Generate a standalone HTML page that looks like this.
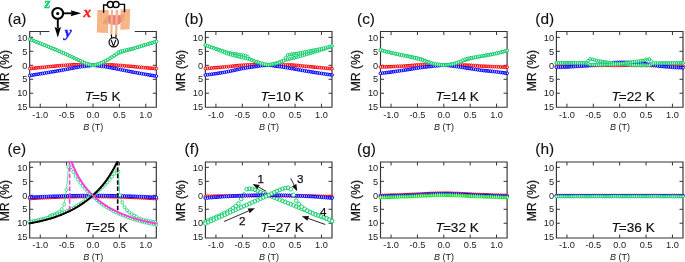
<!DOCTYPE html><html><head><meta charset="utf-8"><style>html,body{margin:0;padding:0;background:#fff;overflow:hidden}svg{display:block;filter:blur(0.3px)}</style></head><body>
<svg width="685" height="262" viewBox="0 0 685 262">
<rect width="685" height="262" fill="#fff"/>
<defs><clipPath id="ca"><rect x="27.2" y="31.5" width="131.6" height="75.7"/></clipPath><clipPath id="cb"><rect x="202.9" y="31.5" width="131.6" height="75.7"/></clipPath><clipPath id="cc"><rect x="378" y="31.5" width="131.6" height="75.7"/></clipPath><clipPath id="cd"><rect x="553.9" y="31.5" width="131.6" height="75.7"/></clipPath><clipPath id="ce"><rect x="27.2" y="161.5" width="131.6" height="75.7"/></clipPath><clipPath id="cf"><rect x="202.9" y="161.5" width="131.6" height="75.7"/></clipPath><clipPath id="cg"><rect x="378" y="161.5" width="131.6" height="75.7"/></clipPath><clipPath id="ch"><rect x="553.9" y="161.5" width="131.6" height="75.7"/></clipPath></defs>
<g font-family="Liberation Sans, sans-serif" font-size="9.2" fill="#1a1a1a"><text x="27.4" y="40.57" text-anchor="end">10</text><text x="27.4" y="54.53" text-anchor="end">5</text><text x="27.4" y="68.5" text-anchor="end">0</text><text x="27.4" y="82.47" text-anchor="end">5</text><text x="27.4" y="96.43" text-anchor="end">10</text><text x="27.4" y="110.4" text-anchor="end">15</text><text x="40.25" y="117.5" text-anchor="middle">-1.0</text><text x="66.62" y="117.5" text-anchor="middle">-0.5</text><text x="93" y="117.5" text-anchor="middle">0.0</text><text x="119.38" y="117.5" text-anchor="middle">0.5</text><text x="145.75" y="117.5" text-anchor="middle">1.0</text></g>
<text font-family="Liberation Sans, sans-serif" font-size="9" fill="#1a1a1a" x="93.2" y="130" text-anchor="middle"><tspan font-style="italic">B</tspan> (T)</text>
<text font-family="Liberation Sans, sans-serif" font-size="12.2" fill="#111" stroke="#111" stroke-width="0.25" x="0" y="0" text-anchor="middle" transform="translate(8.8 70.7) rotate(-90)">MR (%)</text>
<text font-family="Liberation Sans, sans-serif" font-size="15.4" fill="#111" stroke="#111" stroke-width="0.12" x="7.65" y="24.4">(a)</text>
<text font-family="Liberation Sans, sans-serif" font-size="13.6" fill="#111" stroke="#111" stroke-width="0.15" x="84.7" y="100.9"><tspan font-style="italic">T</tspan><tspan dx="-0.9">=5 K</tspan></text>
<g font-family="Liberation Sans, sans-serif" font-size="9.2" fill="#1a1a1a"><text x="203.1" y="40.57" text-anchor="end">10</text><text x="203.1" y="54.53" text-anchor="end">5</text><text x="203.1" y="68.5" text-anchor="end">0</text><text x="203.1" y="82.47" text-anchor="end">5</text><text x="203.1" y="96.43" text-anchor="end">10</text><text x="203.1" y="110.4" text-anchor="end">15</text><text x="215.95" y="117.5" text-anchor="middle">-1.0</text><text x="242.32" y="117.5" text-anchor="middle">-0.5</text><text x="268.7" y="117.5" text-anchor="middle">0.0</text><text x="295.07" y="117.5" text-anchor="middle">0.5</text><text x="321.45" y="117.5" text-anchor="middle">1.0</text></g>
<text font-family="Liberation Sans, sans-serif" font-size="9" fill="#1a1a1a" x="268.9" y="130" text-anchor="middle"><tspan font-style="italic">B</tspan> (T)</text>
<text font-family="Liberation Sans, sans-serif" font-size="12.2" fill="#111" stroke="#111" stroke-width="0.25" x="0" y="0" text-anchor="middle" transform="translate(184.5 70.7) rotate(-90)">MR (%)</text>
<text font-family="Liberation Sans, sans-serif" font-size="15.4" fill="#111" stroke="#111" stroke-width="0.12" x="184.55" y="24.4">(b)</text>
<text font-family="Liberation Sans, sans-serif" font-size="13.6" fill="#111" stroke="#111" stroke-width="0.15" x="260.4" y="100.9"><tspan font-style="italic">T</tspan><tspan dx="-0.9">=10 K</tspan></text>
<g font-family="Liberation Sans, sans-serif" font-size="9.2" fill="#1a1a1a"><text x="378.2" y="40.57" text-anchor="end">10</text><text x="378.2" y="54.53" text-anchor="end">5</text><text x="378.2" y="68.5" text-anchor="end">0</text><text x="378.2" y="82.47" text-anchor="end">5</text><text x="378.2" y="96.43" text-anchor="end">10</text><text x="378.2" y="110.4" text-anchor="end">15</text><text x="391.05" y="117.5" text-anchor="middle">-1.0</text><text x="417.43" y="117.5" text-anchor="middle">-0.5</text><text x="443.8" y="117.5" text-anchor="middle">0.0</text><text x="470.18" y="117.5" text-anchor="middle">0.5</text><text x="496.55" y="117.5" text-anchor="middle">1.0</text></g>
<text font-family="Liberation Sans, sans-serif" font-size="9" fill="#1a1a1a" x="444" y="130" text-anchor="middle"><tspan font-style="italic">B</tspan> (T)</text>
<text font-family="Liberation Sans, sans-serif" font-size="12.2" fill="#111" stroke="#111" stroke-width="0.25" x="0" y="0" text-anchor="middle" transform="translate(359.6 70.7) rotate(-90)">MR (%)</text>
<text font-family="Liberation Sans, sans-serif" font-size="15.4" fill="#111" stroke="#111" stroke-width="0.12" x="357.05" y="24.4">(c)</text>
<text font-family="Liberation Sans, sans-serif" font-size="13.6" fill="#111" stroke="#111" stroke-width="0.15" x="435.5" y="100.9"><tspan font-style="italic">T</tspan><tspan dx="-0.9">=14 K</tspan></text>
<g font-family="Liberation Sans, sans-serif" font-size="9.2" fill="#1a1a1a"><text x="554.1" y="40.57" text-anchor="end">10</text><text x="554.1" y="54.53" text-anchor="end">5</text><text x="554.1" y="68.5" text-anchor="end">0</text><text x="554.1" y="82.47" text-anchor="end">5</text><text x="554.1" y="96.43" text-anchor="end">10</text><text x="554.1" y="110.4" text-anchor="end">15</text><text x="566.95" y="117.5" text-anchor="middle">-1.0</text><text x="593.32" y="117.5" text-anchor="middle">-0.5</text><text x="619.7" y="117.5" text-anchor="middle">0.0</text><text x="646.07" y="117.5" text-anchor="middle">0.5</text><text x="672.45" y="117.5" text-anchor="middle">1.0</text></g>
<text font-family="Liberation Sans, sans-serif" font-size="9" fill="#1a1a1a" x="619.9" y="130" text-anchor="middle"><tspan font-style="italic">B</tspan> (T)</text>
<text font-family="Liberation Sans, sans-serif" font-size="12.2" fill="#111" stroke="#111" stroke-width="0.25" x="0" y="0" text-anchor="middle" transform="translate(535.5 70.7) rotate(-90)">MR (%)</text>
<text font-family="Liberation Sans, sans-serif" font-size="15.4" fill="#111" stroke="#111" stroke-width="0.12" x="535.35" y="24.4">(d)</text>
<text font-family="Liberation Sans, sans-serif" font-size="13.6" fill="#111" stroke="#111" stroke-width="0.15" x="611.4" y="100.9"><tspan font-style="italic">T</tspan><tspan dx="-0.9">=22 K</tspan></text>
<g font-family="Liberation Sans, sans-serif" font-size="9.2" fill="#1a1a1a"><text x="27.4" y="170.57" text-anchor="end">10</text><text x="27.4" y="184.53" text-anchor="end">5</text><text x="27.4" y="198.5" text-anchor="end">0</text><text x="27.4" y="212.47" text-anchor="end">5</text><text x="27.4" y="226.43" text-anchor="end">10</text><text x="27.4" y="240.4" text-anchor="end">15</text><text x="40.25" y="248" text-anchor="middle">-1.0</text><text x="66.62" y="248" text-anchor="middle">-0.5</text><text x="93" y="248" text-anchor="middle">0.0</text><text x="119.38" y="248" text-anchor="middle">0.5</text><text x="145.75" y="248" text-anchor="middle">1.0</text></g>
<text font-family="Liberation Sans, sans-serif" font-size="9" fill="#1a1a1a" x="93.2" y="260" text-anchor="middle"><tspan font-style="italic">B</tspan> (T)</text>
<text font-family="Liberation Sans, sans-serif" font-size="12.2" fill="#111" stroke="#111" stroke-width="0.25" x="0" y="0" text-anchor="middle" transform="translate(8.8 200.7) rotate(-90)">MR (%)</text>
<text font-family="Liberation Sans, sans-serif" font-size="15.4" fill="#111" stroke="#111" stroke-width="0.12" x="7.45" y="154.4">(e)</text>
<text font-family="Liberation Sans, sans-serif" font-size="13.6" fill="#111" stroke="#111" stroke-width="0.15" x="84.7" y="231.8"><tspan font-style="italic">T</tspan><tspan dx="-0.9">=25 K</tspan></text>
<g font-family="Liberation Sans, sans-serif" font-size="9.2" fill="#1a1a1a"><text x="203.1" y="170.57" text-anchor="end">10</text><text x="203.1" y="184.53" text-anchor="end">5</text><text x="203.1" y="198.5" text-anchor="end">0</text><text x="203.1" y="212.47" text-anchor="end">5</text><text x="203.1" y="226.43" text-anchor="end">10</text><text x="203.1" y="240.4" text-anchor="end">15</text><text x="215.95" y="248" text-anchor="middle">-1.0</text><text x="242.32" y="248" text-anchor="middle">-0.5</text><text x="268.7" y="248" text-anchor="middle">0.0</text><text x="295.07" y="248" text-anchor="middle">0.5</text><text x="321.45" y="248" text-anchor="middle">1.0</text></g>
<text font-family="Liberation Sans, sans-serif" font-size="9" fill="#1a1a1a" x="268.9" y="260" text-anchor="middle"><tspan font-style="italic">B</tspan> (T)</text>
<text font-family="Liberation Sans, sans-serif" font-size="12.2" fill="#111" stroke="#111" stroke-width="0.25" x="0" y="0" text-anchor="middle" transform="translate(184.5 200.7) rotate(-90)">MR (%)</text>
<text font-family="Liberation Sans, sans-serif" font-size="15.4" fill="#111" stroke="#111" stroke-width="0.12" x="184.55" y="154.4">(f)</text>
<text font-family="Liberation Sans, sans-serif" font-size="13.6" fill="#111" stroke="#111" stroke-width="0.15" x="260.4" y="231.8"><tspan font-style="italic">T</tspan><tspan dx="-0.9">=27 K</tspan></text>
<g font-family="Liberation Sans, sans-serif" font-size="9.2" fill="#1a1a1a"><text x="378.2" y="170.57" text-anchor="end">10</text><text x="378.2" y="184.53" text-anchor="end">5</text><text x="378.2" y="198.5" text-anchor="end">0</text><text x="378.2" y="212.47" text-anchor="end">5</text><text x="378.2" y="226.43" text-anchor="end">10</text><text x="378.2" y="240.4" text-anchor="end">15</text><text x="391.05" y="248" text-anchor="middle">-1.0</text><text x="417.43" y="248" text-anchor="middle">-0.5</text><text x="443.8" y="248" text-anchor="middle">0.0</text><text x="470.18" y="248" text-anchor="middle">0.5</text><text x="496.55" y="248" text-anchor="middle">1.0</text></g>
<text font-family="Liberation Sans, sans-serif" font-size="9" fill="#1a1a1a" x="444" y="260" text-anchor="middle"><tspan font-style="italic">B</tspan> (T)</text>
<text font-family="Liberation Sans, sans-serif" font-size="12.2" fill="#111" stroke="#111" stroke-width="0.25" x="0" y="0" text-anchor="middle" transform="translate(359.6 200.7) rotate(-90)">MR (%)</text>
<text font-family="Liberation Sans, sans-serif" font-size="15.4" fill="#111" stroke="#111" stroke-width="0.12" x="357.05" y="154.4">(g)</text>
<text font-family="Liberation Sans, sans-serif" font-size="13.6" fill="#111" stroke="#111" stroke-width="0.15" x="435.5" y="231.8"><tspan font-style="italic">T</tspan><tspan dx="-0.9">=32 K</tspan></text>
<g font-family="Liberation Sans, sans-serif" font-size="9.2" fill="#1a1a1a"><text x="554.1" y="170.57" text-anchor="end">10</text><text x="554.1" y="184.53" text-anchor="end">5</text><text x="554.1" y="198.5" text-anchor="end">0</text><text x="554.1" y="212.47" text-anchor="end">5</text><text x="554.1" y="226.43" text-anchor="end">10</text><text x="554.1" y="240.4" text-anchor="end">15</text><text x="566.95" y="248" text-anchor="middle">-1.0</text><text x="593.32" y="248" text-anchor="middle">-0.5</text><text x="619.7" y="248" text-anchor="middle">0.0</text><text x="646.07" y="248" text-anchor="middle">0.5</text><text x="672.45" y="248" text-anchor="middle">1.0</text></g>
<text font-family="Liberation Sans, sans-serif" font-size="9" fill="#1a1a1a" x="619.9" y="260" text-anchor="middle"><tspan font-style="italic">B</tspan> (T)</text>
<text font-family="Liberation Sans, sans-serif" font-size="12.2" fill="#111" stroke="#111" stroke-width="0.25" x="0" y="0" text-anchor="middle" transform="translate(535.5 200.7) rotate(-90)">MR (%)</text>
<text font-family="Liberation Sans, sans-serif" font-size="15.4" fill="#111" stroke="#111" stroke-width="0.12" x="535.35" y="154.4">(h)</text>
<text font-family="Liberation Sans, sans-serif" font-size="13.6" fill="#111" stroke="#111" stroke-width="0.15" x="611.4" y="231.8"><tspan font-style="italic">T</tspan><tspan dx="-0.9">=36 K</tspan></text>
<path d="M40.25 107.2v-3.5M40.25 31.5v3.5M66.62 107.2v-3.5M66.62 31.5v3.5M93 107.2v-3.5M93 31.5v3.5M119.38 107.2v-3.5M119.38 31.5v3.5M145.75 107.2v-3.5M145.75 31.5v3.5M29.7 37.37h3.5M156.3 37.37h-3.5M29.7 51.33h3.5M156.3 51.33h-3.5M29.7 65.3h3.5M156.3 65.3h-3.5M29.7 79.27h3.5M156.3 79.27h-3.5M29.7 93.23h3.5M156.3 93.23h-3.5" stroke="#333" stroke-width="1" fill="none"/>
<path d="M29.7 31.5 H49.3 M135 31.5 H156.3 V107.2 H29.7 V31.5" stroke="#333" stroke-width="1.15" fill="none" stroke-linecap="square"/>
<path d="M215.95 107.2v-3.5M215.95 31.5v3.5M242.32 107.2v-3.5M242.32 31.5v3.5M268.7 107.2v-3.5M268.7 31.5v3.5M295.07 107.2v-3.5M295.07 31.5v3.5M321.45 107.2v-3.5M321.45 31.5v3.5M205.4 37.37h3.5M332 37.37h-3.5M205.4 51.33h3.5M332 51.33h-3.5M205.4 65.3h3.5M332 65.3h-3.5M205.4 79.27h3.5M332 79.27h-3.5M205.4 93.23h3.5M332 93.23h-3.5" stroke="#333" stroke-width="1" fill="none"/>
<path d="M205.4 31.5H332V107.2H205.4Z" stroke="#333" stroke-width="1.15" fill="none" stroke-linecap="square"/>
<path d="M391.05 107.2v-3.5M391.05 31.5v3.5M417.43 107.2v-3.5M417.43 31.5v3.5M443.8 107.2v-3.5M443.8 31.5v3.5M470.18 107.2v-3.5M470.18 31.5v3.5M496.55 107.2v-3.5M496.55 31.5v3.5M380.5 37.37h3.5M507.1 37.37h-3.5M380.5 51.33h3.5M507.1 51.33h-3.5M380.5 65.3h3.5M507.1 65.3h-3.5M380.5 79.27h3.5M507.1 79.27h-3.5M380.5 93.23h3.5M507.1 93.23h-3.5" stroke="#333" stroke-width="1" fill="none"/>
<path d="M380.5 31.5H507.1V107.2H380.5Z" stroke="#333" stroke-width="1.15" fill="none" stroke-linecap="square"/>
<path d="M566.95 107.2v-3.5M566.95 31.5v3.5M593.32 107.2v-3.5M593.32 31.5v3.5M619.7 107.2v-3.5M619.7 31.5v3.5M646.07 107.2v-3.5M646.07 31.5v3.5M672.45 107.2v-3.5M672.45 31.5v3.5M556.4 37.37h3.5M683 37.37h-3.5M556.4 51.33h3.5M683 51.33h-3.5M556.4 65.3h3.5M683 65.3h-3.5M556.4 79.27h3.5M683 79.27h-3.5M556.4 93.23h3.5M683 93.23h-3.5" stroke="#333" stroke-width="1" fill="none"/>
<path d="M556.4 31.5H683V107.2H556.4Z" stroke="#333" stroke-width="1.15" fill="none" stroke-linecap="square"/>
<path d="M40.25 238v-3.5M40.25 162v3.5M66.62 238v-3.5M66.62 162v3.5M93 238v-3.5M93 162v3.5M119.38 238v-3.5M119.38 162v3.5M145.75 238v-3.5M145.75 162v3.5M29.7 167.37h3.5M156.3 167.37h-3.5M29.7 181.33h3.5M156.3 181.33h-3.5M29.7 195.3h3.5M156.3 195.3h-3.5M29.7 209.27h3.5M156.3 209.27h-3.5M29.7 223.23h3.5M156.3 223.23h-3.5" stroke="#333" stroke-width="1" fill="none"/>
<path d="M29.7 162H156.3V238H29.7Z" stroke="#333" stroke-width="1.15" fill="none" stroke-linecap="square"/>
<path d="M215.95 238v-3.5M215.95 162v3.5M242.32 238v-3.5M242.32 162v3.5M268.7 238v-3.5M268.7 162v3.5M295.07 238v-3.5M295.07 162v3.5M321.45 238v-3.5M321.45 162v3.5M205.4 167.37h3.5M332 167.37h-3.5M205.4 181.33h3.5M332 181.33h-3.5M205.4 195.3h3.5M332 195.3h-3.5M205.4 209.27h3.5M332 209.27h-3.5M205.4 223.23h3.5M332 223.23h-3.5" stroke="#333" stroke-width="1" fill="none"/>
<path d="M205.4 162H332V238H205.4Z" stroke="#333" stroke-width="1.15" fill="none" stroke-linecap="square"/>
<path d="M391.05 238v-3.5M391.05 162v3.5M417.43 238v-3.5M417.43 162v3.5M443.8 238v-3.5M443.8 162v3.5M470.18 238v-3.5M470.18 162v3.5M496.55 238v-3.5M496.55 162v3.5M380.5 167.37h3.5M507.1 167.37h-3.5M380.5 181.33h3.5M507.1 181.33h-3.5M380.5 195.3h3.5M507.1 195.3h-3.5M380.5 209.27h3.5M507.1 209.27h-3.5M380.5 223.23h3.5M507.1 223.23h-3.5" stroke="#333" stroke-width="1" fill="none"/>
<path d="M380.5 162H507.1V238H380.5Z" stroke="#333" stroke-width="1.15" fill="none" stroke-linecap="square"/>
<path d="M566.95 238v-3.5M566.95 162v3.5M593.32 238v-3.5M593.32 162v3.5M619.7 238v-3.5M619.7 162v3.5M646.07 238v-3.5M646.07 162v3.5M672.45 238v-3.5M672.45 162v3.5M556.4 167.37h3.5M683 167.37h-3.5M556.4 181.33h3.5M683 181.33h-3.5M556.4 195.3h3.5M683 195.3h-3.5M556.4 209.27h3.5M683 209.27h-3.5M556.4 223.23h3.5M683 223.23h-3.5" stroke="#333" stroke-width="1" fill="none"/>
<path d="M556.4 162H683V238H556.4Z" stroke="#333" stroke-width="1.15" fill="none" stroke-linecap="square"/>
<g><g clip-path="url(#ca)"><path d="M28.3 68.6a1.4 1.4 0 1 0 2.8 0a1.4 1.4 0 1 0 -2.8 0M30.41 68.38a1.4 1.4 0 1 0 2.8 0a1.4 1.4 0 1 0 -2.8 0M32.52 68.16a1.4 1.4 0 1 0 2.8 0a1.4 1.4 0 1 0 -2.8 0M34.63 67.95a1.4 1.4 0 1 0 2.8 0a1.4 1.4 0 1 0 -2.8 0M36.74 67.74a1.4 1.4 0 1 0 2.8 0a1.4 1.4 0 1 0 -2.8 0M38.85 67.53a1.4 1.4 0 1 0 2.8 0a1.4 1.4 0 1 0 -2.8 0M40.96 67.33a1.4 1.4 0 1 0 2.8 0a1.4 1.4 0 1 0 -2.8 0M43.07 67.12a1.4 1.4 0 1 0 2.8 0a1.4 1.4 0 1 0 -2.8 0M45.18 66.93a1.4 1.4 0 1 0 2.8 0a1.4 1.4 0 1 0 -2.8 0M47.29 66.73a1.4 1.4 0 1 0 2.8 0a1.4 1.4 0 1 0 -2.8 0M49.4 66.53a1.4 1.4 0 1 0 2.8 0a1.4 1.4 0 1 0 -2.8 0M51.51 66.33a1.4 1.4 0 1 0 2.8 0a1.4 1.4 0 1 0 -2.8 0M53.62 66.13a1.4 1.4 0 1 0 2.8 0a1.4 1.4 0 1 0 -2.8 0M55.73 65.94a1.4 1.4 0 1 0 2.8 0a1.4 1.4 0 1 0 -2.8 0M57.84 65.76a1.4 1.4 0 1 0 2.8 0a1.4 1.4 0 1 0 -2.8 0M59.95 65.59a1.4 1.4 0 1 0 2.8 0a1.4 1.4 0 1 0 -2.8 0M62.06 65.44a1.4 1.4 0 1 0 2.8 0a1.4 1.4 0 1 0 -2.8 0M64.17 65.28a1.4 1.4 0 1 0 2.8 0a1.4 1.4 0 1 0 -2.8 0M66.28 65.12a1.4 1.4 0 1 0 2.8 0a1.4 1.4 0 1 0 -2.8 0M68.39 64.97a1.4 1.4 0 1 0 2.8 0a1.4 1.4 0 1 0 -2.8 0M70.5 64.84a1.4 1.4 0 1 0 2.8 0a1.4 1.4 0 1 0 -2.8 0M72.61 64.76a1.4 1.4 0 1 0 2.8 0a1.4 1.4 0 1 0 -2.8 0M74.72 64.74a1.4 1.4 0 1 0 2.8 0a1.4 1.4 0 1 0 -2.8 0M76.83 64.77a1.4 1.4 0 1 0 2.8 0a1.4 1.4 0 1 0 -2.8 0M78.94 64.82a1.4 1.4 0 1 0 2.8 0a1.4 1.4 0 1 0 -2.8 0M81.05 64.88a1.4 1.4 0 1 0 2.8 0a1.4 1.4 0 1 0 -2.8 0M83.16 64.95a1.4 1.4 0 1 0 2.8 0a1.4 1.4 0 1 0 -2.8 0M85.27 65.03a1.4 1.4 0 1 0 2.8 0a1.4 1.4 0 1 0 -2.8 0M87.38 65.15a1.4 1.4 0 1 0 2.8 0a1.4 1.4 0 1 0 -2.8 0M89.49 65.25a1.4 1.4 0 1 0 2.8 0a1.4 1.4 0 1 0 -2.8 0M91.6 65.3a1.4 1.4 0 1 0 2.8 0a1.4 1.4 0 1 0 -2.8 0M93.71 65.26a1.4 1.4 0 1 0 2.8 0a1.4 1.4 0 1 0 -2.8 0M95.82 65.17a1.4 1.4 0 1 0 2.8 0a1.4 1.4 0 1 0 -2.8 0M97.93 65.07a1.4 1.4 0 1 0 2.8 0a1.4 1.4 0 1 0 -2.8 0M100.04 65.01a1.4 1.4 0 1 0 2.8 0a1.4 1.4 0 1 0 -2.8 0M102.15 64.96a1.4 1.4 0 1 0 2.8 0a1.4 1.4 0 1 0 -2.8 0M104.26 64.92a1.4 1.4 0 1 0 2.8 0a1.4 1.4 0 1 0 -2.8 0M106.37 64.89a1.4 1.4 0 1 0 2.8 0a1.4 1.4 0 1 0 -2.8 0M108.48 64.88a1.4 1.4 0 1 0 2.8 0a1.4 1.4 0 1 0 -2.8 0M110.59 64.93a1.4 1.4 0 1 0 2.8 0a1.4 1.4 0 1 0 -2.8 0M112.7 65.02a1.4 1.4 0 1 0 2.8 0a1.4 1.4 0 1 0 -2.8 0M114.81 65.16a1.4 1.4 0 1 0 2.8 0a1.4 1.4 0 1 0 -2.8 0M116.92 65.32a1.4 1.4 0 1 0 2.8 0a1.4 1.4 0 1 0 -2.8 0M119.03 65.5a1.4 1.4 0 1 0 2.8 0a1.4 1.4 0 1 0 -2.8 0M121.14 65.69a1.4 1.4 0 1 0 2.8 0a1.4 1.4 0 1 0 -2.8 0M123.25 65.87a1.4 1.4 0 1 0 2.8 0a1.4 1.4 0 1 0 -2.8 0M125.36 66.04a1.4 1.4 0 1 0 2.8 0a1.4 1.4 0 1 0 -2.8 0M127.47 66.21a1.4 1.4 0 1 0 2.8 0a1.4 1.4 0 1 0 -2.8 0M129.58 66.4a1.4 1.4 0 1 0 2.8 0a1.4 1.4 0 1 0 -2.8 0M131.69 66.6a1.4 1.4 0 1 0 2.8 0a1.4 1.4 0 1 0 -2.8 0M133.8 66.8a1.4 1.4 0 1 0 2.8 0a1.4 1.4 0 1 0 -2.8 0M135.91 67.01a1.4 1.4 0 1 0 2.8 0a1.4 1.4 0 1 0 -2.8 0M138.02 67.21a1.4 1.4 0 1 0 2.8 0a1.4 1.4 0 1 0 -2.8 0M140.13 67.4a1.4 1.4 0 1 0 2.8 0a1.4 1.4 0 1 0 -2.8 0M142.24 67.59a1.4 1.4 0 1 0 2.8 0a1.4 1.4 0 1 0 -2.8 0M144.35 67.77a1.4 1.4 0 1 0 2.8 0a1.4 1.4 0 1 0 -2.8 0M146.46 67.94a1.4 1.4 0 1 0 2.8 0a1.4 1.4 0 1 0 -2.8 0M148.57 68.12a1.4 1.4 0 1 0 2.8 0a1.4 1.4 0 1 0 -2.8 0M150.68 68.28a1.4 1.4 0 1 0 2.8 0a1.4 1.4 0 1 0 -2.8 0M152.79 68.45a1.4 1.4 0 1 0 2.8 0a1.4 1.4 0 1 0 -2.8 0M154.9 68.61a1.4 1.4 0 1 0 2.8 0a1.4 1.4 0 1 0 -2.8 0" fill="#fff" stroke="#ff0000" stroke-width="1.0"/><path d="M28.3 75.55a1.4 1.4 0 1 0 2.8 0a1.4 1.4 0 1 0 -2.8 0M30.41 75.2a1.4 1.4 0 1 0 2.8 0a1.4 1.4 0 1 0 -2.8 0M32.52 74.85a1.4 1.4 0 1 0 2.8 0a1.4 1.4 0 1 0 -2.8 0M34.63 74.51a1.4 1.4 0 1 0 2.8 0a1.4 1.4 0 1 0 -2.8 0M36.74 74.16a1.4 1.4 0 1 0 2.8 0a1.4 1.4 0 1 0 -2.8 0M38.85 73.81a1.4 1.4 0 1 0 2.8 0a1.4 1.4 0 1 0 -2.8 0M40.96 73.46a1.4 1.4 0 1 0 2.8 0a1.4 1.4 0 1 0 -2.8 0M43.07 73.11a1.4 1.4 0 1 0 2.8 0a1.4 1.4 0 1 0 -2.8 0M45.18 72.75a1.4 1.4 0 1 0 2.8 0a1.4 1.4 0 1 0 -2.8 0M47.29 72.4a1.4 1.4 0 1 0 2.8 0a1.4 1.4 0 1 0 -2.8 0M49.4 72.05a1.4 1.4 0 1 0 2.8 0a1.4 1.4 0 1 0 -2.8 0M51.51 71.7a1.4 1.4 0 1 0 2.8 0a1.4 1.4 0 1 0 -2.8 0M53.62 71.35a1.4 1.4 0 1 0 2.8 0a1.4 1.4 0 1 0 -2.8 0M55.73 71a1.4 1.4 0 1 0 2.8 0a1.4 1.4 0 1 0 -2.8 0M57.84 70.64a1.4 1.4 0 1 0 2.8 0a1.4 1.4 0 1 0 -2.8 0M59.95 70.28a1.4 1.4 0 1 0 2.8 0a1.4 1.4 0 1 0 -2.8 0M62.06 69.91a1.4 1.4 0 1 0 2.8 0a1.4 1.4 0 1 0 -2.8 0M64.17 69.52a1.4 1.4 0 1 0 2.8 0a1.4 1.4 0 1 0 -2.8 0M66.28 69.12a1.4 1.4 0 1 0 2.8 0a1.4 1.4 0 1 0 -2.8 0M68.39 68.71a1.4 1.4 0 1 0 2.8 0a1.4 1.4 0 1 0 -2.8 0M70.5 68.29a1.4 1.4 0 1 0 2.8 0a1.4 1.4 0 1 0 -2.8 0M72.61 67.88a1.4 1.4 0 1 0 2.8 0a1.4 1.4 0 1 0 -2.8 0M74.72 67.49a1.4 1.4 0 1 0 2.8 0a1.4 1.4 0 1 0 -2.8 0M76.83 67.13a1.4 1.4 0 1 0 2.8 0a1.4 1.4 0 1 0 -2.8 0M78.94 66.81a1.4 1.4 0 1 0 2.8 0a1.4 1.4 0 1 0 -2.8 0M81.05 66.52a1.4 1.4 0 1 0 2.8 0a1.4 1.4 0 1 0 -2.8 0M83.16 66.26a1.4 1.4 0 1 0 2.8 0a1.4 1.4 0 1 0 -2.8 0M85.27 66.02a1.4 1.4 0 1 0 2.8 0a1.4 1.4 0 1 0 -2.8 0M87.38 65.78a1.4 1.4 0 1 0 2.8 0a1.4 1.4 0 1 0 -2.8 0M89.49 65.49a1.4 1.4 0 1 0 2.8 0a1.4 1.4 0 1 0 -2.8 0M91.6 65.3a1.4 1.4 0 1 0 2.8 0a1.4 1.4 0 1 0 -2.8 0M93.71 65.44a1.4 1.4 0 1 0 2.8 0a1.4 1.4 0 1 0 -2.8 0M95.82 65.72a1.4 1.4 0 1 0 2.8 0a1.4 1.4 0 1 0 -2.8 0M97.93 65.98a1.4 1.4 0 1 0 2.8 0a1.4 1.4 0 1 0 -2.8 0M100.04 66.23a1.4 1.4 0 1 0 2.8 0a1.4 1.4 0 1 0 -2.8 0M102.15 66.51a1.4 1.4 0 1 0 2.8 0a1.4 1.4 0 1 0 -2.8 0M104.26 66.81a1.4 1.4 0 1 0 2.8 0a1.4 1.4 0 1 0 -2.8 0M106.37 67.15a1.4 1.4 0 1 0 2.8 0a1.4 1.4 0 1 0 -2.8 0M108.48 67.53a1.4 1.4 0 1 0 2.8 0a1.4 1.4 0 1 0 -2.8 0M110.59 67.93a1.4 1.4 0 1 0 2.8 0a1.4 1.4 0 1 0 -2.8 0M112.7 68.35a1.4 1.4 0 1 0 2.8 0a1.4 1.4 0 1 0 -2.8 0M114.81 68.78a1.4 1.4 0 1 0 2.8 0a1.4 1.4 0 1 0 -2.8 0M116.92 69.2a1.4 1.4 0 1 0 2.8 0a1.4 1.4 0 1 0 -2.8 0M119.03 69.61a1.4 1.4 0 1 0 2.8 0a1.4 1.4 0 1 0 -2.8 0M121.14 70.03a1.4 1.4 0 1 0 2.8 0a1.4 1.4 0 1 0 -2.8 0M123.25 70.45a1.4 1.4 0 1 0 2.8 0a1.4 1.4 0 1 0 -2.8 0M125.36 70.87a1.4 1.4 0 1 0 2.8 0a1.4 1.4 0 1 0 -2.8 0M127.47 71.29a1.4 1.4 0 1 0 2.8 0a1.4 1.4 0 1 0 -2.8 0M129.58 71.71a1.4 1.4 0 1 0 2.8 0a1.4 1.4 0 1 0 -2.8 0M131.69 72.11a1.4 1.4 0 1 0 2.8 0a1.4 1.4 0 1 0 -2.8 0M133.8 72.51a1.4 1.4 0 1 0 2.8 0a1.4 1.4 0 1 0 -2.8 0M135.91 72.89a1.4 1.4 0 1 0 2.8 0a1.4 1.4 0 1 0 -2.8 0M138.02 73.27a1.4 1.4 0 1 0 2.8 0a1.4 1.4 0 1 0 -2.8 0M140.13 73.64a1.4 1.4 0 1 0 2.8 0a1.4 1.4 0 1 0 -2.8 0M142.24 74.01a1.4 1.4 0 1 0 2.8 0a1.4 1.4 0 1 0 -2.8 0M144.35 74.38a1.4 1.4 0 1 0 2.8 0a1.4 1.4 0 1 0 -2.8 0M146.46 74.74a1.4 1.4 0 1 0 2.8 0a1.4 1.4 0 1 0 -2.8 0M148.57 75.09a1.4 1.4 0 1 0 2.8 0a1.4 1.4 0 1 0 -2.8 0M150.68 75.44a1.4 1.4 0 1 0 2.8 0a1.4 1.4 0 1 0 -2.8 0M152.79 75.78a1.4 1.4 0 1 0 2.8 0a1.4 1.4 0 1 0 -2.8 0M154.9 76.11a1.4 1.4 0 1 0 2.8 0a1.4 1.4 0 1 0 -2.8 0" fill="#fff" stroke="#0000ff" stroke-width="1.0"/><path d="M28.3 39.25a1.4 1.4 0 1 0 2.8 0a1.4 1.4 0 1 0 -2.8 0M30.41 40.07a1.4 1.4 0 1 0 2.8 0a1.4 1.4 0 1 0 -2.8 0M32.52 40.89a1.4 1.4 0 1 0 2.8 0a1.4 1.4 0 1 0 -2.8 0M34.63 41.73a1.4 1.4 0 1 0 2.8 0a1.4 1.4 0 1 0 -2.8 0M36.74 42.56a1.4 1.4 0 1 0 2.8 0a1.4 1.4 0 1 0 -2.8 0M38.85 43.4a1.4 1.4 0 1 0 2.8 0a1.4 1.4 0 1 0 -2.8 0M40.96 44.25a1.4 1.4 0 1 0 2.8 0a1.4 1.4 0 1 0 -2.8 0M43.07 45.1a1.4 1.4 0 1 0 2.8 0a1.4 1.4 0 1 0 -2.8 0M45.18 45.96a1.4 1.4 0 1 0 2.8 0a1.4 1.4 0 1 0 -2.8 0M47.29 46.82a1.4 1.4 0 1 0 2.8 0a1.4 1.4 0 1 0 -2.8 0M49.4 47.68a1.4 1.4 0 1 0 2.8 0a1.4 1.4 0 1 0 -2.8 0M51.51 48.55a1.4 1.4 0 1 0 2.8 0a1.4 1.4 0 1 0 -2.8 0M53.62 49.42a1.4 1.4 0 1 0 2.8 0a1.4 1.4 0 1 0 -2.8 0M55.73 50.3a1.4 1.4 0 1 0 2.8 0a1.4 1.4 0 1 0 -2.8 0M57.84 51.19a1.4 1.4 0 1 0 2.8 0a1.4 1.4 0 1 0 -2.8 0M59.95 52.09a1.4 1.4 0 1 0 2.8 0a1.4 1.4 0 1 0 -2.8 0M62.06 53.01a1.4 1.4 0 1 0 2.8 0a1.4 1.4 0 1 0 -2.8 0M64.17 53.95a1.4 1.4 0 1 0 2.8 0a1.4 1.4 0 1 0 -2.8 0M66.28 54.92a1.4 1.4 0 1 0 2.8 0a1.4 1.4 0 1 0 -2.8 0M68.39 55.91a1.4 1.4 0 1 0 2.8 0a1.4 1.4 0 1 0 -2.8 0M70.5 56.9a1.4 1.4 0 1 0 2.8 0a1.4 1.4 0 1 0 -2.8 0M72.61 57.9a1.4 1.4 0 1 0 2.8 0a1.4 1.4 0 1 0 -2.8 0M74.72 58.89a1.4 1.4 0 1 0 2.8 0a1.4 1.4 0 1 0 -2.8 0M76.83 59.87a1.4 1.4 0 1 0 2.8 0a1.4 1.4 0 1 0 -2.8 0M78.94 60.83a1.4 1.4 0 1 0 2.8 0a1.4 1.4 0 1 0 -2.8 0M81.05 61.83a1.4 1.4 0 1 0 2.8 0a1.4 1.4 0 1 0 -2.8 0M83.16 62.84a1.4 1.4 0 1 0 2.8 0a1.4 1.4 0 1 0 -2.8 0M85.27 63.71a1.4 1.4 0 1 0 2.8 0a1.4 1.4 0 1 0 -2.8 0M87.38 64.35a1.4 1.4 0 1 0 2.8 0a1.4 1.4 0 1 0 -2.8 0M89.49 64.91a1.4 1.4 0 1 0 2.8 0a1.4 1.4 0 1 0 -2.8 0M91.6 65.16a1.4 1.4 0 1 0 2.8 0a1.4 1.4 0 1 0 -2.8 0M93.71 64.91a1.4 1.4 0 1 0 2.8 0a1.4 1.4 0 1 0 -2.8 0M95.82 64.35a1.4 1.4 0 1 0 2.8 0a1.4 1.4 0 1 0 -2.8 0M97.93 63.71a1.4 1.4 0 1 0 2.8 0a1.4 1.4 0 1 0 -2.8 0M100.04 62.87a1.4 1.4 0 1 0 2.8 0a1.4 1.4 0 1 0 -2.8 0M102.15 61.87a1.4 1.4 0 1 0 2.8 0a1.4 1.4 0 1 0 -2.8 0M104.26 60.83a1.4 1.4 0 1 0 2.8 0a1.4 1.4 0 1 0 -2.8 0M106.37 59.71a1.4 1.4 0 1 0 2.8 0a1.4 1.4 0 1 0 -2.8 0M108.48 58.45a1.4 1.4 0 1 0 2.8 0a1.4 1.4 0 1 0 -2.8 0M110.59 57.12a1.4 1.4 0 1 0 2.8 0a1.4 1.4 0 1 0 -2.8 0M112.7 55.8a1.4 1.4 0 1 0 2.8 0a1.4 1.4 0 1 0 -2.8 0M114.81 54.56a1.4 1.4 0 1 0 2.8 0a1.4 1.4 0 1 0 -2.8 0M116.92 53.47a1.4 1.4 0 1 0 2.8 0a1.4 1.4 0 1 0 -2.8 0M119.03 52.59a1.4 1.4 0 1 0 2.8 0a1.4 1.4 0 1 0 -2.8 0M121.14 51.81a1.4 1.4 0 1 0 2.8 0a1.4 1.4 0 1 0 -2.8 0M123.25 51.11a1.4 1.4 0 1 0 2.8 0a1.4 1.4 0 1 0 -2.8 0M125.36 50.45a1.4 1.4 0 1 0 2.8 0a1.4 1.4 0 1 0 -2.8 0M127.47 49.83a1.4 1.4 0 1 0 2.8 0a1.4 1.4 0 1 0 -2.8 0M129.58 49.23a1.4 1.4 0 1 0 2.8 0a1.4 1.4 0 1 0 -2.8 0M131.69 48.62a1.4 1.4 0 1 0 2.8 0a1.4 1.4 0 1 0 -2.8 0M133.8 47.98a1.4 1.4 0 1 0 2.8 0a1.4 1.4 0 1 0 -2.8 0M135.91 47.33a1.4 1.4 0 1 0 2.8 0a1.4 1.4 0 1 0 -2.8 0M138.02 46.67a1.4 1.4 0 1 0 2.8 0a1.4 1.4 0 1 0 -2.8 0M140.13 46.03a1.4 1.4 0 1 0 2.8 0a1.4 1.4 0 1 0 -2.8 0M142.24 45.38a1.4 1.4 0 1 0 2.8 0a1.4 1.4 0 1 0 -2.8 0M144.35 44.74a1.4 1.4 0 1 0 2.8 0a1.4 1.4 0 1 0 -2.8 0M146.46 44.1a1.4 1.4 0 1 0 2.8 0a1.4 1.4 0 1 0 -2.8 0M148.57 43.46a1.4 1.4 0 1 0 2.8 0a1.4 1.4 0 1 0 -2.8 0M150.68 42.83a1.4 1.4 0 1 0 2.8 0a1.4 1.4 0 1 0 -2.8 0M152.79 42.2a1.4 1.4 0 1 0 2.8 0a1.4 1.4 0 1 0 -2.8 0M154.9 41.57a1.4 1.4 0 1 0 2.8 0a1.4 1.4 0 1 0 -2.8 0" fill="#fff" stroke="#15cd6d" stroke-width="1.0"/><path d="M28.3 39.25a1.4 1.4 0 1 0 2.8 0a1.4 1.4 0 1 0 -2.8 0M30.41 40.07a1.4 1.4 0 1 0 2.8 0a1.4 1.4 0 1 0 -2.8 0M32.52 40.89a1.4 1.4 0 1 0 2.8 0a1.4 1.4 0 1 0 -2.8 0M34.63 41.73a1.4 1.4 0 1 0 2.8 0a1.4 1.4 0 1 0 -2.8 0M36.74 42.56a1.4 1.4 0 1 0 2.8 0a1.4 1.4 0 1 0 -2.8 0M38.85 43.4a1.4 1.4 0 1 0 2.8 0a1.4 1.4 0 1 0 -2.8 0M40.96 44.25a1.4 1.4 0 1 0 2.8 0a1.4 1.4 0 1 0 -2.8 0M43.07 45.1a1.4 1.4 0 1 0 2.8 0a1.4 1.4 0 1 0 -2.8 0M45.18 45.96a1.4 1.4 0 1 0 2.8 0a1.4 1.4 0 1 0 -2.8 0M47.29 46.82a1.4 1.4 0 1 0 2.8 0a1.4 1.4 0 1 0 -2.8 0M49.4 47.68a1.4 1.4 0 1 0 2.8 0a1.4 1.4 0 1 0 -2.8 0M51.51 48.55a1.4 1.4 0 1 0 2.8 0a1.4 1.4 0 1 0 -2.8 0M53.62 49.42a1.4 1.4 0 1 0 2.8 0a1.4 1.4 0 1 0 -2.8 0M55.73 50.3a1.4 1.4 0 1 0 2.8 0a1.4 1.4 0 1 0 -2.8 0M57.84 51.19a1.4 1.4 0 1 0 2.8 0a1.4 1.4 0 1 0 -2.8 0M59.95 52.09a1.4 1.4 0 1 0 2.8 0a1.4 1.4 0 1 0 -2.8 0M62.06 53.01a1.4 1.4 0 1 0 2.8 0a1.4 1.4 0 1 0 -2.8 0M64.17 53.95a1.4 1.4 0 1 0 2.8 0a1.4 1.4 0 1 0 -2.8 0M66.28 54.92a1.4 1.4 0 1 0 2.8 0a1.4 1.4 0 1 0 -2.8 0M68.39 55.91a1.4 1.4 0 1 0 2.8 0a1.4 1.4 0 1 0 -2.8 0M70.5 56.9a1.4 1.4 0 1 0 2.8 0a1.4 1.4 0 1 0 -2.8 0M72.61 57.9a1.4 1.4 0 1 0 2.8 0a1.4 1.4 0 1 0 -2.8 0M74.72 58.89a1.4 1.4 0 1 0 2.8 0a1.4 1.4 0 1 0 -2.8 0M76.83 59.87a1.4 1.4 0 1 0 2.8 0a1.4 1.4 0 1 0 -2.8 0M78.94 60.83a1.4 1.4 0 1 0 2.8 0a1.4 1.4 0 1 0 -2.8 0M81.05 61.83a1.4 1.4 0 1 0 2.8 0a1.4 1.4 0 1 0 -2.8 0M83.16 62.84a1.4 1.4 0 1 0 2.8 0a1.4 1.4 0 1 0 -2.8 0M85.27 63.71a1.4 1.4 0 1 0 2.8 0a1.4 1.4 0 1 0 -2.8 0M87.38 64.35a1.4 1.4 0 1 0 2.8 0a1.4 1.4 0 1 0 -2.8 0M89.49 64.91a1.4 1.4 0 1 0 2.8 0a1.4 1.4 0 1 0 -2.8 0M91.6 65.16a1.4 1.4 0 1 0 2.8 0a1.4 1.4 0 1 0 -2.8 0M93.71 64.91a1.4 1.4 0 1 0 2.8 0a1.4 1.4 0 1 0 -2.8 0M95.82 64.35a1.4 1.4 0 1 0 2.8 0a1.4 1.4 0 1 0 -2.8 0M97.93 63.71a1.4 1.4 0 1 0 2.8 0a1.4 1.4 0 1 0 -2.8 0M100.04 62.87a1.4 1.4 0 1 0 2.8 0a1.4 1.4 0 1 0 -2.8 0M102.15 61.87a1.4 1.4 0 1 0 2.8 0a1.4 1.4 0 1 0 -2.8 0M104.26 60.83a1.4 1.4 0 1 0 2.8 0a1.4 1.4 0 1 0 -2.8 0M106.37 59.71a1.4 1.4 0 1 0 2.8 0a1.4 1.4 0 1 0 -2.8 0M108.48 58.45a1.4 1.4 0 1 0 2.8 0a1.4 1.4 0 1 0 -2.8 0M110.59 57.12a1.4 1.4 0 1 0 2.8 0a1.4 1.4 0 1 0 -2.8 0M112.7 55.8a1.4 1.4 0 1 0 2.8 0a1.4 1.4 0 1 0 -2.8 0M114.81 54.07a1.4 1.4 0 1 0 2.8 0a1.4 1.4 0 1 0 -2.8 0M116.92 52.22a1.4 1.4 0 1 0 2.8 0a1.4 1.4 0 1 0 -2.8 0M119.03 51.3a1.4 1.4 0 1 0 2.8 0a1.4 1.4 0 1 0 -2.8 0M121.14 50.75a1.4 1.4 0 1 0 2.8 0a1.4 1.4 0 1 0 -2.8 0M123.25 50.27a1.4 1.4 0 1 0 2.8 0a1.4 1.4 0 1 0 -2.8 0M125.36 49.84a1.4 1.4 0 1 0 2.8 0a1.4 1.4 0 1 0 -2.8 0M127.47 49.44a1.4 1.4 0 1 0 2.8 0a1.4 1.4 0 1 0 -2.8 0M129.58 49.06a1.4 1.4 0 1 0 2.8 0a1.4 1.4 0 1 0 -2.8 0M131.69 48.62a1.4 1.4 0 1 0 2.8 0a1.4 1.4 0 1 0 -2.8 0M133.8 47.98a1.4 1.4 0 1 0 2.8 0a1.4 1.4 0 1 0 -2.8 0M135.91 47.33a1.4 1.4 0 1 0 2.8 0a1.4 1.4 0 1 0 -2.8 0M138.02 46.67a1.4 1.4 0 1 0 2.8 0a1.4 1.4 0 1 0 -2.8 0M140.13 46.03a1.4 1.4 0 1 0 2.8 0a1.4 1.4 0 1 0 -2.8 0M142.24 45.38a1.4 1.4 0 1 0 2.8 0a1.4 1.4 0 1 0 -2.8 0M144.35 44.74a1.4 1.4 0 1 0 2.8 0a1.4 1.4 0 1 0 -2.8 0M146.46 44.1a1.4 1.4 0 1 0 2.8 0a1.4 1.4 0 1 0 -2.8 0M148.57 43.46a1.4 1.4 0 1 0 2.8 0a1.4 1.4 0 1 0 -2.8 0M150.68 42.83a1.4 1.4 0 1 0 2.8 0a1.4 1.4 0 1 0 -2.8 0M152.79 42.2a1.4 1.4 0 1 0 2.8 0a1.4 1.4 0 1 0 -2.8 0M154.9 41.57a1.4 1.4 0 1 0 2.8 0a1.4 1.4 0 1 0 -2.8 0" fill="#fff" stroke="#15cd6d" stroke-width="1.0"/></g><g clip-path="url(#cb)"><path d="M204 68.47a1.4 1.4 0 1 0 2.8 0a1.4 1.4 0 1 0 -2.8 0M206.11 68.32a1.4 1.4 0 1 0 2.8 0a1.4 1.4 0 1 0 -2.8 0M208.22 68.17a1.4 1.4 0 1 0 2.8 0a1.4 1.4 0 1 0 -2.8 0M210.33 68.01a1.4 1.4 0 1 0 2.8 0a1.4 1.4 0 1 0 -2.8 0M212.44 67.85a1.4 1.4 0 1 0 2.8 0a1.4 1.4 0 1 0 -2.8 0M214.55 67.68a1.4 1.4 0 1 0 2.8 0a1.4 1.4 0 1 0 -2.8 0M216.66 67.51a1.4 1.4 0 1 0 2.8 0a1.4 1.4 0 1 0 -2.8 0M218.77 67.33a1.4 1.4 0 1 0 2.8 0a1.4 1.4 0 1 0 -2.8 0M220.88 67.16a1.4 1.4 0 1 0 2.8 0a1.4 1.4 0 1 0 -2.8 0M222.99 66.98a1.4 1.4 0 1 0 2.8 0a1.4 1.4 0 1 0 -2.8 0M225.1 66.78a1.4 1.4 0 1 0 2.8 0a1.4 1.4 0 1 0 -2.8 0M227.21 66.57a1.4 1.4 0 1 0 2.8 0a1.4 1.4 0 1 0 -2.8 0M229.32 66.34a1.4 1.4 0 1 0 2.8 0a1.4 1.4 0 1 0 -2.8 0M231.43 66.11a1.4 1.4 0 1 0 2.8 0a1.4 1.4 0 1 0 -2.8 0M233.54 65.89a1.4 1.4 0 1 0 2.8 0a1.4 1.4 0 1 0 -2.8 0M235.65 65.67a1.4 1.4 0 1 0 2.8 0a1.4 1.4 0 1 0 -2.8 0M237.76 65.47a1.4 1.4 0 1 0 2.8 0a1.4 1.4 0 1 0 -2.8 0M239.87 65.3a1.4 1.4 0 1 0 2.8 0a1.4 1.4 0 1 0 -2.8 0M241.98 65.16a1.4 1.4 0 1 0 2.8 0a1.4 1.4 0 1 0 -2.8 0M244.09 65.03a1.4 1.4 0 1 0 2.8 0a1.4 1.4 0 1 0 -2.8 0M246.2 64.91a1.4 1.4 0 1 0 2.8 0a1.4 1.4 0 1 0 -2.8 0M248.31 64.81a1.4 1.4 0 1 0 2.8 0a1.4 1.4 0 1 0 -2.8 0M250.42 64.75a1.4 1.4 0 1 0 2.8 0a1.4 1.4 0 1 0 -2.8 0M252.53 64.75a1.4 1.4 0 1 0 2.8 0a1.4 1.4 0 1 0 -2.8 0M254.64 64.79a1.4 1.4 0 1 0 2.8 0a1.4 1.4 0 1 0 -2.8 0M256.75 64.87a1.4 1.4 0 1 0 2.8 0a1.4 1.4 0 1 0 -2.8 0M258.86 64.95a1.4 1.4 0 1 0 2.8 0a1.4 1.4 0 1 0 -2.8 0M260.97 65.03a1.4 1.4 0 1 0 2.8 0a1.4 1.4 0 1 0 -2.8 0M263.08 65.15a1.4 1.4 0 1 0 2.8 0a1.4 1.4 0 1 0 -2.8 0M265.19 65.25a1.4 1.4 0 1 0 2.8 0a1.4 1.4 0 1 0 -2.8 0M267.3 65.3a1.4 1.4 0 1 0 2.8 0a1.4 1.4 0 1 0 -2.8 0M269.41 65.26a1.4 1.4 0 1 0 2.8 0a1.4 1.4 0 1 0 -2.8 0M271.52 65.17a1.4 1.4 0 1 0 2.8 0a1.4 1.4 0 1 0 -2.8 0M273.63 65.07a1.4 1.4 0 1 0 2.8 0a1.4 1.4 0 1 0 -2.8 0M275.74 65.01a1.4 1.4 0 1 0 2.8 0a1.4 1.4 0 1 0 -2.8 0M277.85 64.97a1.4 1.4 0 1 0 2.8 0a1.4 1.4 0 1 0 -2.8 0M279.96 64.94a1.4 1.4 0 1 0 2.8 0a1.4 1.4 0 1 0 -2.8 0M282.07 64.91a1.4 1.4 0 1 0 2.8 0a1.4 1.4 0 1 0 -2.8 0M284.18 64.89a1.4 1.4 0 1 0 2.8 0a1.4 1.4 0 1 0 -2.8 0M286.29 64.88a1.4 1.4 0 1 0 2.8 0a1.4 1.4 0 1 0 -2.8 0M288.4 64.92a1.4 1.4 0 1 0 2.8 0a1.4 1.4 0 1 0 -2.8 0M290.51 65.01a1.4 1.4 0 1 0 2.8 0a1.4 1.4 0 1 0 -2.8 0M292.62 65.16a1.4 1.4 0 1 0 2.8 0a1.4 1.4 0 1 0 -2.8 0M294.73 65.34a1.4 1.4 0 1 0 2.8 0a1.4 1.4 0 1 0 -2.8 0M296.84 65.55a1.4 1.4 0 1 0 2.8 0a1.4 1.4 0 1 0 -2.8 0M298.95 65.77a1.4 1.4 0 1 0 2.8 0a1.4 1.4 0 1 0 -2.8 0M301.06 66a1.4 1.4 0 1 0 2.8 0a1.4 1.4 0 1 0 -2.8 0M303.17 66.22a1.4 1.4 0 1 0 2.8 0a1.4 1.4 0 1 0 -2.8 0M305.28 66.42a1.4 1.4 0 1 0 2.8 0a1.4 1.4 0 1 0 -2.8 0M307.39 66.6a1.4 1.4 0 1 0 2.8 0a1.4 1.4 0 1 0 -2.8 0M309.5 66.8a1.4 1.4 0 1 0 2.8 0a1.4 1.4 0 1 0 -2.8 0M311.61 67a1.4 1.4 0 1 0 2.8 0a1.4 1.4 0 1 0 -2.8 0M313.72 67.2a1.4 1.4 0 1 0 2.8 0a1.4 1.4 0 1 0 -2.8 0M315.83 67.41a1.4 1.4 0 1 0 2.8 0a1.4 1.4 0 1 0 -2.8 0M317.94 67.61a1.4 1.4 0 1 0 2.8 0a1.4 1.4 0 1 0 -2.8 0M320.05 67.82a1.4 1.4 0 1 0 2.8 0a1.4 1.4 0 1 0 -2.8 0M322.16 68.01a1.4 1.4 0 1 0 2.8 0a1.4 1.4 0 1 0 -2.8 0M324.27 68.2a1.4 1.4 0 1 0 2.8 0a1.4 1.4 0 1 0 -2.8 0M326.38 68.39a1.4 1.4 0 1 0 2.8 0a1.4 1.4 0 1 0 -2.8 0M328.49 68.57a1.4 1.4 0 1 0 2.8 0a1.4 1.4 0 1 0 -2.8 0M330.6 68.75a1.4 1.4 0 1 0 2.8 0a1.4 1.4 0 1 0 -2.8 0" fill="#fff" stroke="#ff0000" stroke-width="1.0"/><path d="M204 75.02a1.4 1.4 0 1 0 2.8 0a1.4 1.4 0 1 0 -2.8 0M206.11 74.77a1.4 1.4 0 1 0 2.8 0a1.4 1.4 0 1 0 -2.8 0M208.22 74.51a1.4 1.4 0 1 0 2.8 0a1.4 1.4 0 1 0 -2.8 0M210.33 74.23a1.4 1.4 0 1 0 2.8 0a1.4 1.4 0 1 0 -2.8 0M212.44 73.93a1.4 1.4 0 1 0 2.8 0a1.4 1.4 0 1 0 -2.8 0M214.55 73.63a1.4 1.4 0 1 0 2.8 0a1.4 1.4 0 1 0 -2.8 0M216.66 73.31a1.4 1.4 0 1 0 2.8 0a1.4 1.4 0 1 0 -2.8 0M218.77 72.98a1.4 1.4 0 1 0 2.8 0a1.4 1.4 0 1 0 -2.8 0M220.88 72.63a1.4 1.4 0 1 0 2.8 0a1.4 1.4 0 1 0 -2.8 0M222.99 72.28a1.4 1.4 0 1 0 2.8 0a1.4 1.4 0 1 0 -2.8 0M225.1 71.9a1.4 1.4 0 1 0 2.8 0a1.4 1.4 0 1 0 -2.8 0M227.21 71.49a1.4 1.4 0 1 0 2.8 0a1.4 1.4 0 1 0 -2.8 0M229.32 71.04a1.4 1.4 0 1 0 2.8 0a1.4 1.4 0 1 0 -2.8 0M231.43 70.58a1.4 1.4 0 1 0 2.8 0a1.4 1.4 0 1 0 -2.8 0M233.54 70.11a1.4 1.4 0 1 0 2.8 0a1.4 1.4 0 1 0 -2.8 0M235.65 69.64a1.4 1.4 0 1 0 2.8 0a1.4 1.4 0 1 0 -2.8 0M237.76 69.19a1.4 1.4 0 1 0 2.8 0a1.4 1.4 0 1 0 -2.8 0M239.87 68.76a1.4 1.4 0 1 0 2.8 0a1.4 1.4 0 1 0 -2.8 0M241.98 68.37a1.4 1.4 0 1 0 2.8 0a1.4 1.4 0 1 0 -2.8 0M244.09 68.02a1.4 1.4 0 1 0 2.8 0a1.4 1.4 0 1 0 -2.8 0M246.2 67.68a1.4 1.4 0 1 0 2.8 0a1.4 1.4 0 1 0 -2.8 0M248.31 67.36a1.4 1.4 0 1 0 2.8 0a1.4 1.4 0 1 0 -2.8 0M250.42 67.05a1.4 1.4 0 1 0 2.8 0a1.4 1.4 0 1 0 -2.8 0M252.53 66.74a1.4 1.4 0 1 0 2.8 0a1.4 1.4 0 1 0 -2.8 0M254.64 66.42a1.4 1.4 0 1 0 2.8 0a1.4 1.4 0 1 0 -2.8 0M256.75 66.11a1.4 1.4 0 1 0 2.8 0a1.4 1.4 0 1 0 -2.8 0M258.86 65.83a1.4 1.4 0 1 0 2.8 0a1.4 1.4 0 1 0 -2.8 0M260.97 65.58a1.4 1.4 0 1 0 2.8 0a1.4 1.4 0 1 0 -2.8 0M263.08 65.33a1.4 1.4 0 1 0 2.8 0a1.4 1.4 0 1 0 -2.8 0M265.19 65.12a1.4 1.4 0 1 0 2.8 0a1.4 1.4 0 1 0 -2.8 0M267.3 65.02a1.4 1.4 0 1 0 2.8 0a1.4 1.4 0 1 0 -2.8 0M269.41 65.24a1.4 1.4 0 1 0 2.8 0a1.4 1.4 0 1 0 -2.8 0M271.52 65.67a1.4 1.4 0 1 0 2.8 0a1.4 1.4 0 1 0 -2.8 0M273.63 66a1.4 1.4 0 1 0 2.8 0a1.4 1.4 0 1 0 -2.8 0M275.74 66.28a1.4 1.4 0 1 0 2.8 0a1.4 1.4 0 1 0 -2.8 0M277.85 66.56a1.4 1.4 0 1 0 2.8 0a1.4 1.4 0 1 0 -2.8 0M279.96 66.87a1.4 1.4 0 1 0 2.8 0a1.4 1.4 0 1 0 -2.8 0M282.07 67.19a1.4 1.4 0 1 0 2.8 0a1.4 1.4 0 1 0 -2.8 0M284.18 67.52a1.4 1.4 0 1 0 2.8 0a1.4 1.4 0 1 0 -2.8 0M286.29 67.86a1.4 1.4 0 1 0 2.8 0a1.4 1.4 0 1 0 -2.8 0M288.4 68.21a1.4 1.4 0 1 0 2.8 0a1.4 1.4 0 1 0 -2.8 0M290.51 68.56a1.4 1.4 0 1 0 2.8 0a1.4 1.4 0 1 0 -2.8 0M292.62 68.92a1.4 1.4 0 1 0 2.8 0a1.4 1.4 0 1 0 -2.8 0M294.73 69.29a1.4 1.4 0 1 0 2.8 0a1.4 1.4 0 1 0 -2.8 0M296.84 69.67a1.4 1.4 0 1 0 2.8 0a1.4 1.4 0 1 0 -2.8 0M298.95 70.06a1.4 1.4 0 1 0 2.8 0a1.4 1.4 0 1 0 -2.8 0M301.06 70.44a1.4 1.4 0 1 0 2.8 0a1.4 1.4 0 1 0 -2.8 0M303.17 70.81a1.4 1.4 0 1 0 2.8 0a1.4 1.4 0 1 0 -2.8 0M305.28 71.17a1.4 1.4 0 1 0 2.8 0a1.4 1.4 0 1 0 -2.8 0M307.39 71.51a1.4 1.4 0 1 0 2.8 0a1.4 1.4 0 1 0 -2.8 0M309.5 71.85a1.4 1.4 0 1 0 2.8 0a1.4 1.4 0 1 0 -2.8 0M311.61 72.18a1.4 1.4 0 1 0 2.8 0a1.4 1.4 0 1 0 -2.8 0M313.72 72.51a1.4 1.4 0 1 0 2.8 0a1.4 1.4 0 1 0 -2.8 0M315.83 72.84a1.4 1.4 0 1 0 2.8 0a1.4 1.4 0 1 0 -2.8 0M317.94 73.16a1.4 1.4 0 1 0 2.8 0a1.4 1.4 0 1 0 -2.8 0M320.05 73.47a1.4 1.4 0 1 0 2.8 0a1.4 1.4 0 1 0 -2.8 0M322.16 73.79a1.4 1.4 0 1 0 2.8 0a1.4 1.4 0 1 0 -2.8 0M324.27 74.1a1.4 1.4 0 1 0 2.8 0a1.4 1.4 0 1 0 -2.8 0M326.38 74.41a1.4 1.4 0 1 0 2.8 0a1.4 1.4 0 1 0 -2.8 0M328.49 74.71a1.4 1.4 0 1 0 2.8 0a1.4 1.4 0 1 0 -2.8 0M330.6 75a1.4 1.4 0 1 0 2.8 0a1.4 1.4 0 1 0 -2.8 0" fill="#fff" stroke="#0000ff" stroke-width="1.0"/><path d="M204 45.11a1.4 1.4 0 1 0 2.8 0a1.4 1.4 0 1 0 -2.8 0M206.11 45.9a1.4 1.4 0 1 0 2.8 0a1.4 1.4 0 1 0 -2.8 0M208.22 46.69a1.4 1.4 0 1 0 2.8 0a1.4 1.4 0 1 0 -2.8 0M210.33 47.41a1.4 1.4 0 1 0 2.8 0a1.4 1.4 0 1 0 -2.8 0M212.44 48.04a1.4 1.4 0 1 0 2.8 0a1.4 1.4 0 1 0 -2.8 0M214.55 48.68a1.4 1.4 0 1 0 2.8 0a1.4 1.4 0 1 0 -2.8 0M216.66 49.35a1.4 1.4 0 1 0 2.8 0a1.4 1.4 0 1 0 -2.8 0M218.77 50.05a1.4 1.4 0 1 0 2.8 0a1.4 1.4 0 1 0 -2.8 0M220.88 50.76a1.4 1.4 0 1 0 2.8 0a1.4 1.4 0 1 0 -2.8 0M222.99 51.45a1.4 1.4 0 1 0 2.8 0a1.4 1.4 0 1 0 -2.8 0M225.1 52.09a1.4 1.4 0 1 0 2.8 0a1.4 1.4 0 1 0 -2.8 0M227.21 52.66a1.4 1.4 0 1 0 2.8 0a1.4 1.4 0 1 0 -2.8 0M229.32 53.13a1.4 1.4 0 1 0 2.8 0a1.4 1.4 0 1 0 -2.8 0M231.43 53.52a1.4 1.4 0 1 0 2.8 0a1.4 1.4 0 1 0 -2.8 0M233.54 53.87a1.4 1.4 0 1 0 2.8 0a1.4 1.4 0 1 0 -2.8 0M235.65 54.2a1.4 1.4 0 1 0 2.8 0a1.4 1.4 0 1 0 -2.8 0M237.76 54.54a1.4 1.4 0 1 0 2.8 0a1.4 1.4 0 1 0 -2.8 0M239.87 54.89a1.4 1.4 0 1 0 2.8 0a1.4 1.4 0 1 0 -2.8 0M241.98 55.22a1.4 1.4 0 1 0 2.8 0a1.4 1.4 0 1 0 -2.8 0M244.09 55.55a1.4 1.4 0 1 0 2.8 0a1.4 1.4 0 1 0 -2.8 0M246.2 56.77a1.4 1.4 0 1 0 2.8 0a1.4 1.4 0 1 0 -2.8 0M248.31 59.08a1.4 1.4 0 1 0 2.8 0a1.4 1.4 0 1 0 -2.8 0M250.42 60.15a1.4 1.4 0 1 0 2.8 0a1.4 1.4 0 1 0 -2.8 0M252.53 60.92a1.4 1.4 0 1 0 2.8 0a1.4 1.4 0 1 0 -2.8 0M254.64 61.66a1.4 1.4 0 1 0 2.8 0a1.4 1.4 0 1 0 -2.8 0M256.75 62.37a1.4 1.4 0 1 0 2.8 0a1.4 1.4 0 1 0 -2.8 0M258.86 63.03a1.4 1.4 0 1 0 2.8 0a1.4 1.4 0 1 0 -2.8 0M260.97 63.68a1.4 1.4 0 1 0 2.8 0a1.4 1.4 0 1 0 -2.8 0M263.08 64.18a1.4 1.4 0 1 0 2.8 0a1.4 1.4 0 1 0 -2.8 0M265.19 64.56a1.4 1.4 0 1 0 2.8 0a1.4 1.4 0 1 0 -2.8 0M267.3 64.74a1.4 1.4 0 1 0 2.8 0a1.4 1.4 0 1 0 -2.8 0M269.41 64.5a1.4 1.4 0 1 0 2.8 0a1.4 1.4 0 1 0 -2.8 0M271.52 64.04a1.4 1.4 0 1 0 2.8 0a1.4 1.4 0 1 0 -2.8 0M273.63 63.57a1.4 1.4 0 1 0 2.8 0a1.4 1.4 0 1 0 -2.8 0M275.74 63.02a1.4 1.4 0 1 0 2.8 0a1.4 1.4 0 1 0 -2.8 0M277.85 62.35a1.4 1.4 0 1 0 2.8 0a1.4 1.4 0 1 0 -2.8 0M279.96 61.55a1.4 1.4 0 1 0 2.8 0a1.4 1.4 0 1 0 -2.8 0M282.07 60.79a1.4 1.4 0 1 0 2.8 0a1.4 1.4 0 1 0 -2.8 0M284.18 60.08a1.4 1.4 0 1 0 2.8 0a1.4 1.4 0 1 0 -2.8 0M286.29 59.43a1.4 1.4 0 1 0 2.8 0a1.4 1.4 0 1 0 -2.8 0M288.4 58.86a1.4 1.4 0 1 0 2.8 0a1.4 1.4 0 1 0 -2.8 0M290.51 58.34a1.4 1.4 0 1 0 2.8 0a1.4 1.4 0 1 0 -2.8 0M292.62 57.84a1.4 1.4 0 1 0 2.8 0a1.4 1.4 0 1 0 -2.8 0M294.73 57.33a1.4 1.4 0 1 0 2.8 0a1.4 1.4 0 1 0 -2.8 0M296.84 56.78a1.4 1.4 0 1 0 2.8 0a1.4 1.4 0 1 0 -2.8 0M298.95 56.18a1.4 1.4 0 1 0 2.8 0a1.4 1.4 0 1 0 -2.8 0M301.06 55.56a1.4 1.4 0 1 0 2.8 0a1.4 1.4 0 1 0 -2.8 0M303.17 54.93a1.4 1.4 0 1 0 2.8 0a1.4 1.4 0 1 0 -2.8 0M305.28 54.3a1.4 1.4 0 1 0 2.8 0a1.4 1.4 0 1 0 -2.8 0M307.39 53.68a1.4 1.4 0 1 0 2.8 0a1.4 1.4 0 1 0 -2.8 0M309.5 53.07a1.4 1.4 0 1 0 2.8 0a1.4 1.4 0 1 0 -2.8 0M311.61 52.47a1.4 1.4 0 1 0 2.8 0a1.4 1.4 0 1 0 -2.8 0M313.72 51.86a1.4 1.4 0 1 0 2.8 0a1.4 1.4 0 1 0 -2.8 0M315.83 51.24a1.4 1.4 0 1 0 2.8 0a1.4 1.4 0 1 0 -2.8 0M317.94 50.6a1.4 1.4 0 1 0 2.8 0a1.4 1.4 0 1 0 -2.8 0M320.05 49.94a1.4 1.4 0 1 0 2.8 0a1.4 1.4 0 1 0 -2.8 0M322.16 49.24a1.4 1.4 0 1 0 2.8 0a1.4 1.4 0 1 0 -2.8 0M324.27 48.52a1.4 1.4 0 1 0 2.8 0a1.4 1.4 0 1 0 -2.8 0M326.38 47.78a1.4 1.4 0 1 0 2.8 0a1.4 1.4 0 1 0 -2.8 0M328.49 47.01a1.4 1.4 0 1 0 2.8 0a1.4 1.4 0 1 0 -2.8 0M330.6 46.22a1.4 1.4 0 1 0 2.8 0a1.4 1.4 0 1 0 -2.8 0" fill="#fff" stroke="#15cd6d" stroke-width="1.0"/><path d="M204 45.11a1.4 1.4 0 1 0 2.8 0a1.4 1.4 0 1 0 -2.8 0M206.11 45.9a1.4 1.4 0 1 0 2.8 0a1.4 1.4 0 1 0 -2.8 0M208.22 46.69a1.4 1.4 0 1 0 2.8 0a1.4 1.4 0 1 0 -2.8 0M210.33 47.49a1.4 1.4 0 1 0 2.8 0a1.4 1.4 0 1 0 -2.8 0M212.44 48.29a1.4 1.4 0 1 0 2.8 0a1.4 1.4 0 1 0 -2.8 0M214.55 49.1a1.4 1.4 0 1 0 2.8 0a1.4 1.4 0 1 0 -2.8 0M216.66 49.93a1.4 1.4 0 1 0 2.8 0a1.4 1.4 0 1 0 -2.8 0M218.77 50.8a1.4 1.4 0 1 0 2.8 0a1.4 1.4 0 1 0 -2.8 0M220.88 51.67a1.4 1.4 0 1 0 2.8 0a1.4 1.4 0 1 0 -2.8 0M222.99 52.53a1.4 1.4 0 1 0 2.8 0a1.4 1.4 0 1 0 -2.8 0M225.1 53.34a1.4 1.4 0 1 0 2.8 0a1.4 1.4 0 1 0 -2.8 0M227.21 54.07a1.4 1.4 0 1 0 2.8 0a1.4 1.4 0 1 0 -2.8 0M229.32 54.71a1.4 1.4 0 1 0 2.8 0a1.4 1.4 0 1 0 -2.8 0M231.43 55.27a1.4 1.4 0 1 0 2.8 0a1.4 1.4 0 1 0 -2.8 0M233.54 55.79a1.4 1.4 0 1 0 2.8 0a1.4 1.4 0 1 0 -2.8 0M235.65 56.28a1.4 1.4 0 1 0 2.8 0a1.4 1.4 0 1 0 -2.8 0M237.76 56.79a1.4 1.4 0 1 0 2.8 0a1.4 1.4 0 1 0 -2.8 0M239.87 57.31a1.4 1.4 0 1 0 2.8 0a1.4 1.4 0 1 0 -2.8 0M241.98 57.8a1.4 1.4 0 1 0 2.8 0a1.4 1.4 0 1 0 -2.8 0M244.09 58.31a1.4 1.4 0 1 0 2.8 0a1.4 1.4 0 1 0 -2.8 0M246.2 58.84a1.4 1.4 0 1 0 2.8 0a1.4 1.4 0 1 0 -2.8 0M248.31 59.43a1.4 1.4 0 1 0 2.8 0a1.4 1.4 0 1 0 -2.8 0M250.42 60.15a1.4 1.4 0 1 0 2.8 0a1.4 1.4 0 1 0 -2.8 0M252.53 60.92a1.4 1.4 0 1 0 2.8 0a1.4 1.4 0 1 0 -2.8 0M254.64 61.66a1.4 1.4 0 1 0 2.8 0a1.4 1.4 0 1 0 -2.8 0M256.75 62.37a1.4 1.4 0 1 0 2.8 0a1.4 1.4 0 1 0 -2.8 0M258.86 63.03a1.4 1.4 0 1 0 2.8 0a1.4 1.4 0 1 0 -2.8 0M260.97 63.68a1.4 1.4 0 1 0 2.8 0a1.4 1.4 0 1 0 -2.8 0M263.08 64.18a1.4 1.4 0 1 0 2.8 0a1.4 1.4 0 1 0 -2.8 0M265.19 64.56a1.4 1.4 0 1 0 2.8 0a1.4 1.4 0 1 0 -2.8 0M267.3 64.74a1.4 1.4 0 1 0 2.8 0a1.4 1.4 0 1 0 -2.8 0M269.41 64.5a1.4 1.4 0 1 0 2.8 0a1.4 1.4 0 1 0 -2.8 0M271.52 64.04a1.4 1.4 0 1 0 2.8 0a1.4 1.4 0 1 0 -2.8 0M273.63 63.57a1.4 1.4 0 1 0 2.8 0a1.4 1.4 0 1 0 -2.8 0M275.74 63.02a1.4 1.4 0 1 0 2.8 0a1.4 1.4 0 1 0 -2.8 0M277.85 62.35a1.4 1.4 0 1 0 2.8 0a1.4 1.4 0 1 0 -2.8 0M279.96 61.55a1.4 1.4 0 1 0 2.8 0a1.4 1.4 0 1 0 -2.8 0M282.07 60.66a1.4 1.4 0 1 0 2.8 0a1.4 1.4 0 1 0 -2.8 0M284.18 57.85a1.4 1.4 0 1 0 2.8 0a1.4 1.4 0 1 0 -2.8 0M286.29 55.09a1.4 1.4 0 1 0 2.8 0a1.4 1.4 0 1 0 -2.8 0M288.4 54.55a1.4 1.4 0 1 0 2.8 0a1.4 1.4 0 1 0 -2.8 0M290.51 54.23a1.4 1.4 0 1 0 2.8 0a1.4 1.4 0 1 0 -2.8 0M292.62 53.93a1.4 1.4 0 1 0 2.8 0a1.4 1.4 0 1 0 -2.8 0M294.73 53.62a1.4 1.4 0 1 0 2.8 0a1.4 1.4 0 1 0 -2.8 0M296.84 53.27a1.4 1.4 0 1 0 2.8 0a1.4 1.4 0 1 0 -2.8 0M298.95 52.88a1.4 1.4 0 1 0 2.8 0a1.4 1.4 0 1 0 -2.8 0M301.06 52.46a1.4 1.4 0 1 0 2.8 0a1.4 1.4 0 1 0 -2.8 0M303.17 52.04a1.4 1.4 0 1 0 2.8 0a1.4 1.4 0 1 0 -2.8 0M305.28 51.61a1.4 1.4 0 1 0 2.8 0a1.4 1.4 0 1 0 -2.8 0M307.39 51.19a1.4 1.4 0 1 0 2.8 0a1.4 1.4 0 1 0 -2.8 0M309.5 50.78a1.4 1.4 0 1 0 2.8 0a1.4 1.4 0 1 0 -2.8 0M311.61 50.38a1.4 1.4 0 1 0 2.8 0a1.4 1.4 0 1 0 -2.8 0M313.72 49.98a1.4 1.4 0 1 0 2.8 0a1.4 1.4 0 1 0 -2.8 0M315.83 49.56a1.4 1.4 0 1 0 2.8 0a1.4 1.4 0 1 0 -2.8 0M317.94 49.13a1.4 1.4 0 1 0 2.8 0a1.4 1.4 0 1 0 -2.8 0M320.05 48.67a1.4 1.4 0 1 0 2.8 0a1.4 1.4 0 1 0 -2.8 0M322.16 48.18a1.4 1.4 0 1 0 2.8 0a1.4 1.4 0 1 0 -2.8 0M324.27 47.66a1.4 1.4 0 1 0 2.8 0a1.4 1.4 0 1 0 -2.8 0M326.38 47.12a1.4 1.4 0 1 0 2.8 0a1.4 1.4 0 1 0 -2.8 0M328.49 46.55a1.4 1.4 0 1 0 2.8 0a1.4 1.4 0 1 0 -2.8 0M330.6 45.97a1.4 1.4 0 1 0 2.8 0a1.4 1.4 0 1 0 -2.8 0" fill="#fff" stroke="#15cd6d" stroke-width="1.0"/></g><g clip-path="url(#cc)"><path d="M379.1 66.97a1.4 1.4 0 1 0 2.8 0a1.4 1.4 0 1 0 -2.8 0M381.21 66.93a1.4 1.4 0 1 0 2.8 0a1.4 1.4 0 1 0 -2.8 0M383.32 66.88a1.4 1.4 0 1 0 2.8 0a1.4 1.4 0 1 0 -2.8 0M385.43 66.82a1.4 1.4 0 1 0 2.8 0a1.4 1.4 0 1 0 -2.8 0M387.54 66.75a1.4 1.4 0 1 0 2.8 0a1.4 1.4 0 1 0 -2.8 0M389.65 66.67a1.4 1.4 0 1 0 2.8 0a1.4 1.4 0 1 0 -2.8 0M391.76 66.58a1.4 1.4 0 1 0 2.8 0a1.4 1.4 0 1 0 -2.8 0M393.87 66.48a1.4 1.4 0 1 0 2.8 0a1.4 1.4 0 1 0 -2.8 0M395.98 66.38a1.4 1.4 0 1 0 2.8 0a1.4 1.4 0 1 0 -2.8 0M398.09 66.27a1.4 1.4 0 1 0 2.8 0a1.4 1.4 0 1 0 -2.8 0M400.2 66.16a1.4 1.4 0 1 0 2.8 0a1.4 1.4 0 1 0 -2.8 0M402.31 66.04a1.4 1.4 0 1 0 2.8 0a1.4 1.4 0 1 0 -2.8 0M404.42 65.92a1.4 1.4 0 1 0 2.8 0a1.4 1.4 0 1 0 -2.8 0M406.53 65.79a1.4 1.4 0 1 0 2.8 0a1.4 1.4 0 1 0 -2.8 0M408.64 65.62a1.4 1.4 0 1 0 2.8 0a1.4 1.4 0 1 0 -2.8 0M410.75 65.42a1.4 1.4 0 1 0 2.8 0a1.4 1.4 0 1 0 -2.8 0M412.86 65.21a1.4 1.4 0 1 0 2.8 0a1.4 1.4 0 1 0 -2.8 0M414.97 65.01a1.4 1.4 0 1 0 2.8 0a1.4 1.4 0 1 0 -2.8 0M417.08 64.84a1.4 1.4 0 1 0 2.8 0a1.4 1.4 0 1 0 -2.8 0M419.19 64.71a1.4 1.4 0 1 0 2.8 0a1.4 1.4 0 1 0 -2.8 0M421.3 64.6a1.4 1.4 0 1 0 2.8 0a1.4 1.4 0 1 0 -2.8 0M423.41 64.5a1.4 1.4 0 1 0 2.8 0a1.4 1.4 0 1 0 -2.8 0M425.52 64.46a1.4 1.4 0 1 0 2.8 0a1.4 1.4 0 1 0 -2.8 0M427.63 64.49a1.4 1.4 0 1 0 2.8 0a1.4 1.4 0 1 0 -2.8 0M429.74 64.55a1.4 1.4 0 1 0 2.8 0a1.4 1.4 0 1 0 -2.8 0M431.85 64.64a1.4 1.4 0 1 0 2.8 0a1.4 1.4 0 1 0 -2.8 0M433.96 64.74a1.4 1.4 0 1 0 2.8 0a1.4 1.4 0 1 0 -2.8 0M436.07 64.84a1.4 1.4 0 1 0 2.8 0a1.4 1.4 0 1 0 -2.8 0M438.18 64.93a1.4 1.4 0 1 0 2.8 0a1.4 1.4 0 1 0 -2.8 0M440.29 65a1.4 1.4 0 1 0 2.8 0a1.4 1.4 0 1 0 -2.8 0M442.4 65.02a1.4 1.4 0 1 0 2.8 0a1.4 1.4 0 1 0 -2.8 0M444.51 65.02a1.4 1.4 0 1 0 2.8 0a1.4 1.4 0 1 0 -2.8 0M446.62 65.02a1.4 1.4 0 1 0 2.8 0a1.4 1.4 0 1 0 -2.8 0M448.73 65.02a1.4 1.4 0 1 0 2.8 0a1.4 1.4 0 1 0 -2.8 0M450.84 65.02a1.4 1.4 0 1 0 2.8 0a1.4 1.4 0 1 0 -2.8 0M452.95 65.02a1.4 1.4 0 1 0 2.8 0a1.4 1.4 0 1 0 -2.8 0M455.06 65.02a1.4 1.4 0 1 0 2.8 0a1.4 1.4 0 1 0 -2.8 0M457.17 65.02a1.4 1.4 0 1 0 2.8 0a1.4 1.4 0 1 0 -2.8 0M459.28 65.02a1.4 1.4 0 1 0 2.8 0a1.4 1.4 0 1 0 -2.8 0M461.39 65.02a1.4 1.4 0 1 0 2.8 0a1.4 1.4 0 1 0 -2.8 0M463.5 65.06a1.4 1.4 0 1 0 2.8 0a1.4 1.4 0 1 0 -2.8 0M465.61 65.14a1.4 1.4 0 1 0 2.8 0a1.4 1.4 0 1 0 -2.8 0M467.72 65.25a1.4 1.4 0 1 0 2.8 0a1.4 1.4 0 1 0 -2.8 0M469.83 65.39a1.4 1.4 0 1 0 2.8 0a1.4 1.4 0 1 0 -2.8 0M471.94 65.54a1.4 1.4 0 1 0 2.8 0a1.4 1.4 0 1 0 -2.8 0M474.05 65.7a1.4 1.4 0 1 0 2.8 0a1.4 1.4 0 1 0 -2.8 0M476.16 65.85a1.4 1.4 0 1 0 2.8 0a1.4 1.4 0 1 0 -2.8 0M478.27 65.99a1.4 1.4 0 1 0 2.8 0a1.4 1.4 0 1 0 -2.8 0M480.38 66.11a1.4 1.4 0 1 0 2.8 0a1.4 1.4 0 1 0 -2.8 0M482.49 66.21a1.4 1.4 0 1 0 2.8 0a1.4 1.4 0 1 0 -2.8 0M484.6 66.32a1.4 1.4 0 1 0 2.8 0a1.4 1.4 0 1 0 -2.8 0M486.71 66.42a1.4 1.4 0 1 0 2.8 0a1.4 1.4 0 1 0 -2.8 0M488.82 66.52a1.4 1.4 0 1 0 2.8 0a1.4 1.4 0 1 0 -2.8 0M490.93 66.61a1.4 1.4 0 1 0 2.8 0a1.4 1.4 0 1 0 -2.8 0M493.04 66.71a1.4 1.4 0 1 0 2.8 0a1.4 1.4 0 1 0 -2.8 0M495.15 66.8a1.4 1.4 0 1 0 2.8 0a1.4 1.4 0 1 0 -2.8 0M497.26 66.89a1.4 1.4 0 1 0 2.8 0a1.4 1.4 0 1 0 -2.8 0M499.37 66.98a1.4 1.4 0 1 0 2.8 0a1.4 1.4 0 1 0 -2.8 0M501.48 67.07a1.4 1.4 0 1 0 2.8 0a1.4 1.4 0 1 0 -2.8 0M503.59 67.15a1.4 1.4 0 1 0 2.8 0a1.4 1.4 0 1 0 -2.8 0M505.7 67.23a1.4 1.4 0 1 0 2.8 0a1.4 1.4 0 1 0 -2.8 0" fill="#fff" stroke="#ff0000" stroke-width="1.0"/><path d="M379.1 73.34a1.4 1.4 0 1 0 2.8 0a1.4 1.4 0 1 0 -2.8 0M381.21 73.09a1.4 1.4 0 1 0 2.8 0a1.4 1.4 0 1 0 -2.8 0M383.32 72.84a1.4 1.4 0 1 0 2.8 0a1.4 1.4 0 1 0 -2.8 0M385.43 72.58a1.4 1.4 0 1 0 2.8 0a1.4 1.4 0 1 0 -2.8 0M387.54 72.31a1.4 1.4 0 1 0 2.8 0a1.4 1.4 0 1 0 -2.8 0M389.65 72.04a1.4 1.4 0 1 0 2.8 0a1.4 1.4 0 1 0 -2.8 0M391.76 71.76a1.4 1.4 0 1 0 2.8 0a1.4 1.4 0 1 0 -2.8 0M393.87 71.47a1.4 1.4 0 1 0 2.8 0a1.4 1.4 0 1 0 -2.8 0M395.98 71.18a1.4 1.4 0 1 0 2.8 0a1.4 1.4 0 1 0 -2.8 0M398.09 70.87a1.4 1.4 0 1 0 2.8 0a1.4 1.4 0 1 0 -2.8 0M400.2 70.56a1.4 1.4 0 1 0 2.8 0a1.4 1.4 0 1 0 -2.8 0M402.31 70.25a1.4 1.4 0 1 0 2.8 0a1.4 1.4 0 1 0 -2.8 0M404.42 69.93a1.4 1.4 0 1 0 2.8 0a1.4 1.4 0 1 0 -2.8 0M406.53 69.61a1.4 1.4 0 1 0 2.8 0a1.4 1.4 0 1 0 -2.8 0M408.64 69.27a1.4 1.4 0 1 0 2.8 0a1.4 1.4 0 1 0 -2.8 0M410.75 68.92a1.4 1.4 0 1 0 2.8 0a1.4 1.4 0 1 0 -2.8 0M412.86 68.58a1.4 1.4 0 1 0 2.8 0a1.4 1.4 0 1 0 -2.8 0M414.97 68.24a1.4 1.4 0 1 0 2.8 0a1.4 1.4 0 1 0 -2.8 0M417.08 67.92a1.4 1.4 0 1 0 2.8 0a1.4 1.4 0 1 0 -2.8 0M419.19 67.63a1.4 1.4 0 1 0 2.8 0a1.4 1.4 0 1 0 -2.8 0M421.3 67.36a1.4 1.4 0 1 0 2.8 0a1.4 1.4 0 1 0 -2.8 0M423.41 67.09a1.4 1.4 0 1 0 2.8 0a1.4 1.4 0 1 0 -2.8 0M425.52 66.84a1.4 1.4 0 1 0 2.8 0a1.4 1.4 0 1 0 -2.8 0M427.63 66.6a1.4 1.4 0 1 0 2.8 0a1.4 1.4 0 1 0 -2.8 0M429.74 66.37a1.4 1.4 0 1 0 2.8 0a1.4 1.4 0 1 0 -2.8 0M431.85 66.16a1.4 1.4 0 1 0 2.8 0a1.4 1.4 0 1 0 -2.8 0M433.96 65.95a1.4 1.4 0 1 0 2.8 0a1.4 1.4 0 1 0 -2.8 0M436.07 65.72a1.4 1.4 0 1 0 2.8 0a1.4 1.4 0 1 0 -2.8 0M438.18 65.51a1.4 1.4 0 1 0 2.8 0a1.4 1.4 0 1 0 -2.8 0M440.29 65.36a1.4 1.4 0 1 0 2.8 0a1.4 1.4 0 1 0 -2.8 0M442.4 65.3a1.4 1.4 0 1 0 2.8 0a1.4 1.4 0 1 0 -2.8 0M444.51 65.36a1.4 1.4 0 1 0 2.8 0a1.4 1.4 0 1 0 -2.8 0M446.62 65.51a1.4 1.4 0 1 0 2.8 0a1.4 1.4 0 1 0 -2.8 0M448.73 65.74a1.4 1.4 0 1 0 2.8 0a1.4 1.4 0 1 0 -2.8 0M450.84 66a1.4 1.4 0 1 0 2.8 0a1.4 1.4 0 1 0 -2.8 0M452.95 66.26a1.4 1.4 0 1 0 2.8 0a1.4 1.4 0 1 0 -2.8 0M455.06 66.52a1.4 1.4 0 1 0 2.8 0a1.4 1.4 0 1 0 -2.8 0M457.17 66.8a1.4 1.4 0 1 0 2.8 0a1.4 1.4 0 1 0 -2.8 0M459.28 67.12a1.4 1.4 0 1 0 2.8 0a1.4 1.4 0 1 0 -2.8 0M461.39 67.45a1.4 1.4 0 1 0 2.8 0a1.4 1.4 0 1 0 -2.8 0M463.5 67.79a1.4 1.4 0 1 0 2.8 0a1.4 1.4 0 1 0 -2.8 0M465.61 68.13a1.4 1.4 0 1 0 2.8 0a1.4 1.4 0 1 0 -2.8 0M467.72 68.45a1.4 1.4 0 1 0 2.8 0a1.4 1.4 0 1 0 -2.8 0M469.83 68.78a1.4 1.4 0 1 0 2.8 0a1.4 1.4 0 1 0 -2.8 0M471.94 69.11a1.4 1.4 0 1 0 2.8 0a1.4 1.4 0 1 0 -2.8 0M474.05 69.44a1.4 1.4 0 1 0 2.8 0a1.4 1.4 0 1 0 -2.8 0M476.16 69.76a1.4 1.4 0 1 0 2.8 0a1.4 1.4 0 1 0 -2.8 0M478.27 70.06a1.4 1.4 0 1 0 2.8 0a1.4 1.4 0 1 0 -2.8 0M480.38 70.33a1.4 1.4 0 1 0 2.8 0a1.4 1.4 0 1 0 -2.8 0M482.49 70.57a1.4 1.4 0 1 0 2.8 0a1.4 1.4 0 1 0 -2.8 0M484.6 70.78a1.4 1.4 0 1 0 2.8 0a1.4 1.4 0 1 0 -2.8 0M486.71 70.98a1.4 1.4 0 1 0 2.8 0a1.4 1.4 0 1 0 -2.8 0M488.82 71.18a1.4 1.4 0 1 0 2.8 0a1.4 1.4 0 1 0 -2.8 0M490.93 71.38a1.4 1.4 0 1 0 2.8 0a1.4 1.4 0 1 0 -2.8 0M493.04 71.6a1.4 1.4 0 1 0 2.8 0a1.4 1.4 0 1 0 -2.8 0M495.15 71.85a1.4 1.4 0 1 0 2.8 0a1.4 1.4 0 1 0 -2.8 0M497.26 72.12a1.4 1.4 0 1 0 2.8 0a1.4 1.4 0 1 0 -2.8 0M499.37 72.4a1.4 1.4 0 1 0 2.8 0a1.4 1.4 0 1 0 -2.8 0M501.48 72.69a1.4 1.4 0 1 0 2.8 0a1.4 1.4 0 1 0 -2.8 0M503.59 73a1.4 1.4 0 1 0 2.8 0a1.4 1.4 0 1 0 -2.8 0M505.7 73.32a1.4 1.4 0 1 0 2.8 0a1.4 1.4 0 1 0 -2.8 0" fill="#fff" stroke="#0000ff" stroke-width="1.0"/><path d="M379.1 50.08a1.4 1.4 0 1 0 2.8 0a1.4 1.4 0 1 0 -2.8 0M381.21 50.63a1.4 1.4 0 1 0 2.8 0a1.4 1.4 0 1 0 -2.8 0M383.32 51.17a1.4 1.4 0 1 0 2.8 0a1.4 1.4 0 1 0 -2.8 0M385.43 51.7a1.4 1.4 0 1 0 2.8 0a1.4 1.4 0 1 0 -2.8 0M387.54 52.22a1.4 1.4 0 1 0 2.8 0a1.4 1.4 0 1 0 -2.8 0M389.65 52.73a1.4 1.4 0 1 0 2.8 0a1.4 1.4 0 1 0 -2.8 0M391.76 53.23a1.4 1.4 0 1 0 2.8 0a1.4 1.4 0 1 0 -2.8 0M393.87 53.71a1.4 1.4 0 1 0 2.8 0a1.4 1.4 0 1 0 -2.8 0M395.98 54.17a1.4 1.4 0 1 0 2.8 0a1.4 1.4 0 1 0 -2.8 0M398.09 54.61a1.4 1.4 0 1 0 2.8 0a1.4 1.4 0 1 0 -2.8 0M400.2 55.06a1.4 1.4 0 1 0 2.8 0a1.4 1.4 0 1 0 -2.8 0M402.31 55.41a1.4 1.4 0 1 0 2.8 0a1.4 1.4 0 1 0 -2.8 0M404.42 55.77a1.4 1.4 0 1 0 2.8 0a1.4 1.4 0 1 0 -2.8 0M406.53 56.16a1.4 1.4 0 1 0 2.8 0a1.4 1.4 0 1 0 -2.8 0M408.64 56.57a1.4 1.4 0 1 0 2.8 0a1.4 1.4 0 1 0 -2.8 0M410.75 56.98a1.4 1.4 0 1 0 2.8 0a1.4 1.4 0 1 0 -2.8 0M412.86 57.42a1.4 1.4 0 1 0 2.8 0a1.4 1.4 0 1 0 -2.8 0M414.97 57.87a1.4 1.4 0 1 0 2.8 0a1.4 1.4 0 1 0 -2.8 0M417.08 58.34a1.4 1.4 0 1 0 2.8 0a1.4 1.4 0 1 0 -2.8 0M419.19 58.85a1.4 1.4 0 1 0 2.8 0a1.4 1.4 0 1 0 -2.8 0M421.3 59.51a1.4 1.4 0 1 0 2.8 0a1.4 1.4 0 1 0 -2.8 0M423.41 60.56a1.4 1.4 0 1 0 2.8 0a1.4 1.4 0 1 0 -2.8 0M425.52 61.6a1.4 1.4 0 1 0 2.8 0a1.4 1.4 0 1 0 -2.8 0M427.63 62.32a1.4 1.4 0 1 0 2.8 0a1.4 1.4 0 1 0 -2.8 0M429.74 62.99a1.4 1.4 0 1 0 2.8 0a1.4 1.4 0 1 0 -2.8 0M431.85 63.61a1.4 1.4 0 1 0 2.8 0a1.4 1.4 0 1 0 -2.8 0M433.96 64.09a1.4 1.4 0 1 0 2.8 0a1.4 1.4 0 1 0 -2.8 0M436.07 64.42a1.4 1.4 0 1 0 2.8 0a1.4 1.4 0 1 0 -2.8 0M438.18 64.72a1.4 1.4 0 1 0 2.8 0a1.4 1.4 0 1 0 -2.8 0M440.29 64.94a1.4 1.4 0 1 0 2.8 0a1.4 1.4 0 1 0 -2.8 0M442.4 65.02a1.4 1.4 0 1 0 2.8 0a1.4 1.4 0 1 0 -2.8 0M444.51 64.94a1.4 1.4 0 1 0 2.8 0a1.4 1.4 0 1 0 -2.8 0M446.62 64.72a1.4 1.4 0 1 0 2.8 0a1.4 1.4 0 1 0 -2.8 0M448.73 64.43a1.4 1.4 0 1 0 2.8 0a1.4 1.4 0 1 0 -2.8 0M450.84 64.09a1.4 1.4 0 1 0 2.8 0a1.4 1.4 0 1 0 -2.8 0M452.95 63.6a1.4 1.4 0 1 0 2.8 0a1.4 1.4 0 1 0 -2.8 0M455.06 62.95a1.4 1.4 0 1 0 2.8 0a1.4 1.4 0 1 0 -2.8 0M457.17 62.27a1.4 1.4 0 1 0 2.8 0a1.4 1.4 0 1 0 -2.8 0M459.28 61.63a1.4 1.4 0 1 0 2.8 0a1.4 1.4 0 1 0 -2.8 0M461.39 60.95a1.4 1.4 0 1 0 2.8 0a1.4 1.4 0 1 0 -2.8 0M463.5 60.26a1.4 1.4 0 1 0 2.8 0a1.4 1.4 0 1 0 -2.8 0M465.61 59.6a1.4 1.4 0 1 0 2.8 0a1.4 1.4 0 1 0 -2.8 0M467.72 59.02a1.4 1.4 0 1 0 2.8 0a1.4 1.4 0 1 0 -2.8 0M469.83 58.49a1.4 1.4 0 1 0 2.8 0a1.4 1.4 0 1 0 -2.8 0M471.94 58a1.4 1.4 0 1 0 2.8 0a1.4 1.4 0 1 0 -2.8 0M474.05 57.54a1.4 1.4 0 1 0 2.8 0a1.4 1.4 0 1 0 -2.8 0M476.16 57.09a1.4 1.4 0 1 0 2.8 0a1.4 1.4 0 1 0 -2.8 0M478.27 56.66a1.4 1.4 0 1 0 2.8 0a1.4 1.4 0 1 0 -2.8 0M480.38 56.22a1.4 1.4 0 1 0 2.8 0a1.4 1.4 0 1 0 -2.8 0M482.49 55.8a1.4 1.4 0 1 0 2.8 0a1.4 1.4 0 1 0 -2.8 0M484.6 55.4a1.4 1.4 0 1 0 2.8 0a1.4 1.4 0 1 0 -2.8 0M486.71 55.01a1.4 1.4 0 1 0 2.8 0a1.4 1.4 0 1 0 -2.8 0M488.82 54.62a1.4 1.4 0 1 0 2.8 0a1.4 1.4 0 1 0 -2.8 0M490.93 54.22a1.4 1.4 0 1 0 2.8 0a1.4 1.4 0 1 0 -2.8 0M493.04 53.79a1.4 1.4 0 1 0 2.8 0a1.4 1.4 0 1 0 -2.8 0M495.15 53.33a1.4 1.4 0 1 0 2.8 0a1.4 1.4 0 1 0 -2.8 0M497.26 52.84a1.4 1.4 0 1 0 2.8 0a1.4 1.4 0 1 0 -2.8 0M499.37 52.32a1.4 1.4 0 1 0 2.8 0a1.4 1.4 0 1 0 -2.8 0M501.48 51.78a1.4 1.4 0 1 0 2.8 0a1.4 1.4 0 1 0 -2.8 0M503.59 51.22a1.4 1.4 0 1 0 2.8 0a1.4 1.4 0 1 0 -2.8 0M505.7 50.64a1.4 1.4 0 1 0 2.8 0a1.4 1.4 0 1 0 -2.8 0" fill="#fff" stroke="#15cd6d" stroke-width="1.0"/><path d="M379.1 50.08a1.4 1.4 0 1 0 2.8 0a1.4 1.4 0 1 0 -2.8 0M381.21 50.63a1.4 1.4 0 1 0 2.8 0a1.4 1.4 0 1 0 -2.8 0M383.32 51.17a1.4 1.4 0 1 0 2.8 0a1.4 1.4 0 1 0 -2.8 0M385.43 51.7a1.4 1.4 0 1 0 2.8 0a1.4 1.4 0 1 0 -2.8 0M387.54 52.22a1.4 1.4 0 1 0 2.8 0a1.4 1.4 0 1 0 -2.8 0M389.65 52.73a1.4 1.4 0 1 0 2.8 0a1.4 1.4 0 1 0 -2.8 0M391.76 53.23a1.4 1.4 0 1 0 2.8 0a1.4 1.4 0 1 0 -2.8 0M393.87 53.71a1.4 1.4 0 1 0 2.8 0a1.4 1.4 0 1 0 -2.8 0M395.98 54.17a1.4 1.4 0 1 0 2.8 0a1.4 1.4 0 1 0 -2.8 0M398.09 54.61a1.4 1.4 0 1 0 2.8 0a1.4 1.4 0 1 0 -2.8 0M400.2 55.06a1.4 1.4 0 1 0 2.8 0a1.4 1.4 0 1 0 -2.8 0M402.31 55.51a1.4 1.4 0 1 0 2.8 0a1.4 1.4 0 1 0 -2.8 0M404.42 55.98a1.4 1.4 0 1 0 2.8 0a1.4 1.4 0 1 0 -2.8 0M406.53 56.47a1.4 1.4 0 1 0 2.8 0a1.4 1.4 0 1 0 -2.8 0M408.64 56.98a1.4 1.4 0 1 0 2.8 0a1.4 1.4 0 1 0 -2.8 0M410.75 57.5a1.4 1.4 0 1 0 2.8 0a1.4 1.4 0 1 0 -2.8 0M412.86 58.04a1.4 1.4 0 1 0 2.8 0a1.4 1.4 0 1 0 -2.8 0M414.97 58.59a1.4 1.4 0 1 0 2.8 0a1.4 1.4 0 1 0 -2.8 0M417.08 59.17a1.4 1.4 0 1 0 2.8 0a1.4 1.4 0 1 0 -2.8 0M419.19 59.78a1.4 1.4 0 1 0 2.8 0a1.4 1.4 0 1 0 -2.8 0M421.3 60.41a1.4 1.4 0 1 0 2.8 0a1.4 1.4 0 1 0 -2.8 0M423.41 61.05a1.4 1.4 0 1 0 2.8 0a1.4 1.4 0 1 0 -2.8 0M425.52 61.67a1.4 1.4 0 1 0 2.8 0a1.4 1.4 0 1 0 -2.8 0M427.63 62.32a1.4 1.4 0 1 0 2.8 0a1.4 1.4 0 1 0 -2.8 0M429.74 62.99a1.4 1.4 0 1 0 2.8 0a1.4 1.4 0 1 0 -2.8 0M431.85 63.61a1.4 1.4 0 1 0 2.8 0a1.4 1.4 0 1 0 -2.8 0M433.96 64.09a1.4 1.4 0 1 0 2.8 0a1.4 1.4 0 1 0 -2.8 0M436.07 64.42a1.4 1.4 0 1 0 2.8 0a1.4 1.4 0 1 0 -2.8 0M438.18 64.72a1.4 1.4 0 1 0 2.8 0a1.4 1.4 0 1 0 -2.8 0M440.29 64.94a1.4 1.4 0 1 0 2.8 0a1.4 1.4 0 1 0 -2.8 0M442.4 65.02a1.4 1.4 0 1 0 2.8 0a1.4 1.4 0 1 0 -2.8 0M444.51 64.94a1.4 1.4 0 1 0 2.8 0a1.4 1.4 0 1 0 -2.8 0M446.62 64.72a1.4 1.4 0 1 0 2.8 0a1.4 1.4 0 1 0 -2.8 0M448.73 64.43a1.4 1.4 0 1 0 2.8 0a1.4 1.4 0 1 0 -2.8 0M450.84 64.09a1.4 1.4 0 1 0 2.8 0a1.4 1.4 0 1 0 -2.8 0M452.95 63.6a1.4 1.4 0 1 0 2.8 0a1.4 1.4 0 1 0 -2.8 0M455.06 62.95a1.4 1.4 0 1 0 2.8 0a1.4 1.4 0 1 0 -2.8 0M457.17 62.27a1.4 1.4 0 1 0 2.8 0a1.4 1.4 0 1 0 -2.8 0M459.28 61.55a1.4 1.4 0 1 0 2.8 0a1.4 1.4 0 1 0 -2.8 0M461.39 60.46a1.4 1.4 0 1 0 2.8 0a1.4 1.4 0 1 0 -2.8 0M463.5 59.35a1.4 1.4 0 1 0 2.8 0a1.4 1.4 0 1 0 -2.8 0M465.61 58.67a1.4 1.4 0 1 0 2.8 0a1.4 1.4 0 1 0 -2.8 0M467.72 58.19a1.4 1.4 0 1 0 2.8 0a1.4 1.4 0 1 0 -2.8 0M469.83 57.77a1.4 1.4 0 1 0 2.8 0a1.4 1.4 0 1 0 -2.8 0M471.94 57.39a1.4 1.4 0 1 0 2.8 0a1.4 1.4 0 1 0 -2.8 0M474.05 57.03a1.4 1.4 0 1 0 2.8 0a1.4 1.4 0 1 0 -2.8 0M476.16 56.68a1.4 1.4 0 1 0 2.8 0a1.4 1.4 0 1 0 -2.8 0M478.27 56.35a1.4 1.4 0 1 0 2.8 0a1.4 1.4 0 1 0 -2.8 0M480.38 56.02a1.4 1.4 0 1 0 2.8 0a1.4 1.4 0 1 0 -2.8 0M482.49 55.7a1.4 1.4 0 1 0 2.8 0a1.4 1.4 0 1 0 -2.8 0M484.6 55.4a1.4 1.4 0 1 0 2.8 0a1.4 1.4 0 1 0 -2.8 0M486.71 55.01a1.4 1.4 0 1 0 2.8 0a1.4 1.4 0 1 0 -2.8 0M488.82 54.62a1.4 1.4 0 1 0 2.8 0a1.4 1.4 0 1 0 -2.8 0M490.93 54.22a1.4 1.4 0 1 0 2.8 0a1.4 1.4 0 1 0 -2.8 0M493.04 53.79a1.4 1.4 0 1 0 2.8 0a1.4 1.4 0 1 0 -2.8 0M495.15 53.33a1.4 1.4 0 1 0 2.8 0a1.4 1.4 0 1 0 -2.8 0M497.26 52.84a1.4 1.4 0 1 0 2.8 0a1.4 1.4 0 1 0 -2.8 0M499.37 52.32a1.4 1.4 0 1 0 2.8 0a1.4 1.4 0 1 0 -2.8 0M501.48 51.78a1.4 1.4 0 1 0 2.8 0a1.4 1.4 0 1 0 -2.8 0M503.59 51.22a1.4 1.4 0 1 0 2.8 0a1.4 1.4 0 1 0 -2.8 0M505.7 50.64a1.4 1.4 0 1 0 2.8 0a1.4 1.4 0 1 0 -2.8 0" fill="#fff" stroke="#15cd6d" stroke-width="1.0"/></g><g clip-path="url(#cd)"><path d="M555 66.14a1.4 1.4 0 1 0 2.8 0a1.4 1.4 0 1 0 -2.8 0M557.11 66.08a1.4 1.4 0 1 0 2.8 0a1.4 1.4 0 1 0 -2.8 0M559.22 66.03a1.4 1.4 0 1 0 2.8 0a1.4 1.4 0 1 0 -2.8 0M561.33 65.98a1.4 1.4 0 1 0 2.8 0a1.4 1.4 0 1 0 -2.8 0M563.44 65.93a1.4 1.4 0 1 0 2.8 0a1.4 1.4 0 1 0 -2.8 0M565.55 65.88a1.4 1.4 0 1 0 2.8 0a1.4 1.4 0 1 0 -2.8 0M567.66 65.84a1.4 1.4 0 1 0 2.8 0a1.4 1.4 0 1 0 -2.8 0M569.77 65.79a1.4 1.4 0 1 0 2.8 0a1.4 1.4 0 1 0 -2.8 0M571.88 65.75a1.4 1.4 0 1 0 2.8 0a1.4 1.4 0 1 0 -2.8 0M573.99 65.71a1.4 1.4 0 1 0 2.8 0a1.4 1.4 0 1 0 -2.8 0M576.1 65.67a1.4 1.4 0 1 0 2.8 0a1.4 1.4 0 1 0 -2.8 0M578.21 65.64a1.4 1.4 0 1 0 2.8 0a1.4 1.4 0 1 0 -2.8 0M580.32 65.6a1.4 1.4 0 1 0 2.8 0a1.4 1.4 0 1 0 -2.8 0M582.43 65.57a1.4 1.4 0 1 0 2.8 0a1.4 1.4 0 1 0 -2.8 0M584.54 65.54a1.4 1.4 0 1 0 2.8 0a1.4 1.4 0 1 0 -2.8 0M586.65 65.51a1.4 1.4 0 1 0 2.8 0a1.4 1.4 0 1 0 -2.8 0M588.76 65.48a1.4 1.4 0 1 0 2.8 0a1.4 1.4 0 1 0 -2.8 0M590.87 65.46a1.4 1.4 0 1 0 2.8 0a1.4 1.4 0 1 0 -2.8 0M592.98 65.43a1.4 1.4 0 1 0 2.8 0a1.4 1.4 0 1 0 -2.8 0M595.09 65.41a1.4 1.4 0 1 0 2.8 0a1.4 1.4 0 1 0 -2.8 0M597.2 65.39a1.4 1.4 0 1 0 2.8 0a1.4 1.4 0 1 0 -2.8 0M599.31 65.38a1.4 1.4 0 1 0 2.8 0a1.4 1.4 0 1 0 -2.8 0M601.42 65.36a1.4 1.4 0 1 0 2.8 0a1.4 1.4 0 1 0 -2.8 0M603.53 65.35a1.4 1.4 0 1 0 2.8 0a1.4 1.4 0 1 0 -2.8 0M605.64 65.33a1.4 1.4 0 1 0 2.8 0a1.4 1.4 0 1 0 -2.8 0M607.75 65.32a1.4 1.4 0 1 0 2.8 0a1.4 1.4 0 1 0 -2.8 0M609.86 65.31a1.4 1.4 0 1 0 2.8 0a1.4 1.4 0 1 0 -2.8 0M611.97 65.31a1.4 1.4 0 1 0 2.8 0a1.4 1.4 0 1 0 -2.8 0M614.08 65.3a1.4 1.4 0 1 0 2.8 0a1.4 1.4 0 1 0 -2.8 0M616.19 65.3a1.4 1.4 0 1 0 2.8 0a1.4 1.4 0 1 0 -2.8 0M618.3 65.3a1.4 1.4 0 1 0 2.8 0a1.4 1.4 0 1 0 -2.8 0M620.41 65.3a1.4 1.4 0 1 0 2.8 0a1.4 1.4 0 1 0 -2.8 0M622.52 65.3a1.4 1.4 0 1 0 2.8 0a1.4 1.4 0 1 0 -2.8 0M624.63 65.31a1.4 1.4 0 1 0 2.8 0a1.4 1.4 0 1 0 -2.8 0M626.74 65.31a1.4 1.4 0 1 0 2.8 0a1.4 1.4 0 1 0 -2.8 0M628.85 65.32a1.4 1.4 0 1 0 2.8 0a1.4 1.4 0 1 0 -2.8 0M630.96 65.33a1.4 1.4 0 1 0 2.8 0a1.4 1.4 0 1 0 -2.8 0M633.07 65.35a1.4 1.4 0 1 0 2.8 0a1.4 1.4 0 1 0 -2.8 0M635.18 65.36a1.4 1.4 0 1 0 2.8 0a1.4 1.4 0 1 0 -2.8 0M637.29 65.38a1.4 1.4 0 1 0 2.8 0a1.4 1.4 0 1 0 -2.8 0M639.4 65.39a1.4 1.4 0 1 0 2.8 0a1.4 1.4 0 1 0 -2.8 0M641.51 65.41a1.4 1.4 0 1 0 2.8 0a1.4 1.4 0 1 0 -2.8 0M643.62 65.43a1.4 1.4 0 1 0 2.8 0a1.4 1.4 0 1 0 -2.8 0M645.73 65.46a1.4 1.4 0 1 0 2.8 0a1.4 1.4 0 1 0 -2.8 0M647.84 65.48a1.4 1.4 0 1 0 2.8 0a1.4 1.4 0 1 0 -2.8 0M649.95 65.51a1.4 1.4 0 1 0 2.8 0a1.4 1.4 0 1 0 -2.8 0M652.06 65.54a1.4 1.4 0 1 0 2.8 0a1.4 1.4 0 1 0 -2.8 0M654.17 65.57a1.4 1.4 0 1 0 2.8 0a1.4 1.4 0 1 0 -2.8 0M656.28 65.6a1.4 1.4 0 1 0 2.8 0a1.4 1.4 0 1 0 -2.8 0M658.39 65.64a1.4 1.4 0 1 0 2.8 0a1.4 1.4 0 1 0 -2.8 0M660.5 65.67a1.4 1.4 0 1 0 2.8 0a1.4 1.4 0 1 0 -2.8 0M662.61 65.71a1.4 1.4 0 1 0 2.8 0a1.4 1.4 0 1 0 -2.8 0M664.72 65.75a1.4 1.4 0 1 0 2.8 0a1.4 1.4 0 1 0 -2.8 0M666.83 65.79a1.4 1.4 0 1 0 2.8 0a1.4 1.4 0 1 0 -2.8 0M668.94 65.84a1.4 1.4 0 1 0 2.8 0a1.4 1.4 0 1 0 -2.8 0M671.05 65.88a1.4 1.4 0 1 0 2.8 0a1.4 1.4 0 1 0 -2.8 0M673.16 65.93a1.4 1.4 0 1 0 2.8 0a1.4 1.4 0 1 0 -2.8 0M675.27 65.98a1.4 1.4 0 1 0 2.8 0a1.4 1.4 0 1 0 -2.8 0M677.38 66.03a1.4 1.4 0 1 0 2.8 0a1.4 1.4 0 1 0 -2.8 0M679.49 66.08a1.4 1.4 0 1 0 2.8 0a1.4 1.4 0 1 0 -2.8 0M681.6 66.14a1.4 1.4 0 1 0 2.8 0a1.4 1.4 0 1 0 -2.8 0" fill="#fff" stroke="#ff0000" stroke-width="1.0"/><path d="M555 67.25a1.4 1.4 0 1 0 2.8 0a1.4 1.4 0 1 0 -2.8 0M557.11 67.23a1.4 1.4 0 1 0 2.8 0a1.4 1.4 0 1 0 -2.8 0M559.22 67.19a1.4 1.4 0 1 0 2.8 0a1.4 1.4 0 1 0 -2.8 0M561.33 67.13a1.4 1.4 0 1 0 2.8 0a1.4 1.4 0 1 0 -2.8 0M563.44 67.06a1.4 1.4 0 1 0 2.8 0a1.4 1.4 0 1 0 -2.8 0M565.55 66.97a1.4 1.4 0 1 0 2.8 0a1.4 1.4 0 1 0 -2.8 0M567.66 66.87a1.4 1.4 0 1 0 2.8 0a1.4 1.4 0 1 0 -2.8 0M569.77 66.75a1.4 1.4 0 1 0 2.8 0a1.4 1.4 0 1 0 -2.8 0M571.88 66.63a1.4 1.4 0 1 0 2.8 0a1.4 1.4 0 1 0 -2.8 0M573.99 66.5a1.4 1.4 0 1 0 2.8 0a1.4 1.4 0 1 0 -2.8 0M576.1 66.36a1.4 1.4 0 1 0 2.8 0a1.4 1.4 0 1 0 -2.8 0M578.21 66.21a1.4 1.4 0 1 0 2.8 0a1.4 1.4 0 1 0 -2.8 0M580.32 66.06a1.4 1.4 0 1 0 2.8 0a1.4 1.4 0 1 0 -2.8 0M582.43 65.9a1.4 1.4 0 1 0 2.8 0a1.4 1.4 0 1 0 -2.8 0M584.54 65.74a1.4 1.4 0 1 0 2.8 0a1.4 1.4 0 1 0 -2.8 0M586.65 65.58a1.4 1.4 0 1 0 2.8 0a1.4 1.4 0 1 0 -2.8 0M588.76 65.39a1.4 1.4 0 1 0 2.8 0a1.4 1.4 0 1 0 -2.8 0M590.87 65.14a1.4 1.4 0 1 0 2.8 0a1.4 1.4 0 1 0 -2.8 0M592.98 64.86a1.4 1.4 0 1 0 2.8 0a1.4 1.4 0 1 0 -2.8 0M595.09 64.57a1.4 1.4 0 1 0 2.8 0a1.4 1.4 0 1 0 -2.8 0M597.2 64.27a1.4 1.4 0 1 0 2.8 0a1.4 1.4 0 1 0 -2.8 0M599.31 63.98a1.4 1.4 0 1 0 2.8 0a1.4 1.4 0 1 0 -2.8 0M601.42 63.73a1.4 1.4 0 1 0 2.8 0a1.4 1.4 0 1 0 -2.8 0M603.53 63.52a1.4 1.4 0 1 0 2.8 0a1.4 1.4 0 1 0 -2.8 0M605.64 63.3a1.4 1.4 0 1 0 2.8 0a1.4 1.4 0 1 0 -2.8 0M607.75 63.07a1.4 1.4 0 1 0 2.8 0a1.4 1.4 0 1 0 -2.8 0M609.86 62.85a1.4 1.4 0 1 0 2.8 0a1.4 1.4 0 1 0 -2.8 0M611.97 62.66a1.4 1.4 0 1 0 2.8 0a1.4 1.4 0 1 0 -2.8 0M614.08 62.51a1.4 1.4 0 1 0 2.8 0a1.4 1.4 0 1 0 -2.8 0M616.19 62.4a1.4 1.4 0 1 0 2.8 0a1.4 1.4 0 1 0 -2.8 0M618.3 62.37a1.4 1.4 0 1 0 2.8 0a1.4 1.4 0 1 0 -2.8 0M620.41 62.37a1.4 1.4 0 1 0 2.8 0a1.4 1.4 0 1 0 -2.8 0M622.52 62.39a1.4 1.4 0 1 0 2.8 0a1.4 1.4 0 1 0 -2.8 0M624.63 62.42a1.4 1.4 0 1 0 2.8 0a1.4 1.4 0 1 0 -2.8 0M626.74 62.45a1.4 1.4 0 1 0 2.8 0a1.4 1.4 0 1 0 -2.8 0M628.85 62.5a1.4 1.4 0 1 0 2.8 0a1.4 1.4 0 1 0 -2.8 0M630.96 62.55a1.4 1.4 0 1 0 2.8 0a1.4 1.4 0 1 0 -2.8 0M633.07 62.61a1.4 1.4 0 1 0 2.8 0a1.4 1.4 0 1 0 -2.8 0M635.18 62.69a1.4 1.4 0 1 0 2.8 0a1.4 1.4 0 1 0 -2.8 0M637.29 62.85a1.4 1.4 0 1 0 2.8 0a1.4 1.4 0 1 0 -2.8 0M639.4 63.09a1.4 1.4 0 1 0 2.8 0a1.4 1.4 0 1 0 -2.8 0M641.51 63.38a1.4 1.4 0 1 0 2.8 0a1.4 1.4 0 1 0 -2.8 0M643.62 63.72a1.4 1.4 0 1 0 2.8 0a1.4 1.4 0 1 0 -2.8 0M645.73 64.07a1.4 1.4 0 1 0 2.8 0a1.4 1.4 0 1 0 -2.8 0M647.84 64.41a1.4 1.4 0 1 0 2.8 0a1.4 1.4 0 1 0 -2.8 0M649.95 64.74a1.4 1.4 0 1 0 2.8 0a1.4 1.4 0 1 0 -2.8 0M652.06 65.09a1.4 1.4 0 1 0 2.8 0a1.4 1.4 0 1 0 -2.8 0M654.17 65.47a1.4 1.4 0 1 0 2.8 0a1.4 1.4 0 1 0 -2.8 0M656.28 65.85a1.4 1.4 0 1 0 2.8 0a1.4 1.4 0 1 0 -2.8 0M658.39 66.16a1.4 1.4 0 1 0 2.8 0a1.4 1.4 0 1 0 -2.8 0M660.5 66.38a1.4 1.4 0 1 0 2.8 0a1.4 1.4 0 1 0 -2.8 0M662.61 66.57a1.4 1.4 0 1 0 2.8 0a1.4 1.4 0 1 0 -2.8 0M664.72 66.76a1.4 1.4 0 1 0 2.8 0a1.4 1.4 0 1 0 -2.8 0M666.83 66.94a1.4 1.4 0 1 0 2.8 0a1.4 1.4 0 1 0 -2.8 0M668.94 67.11a1.4 1.4 0 1 0 2.8 0a1.4 1.4 0 1 0 -2.8 0M671.05 67.26a1.4 1.4 0 1 0 2.8 0a1.4 1.4 0 1 0 -2.8 0M673.16 67.4a1.4 1.4 0 1 0 2.8 0a1.4 1.4 0 1 0 -2.8 0M675.27 67.51a1.4 1.4 0 1 0 2.8 0a1.4 1.4 0 1 0 -2.8 0M677.38 67.59a1.4 1.4 0 1 0 2.8 0a1.4 1.4 0 1 0 -2.8 0M679.49 67.65a1.4 1.4 0 1 0 2.8 0a1.4 1.4 0 1 0 -2.8 0M681.6 67.67a1.4 1.4 0 1 0 2.8 0a1.4 1.4 0 1 0 -2.8 0" fill="#fff" stroke="#0000ff" stroke-width="1.0"/><path d="M555 62.9a1.4 1.4 0 1 0 2.8 0a1.4 1.4 0 1 0 -2.8 0M557.11 62.9a1.4 1.4 0 1 0 2.8 0a1.4 1.4 0 1 0 -2.8 0M559.22 62.9a1.4 1.4 0 1 0 2.8 0a1.4 1.4 0 1 0 -2.8 0M561.33 62.9a1.4 1.4 0 1 0 2.8 0a1.4 1.4 0 1 0 -2.8 0M563.44 62.9a1.4 1.4 0 1 0 2.8 0a1.4 1.4 0 1 0 -2.8 0M565.55 62.9a1.4 1.4 0 1 0 2.8 0a1.4 1.4 0 1 0 -2.8 0M567.66 62.9a1.4 1.4 0 1 0 2.8 0a1.4 1.4 0 1 0 -2.8 0M569.77 62.9a1.4 1.4 0 1 0 2.8 0a1.4 1.4 0 1 0 -2.8 0M571.88 62.9a1.4 1.4 0 1 0 2.8 0a1.4 1.4 0 1 0 -2.8 0M573.99 62.9a1.4 1.4 0 1 0 2.8 0a1.4 1.4 0 1 0 -2.8 0M576.1 62.9a1.4 1.4 0 1 0 2.8 0a1.4 1.4 0 1 0 -2.8 0M578.21 62.9a1.4 1.4 0 1 0 2.8 0a1.4 1.4 0 1 0 -2.8 0M580.32 62.9a1.4 1.4 0 1 0 2.8 0a1.4 1.4 0 1 0 -2.8 0M582.43 62.9a1.4 1.4 0 1 0 2.8 0a1.4 1.4 0 1 0 -2.8 0M584.54 62.9a1.4 1.4 0 1 0 2.8 0a1.4 1.4 0 1 0 -2.8 0M586.65 60.83a1.4 1.4 0 1 0 2.8 0a1.4 1.4 0 1 0 -2.8 0M588.76 58.87a1.4 1.4 0 1 0 2.8 0a1.4 1.4 0 1 0 -2.8 0M590.87 59.38a1.4 1.4 0 1 0 2.8 0a1.4 1.4 0 1 0 -2.8 0M592.98 59.97a1.4 1.4 0 1 0 2.8 0a1.4 1.4 0 1 0 -2.8 0M595.09 60.45a1.4 1.4 0 1 0 2.8 0a1.4 1.4 0 1 0 -2.8 0M597.2 60.9a1.4 1.4 0 1 0 2.8 0a1.4 1.4 0 1 0 -2.8 0M599.31 61.28a1.4 1.4 0 1 0 2.8 0a1.4 1.4 0 1 0 -2.8 0M601.42 61.64a1.4 1.4 0 1 0 2.8 0a1.4 1.4 0 1 0 -2.8 0M603.53 61.97a1.4 1.4 0 1 0 2.8 0a1.4 1.4 0 1 0 -2.8 0M605.64 62.28a1.4 1.4 0 1 0 2.8 0a1.4 1.4 0 1 0 -2.8 0M607.75 62.58a1.4 1.4 0 1 0 2.8 0a1.4 1.4 0 1 0 -2.8 0M609.86 62.87a1.4 1.4 0 1 0 2.8 0a1.4 1.4 0 1 0 -2.8 0M611.97 63.16a1.4 1.4 0 1 0 2.8 0a1.4 1.4 0 1 0 -2.8 0M614.08 63.43a1.4 1.4 0 1 0 2.8 0a1.4 1.4 0 1 0 -2.8 0M616.19 63.68a1.4 1.4 0 1 0 2.8 0a1.4 1.4 0 1 0 -2.8 0M618.3 63.9a1.4 1.4 0 1 0 2.8 0a1.4 1.4 0 1 0 -2.8 0M620.41 64.12a1.4 1.4 0 1 0 2.8 0a1.4 1.4 0 1 0 -2.8 0M622.52 64.33a1.4 1.4 0 1 0 2.8 0a1.4 1.4 0 1 0 -2.8 0M624.63 64.54a1.4 1.4 0 1 0 2.8 0a1.4 1.4 0 1 0 -2.8 0M626.74 64.74a1.4 1.4 0 1 0 2.8 0a1.4 1.4 0 1 0 -2.8 0M628.85 64.91a1.4 1.4 0 1 0 2.8 0a1.4 1.4 0 1 0 -2.8 0M630.96 65.04a1.4 1.4 0 1 0 2.8 0a1.4 1.4 0 1 0 -2.8 0M633.07 65.13a1.4 1.4 0 1 0 2.8 0a1.4 1.4 0 1 0 -2.8 0M635.18 65.18a1.4 1.4 0 1 0 2.8 0a1.4 1.4 0 1 0 -2.8 0M637.29 65.21a1.4 1.4 0 1 0 2.8 0a1.4 1.4 0 1 0 -2.8 0M639.4 65.24a1.4 1.4 0 1 0 2.8 0a1.4 1.4 0 1 0 -2.8 0M641.51 65.27a1.4 1.4 0 1 0 2.8 0a1.4 1.4 0 1 0 -2.8 0M643.62 65.29a1.4 1.4 0 1 0 2.8 0a1.4 1.4 0 1 0 -2.8 0M645.73 65.3a1.4 1.4 0 1 0 2.8 0a1.4 1.4 0 1 0 -2.8 0M647.84 65.17a1.4 1.4 0 1 0 2.8 0a1.4 1.4 0 1 0 -2.8 0M649.95 63.9a1.4 1.4 0 1 0 2.8 0a1.4 1.4 0 1 0 -2.8 0M652.06 63.57a1.4 1.4 0 1 0 2.8 0a1.4 1.4 0 1 0 -2.8 0M654.17 63.39a1.4 1.4 0 1 0 2.8 0a1.4 1.4 0 1 0 -2.8 0M656.28 63.32a1.4 1.4 0 1 0 2.8 0a1.4 1.4 0 1 0 -2.8 0M658.39 63.28a1.4 1.4 0 1 0 2.8 0a1.4 1.4 0 1 0 -2.8 0M660.5 63.24a1.4 1.4 0 1 0 2.8 0a1.4 1.4 0 1 0 -2.8 0M662.61 63.2a1.4 1.4 0 1 0 2.8 0a1.4 1.4 0 1 0 -2.8 0M664.72 63.17a1.4 1.4 0 1 0 2.8 0a1.4 1.4 0 1 0 -2.8 0M666.83 63.15a1.4 1.4 0 1 0 2.8 0a1.4 1.4 0 1 0 -2.8 0M668.94 63.12a1.4 1.4 0 1 0 2.8 0a1.4 1.4 0 1 0 -2.8 0M671.05 63.11a1.4 1.4 0 1 0 2.8 0a1.4 1.4 0 1 0 -2.8 0M673.16 63.09a1.4 1.4 0 1 0 2.8 0a1.4 1.4 0 1 0 -2.8 0M675.27 63.08a1.4 1.4 0 1 0 2.8 0a1.4 1.4 0 1 0 -2.8 0M677.38 63.07a1.4 1.4 0 1 0 2.8 0a1.4 1.4 0 1 0 -2.8 0M679.49 63.07a1.4 1.4 0 1 0 2.8 0a1.4 1.4 0 1 0 -2.8 0M681.6 63.07a1.4 1.4 0 1 0 2.8 0a1.4 1.4 0 1 0 -2.8 0" fill="#fff" stroke="#15cd6d" stroke-width="1.0"/><path d="M555 62.9a1.4 1.4 0 1 0 2.8 0a1.4 1.4 0 1 0 -2.8 0M557.11 62.9a1.4 1.4 0 1 0 2.8 0a1.4 1.4 0 1 0 -2.8 0M559.22 62.9a1.4 1.4 0 1 0 2.8 0a1.4 1.4 0 1 0 -2.8 0M561.33 62.9a1.4 1.4 0 1 0 2.8 0a1.4 1.4 0 1 0 -2.8 0M563.44 62.9a1.4 1.4 0 1 0 2.8 0a1.4 1.4 0 1 0 -2.8 0M565.55 62.9a1.4 1.4 0 1 0 2.8 0a1.4 1.4 0 1 0 -2.8 0M567.66 62.9a1.4 1.4 0 1 0 2.8 0a1.4 1.4 0 1 0 -2.8 0M569.77 62.9a1.4 1.4 0 1 0 2.8 0a1.4 1.4 0 1 0 -2.8 0M571.88 62.9a1.4 1.4 0 1 0 2.8 0a1.4 1.4 0 1 0 -2.8 0M573.99 62.9a1.4 1.4 0 1 0 2.8 0a1.4 1.4 0 1 0 -2.8 0M576.1 62.9a1.4 1.4 0 1 0 2.8 0a1.4 1.4 0 1 0 -2.8 0M578.21 62.9a1.4 1.4 0 1 0 2.8 0a1.4 1.4 0 1 0 -2.8 0M580.32 62.9a1.4 1.4 0 1 0 2.8 0a1.4 1.4 0 1 0 -2.8 0M582.43 62.9a1.4 1.4 0 1 0 2.8 0a1.4 1.4 0 1 0 -2.8 0M584.54 62.94a1.4 1.4 0 1 0 2.8 0a1.4 1.4 0 1 0 -2.8 0M586.65 63.62a1.4 1.4 0 1 0 2.8 0a1.4 1.4 0 1 0 -2.8 0M588.76 64.65a1.4 1.4 0 1 0 2.8 0a1.4 1.4 0 1 0 -2.8 0M590.87 64.74a1.4 1.4 0 1 0 2.8 0a1.4 1.4 0 1 0 -2.8 0M592.98 64.74a1.4 1.4 0 1 0 2.8 0a1.4 1.4 0 1 0 -2.8 0M595.09 64.74a1.4 1.4 0 1 0 2.8 0a1.4 1.4 0 1 0 -2.8 0M597.2 64.74a1.4 1.4 0 1 0 2.8 0a1.4 1.4 0 1 0 -2.8 0M599.31 64.74a1.4 1.4 0 1 0 2.8 0a1.4 1.4 0 1 0 -2.8 0M601.42 64.74a1.4 1.4 0 1 0 2.8 0a1.4 1.4 0 1 0 -2.8 0M603.53 64.74a1.4 1.4 0 1 0 2.8 0a1.4 1.4 0 1 0 -2.8 0M605.64 64.69a1.4 1.4 0 1 0 2.8 0a1.4 1.4 0 1 0 -2.8 0M607.75 64.62a1.4 1.4 0 1 0 2.8 0a1.4 1.4 0 1 0 -2.8 0M609.86 64.51a1.4 1.4 0 1 0 2.8 0a1.4 1.4 0 1 0 -2.8 0M611.97 64.38a1.4 1.4 0 1 0 2.8 0a1.4 1.4 0 1 0 -2.8 0M614.08 64.23a1.4 1.4 0 1 0 2.8 0a1.4 1.4 0 1 0 -2.8 0M616.19 64.07a1.4 1.4 0 1 0 2.8 0a1.4 1.4 0 1 0 -2.8 0M618.3 63.9a1.4 1.4 0 1 0 2.8 0a1.4 1.4 0 1 0 -2.8 0M620.41 63.68a1.4 1.4 0 1 0 2.8 0a1.4 1.4 0 1 0 -2.8 0M622.52 63.38a1.4 1.4 0 1 0 2.8 0a1.4 1.4 0 1 0 -2.8 0M624.63 63.03a1.4 1.4 0 1 0 2.8 0a1.4 1.4 0 1 0 -2.8 0M626.74 62.66a1.4 1.4 0 1 0 2.8 0a1.4 1.4 0 1 0 -2.8 0M628.85 62.29a1.4 1.4 0 1 0 2.8 0a1.4 1.4 0 1 0 -2.8 0M630.96 61.95a1.4 1.4 0 1 0 2.8 0a1.4 1.4 0 1 0 -2.8 0M633.07 61.66a1.4 1.4 0 1 0 2.8 0a1.4 1.4 0 1 0 -2.8 0M635.18 61.4a1.4 1.4 0 1 0 2.8 0a1.4 1.4 0 1 0 -2.8 0M637.29 61.14a1.4 1.4 0 1 0 2.8 0a1.4 1.4 0 1 0 -2.8 0M639.4 60.87a1.4 1.4 0 1 0 2.8 0a1.4 1.4 0 1 0 -2.8 0M641.51 60.57a1.4 1.4 0 1 0 2.8 0a1.4 1.4 0 1 0 -2.8 0M643.62 60.2a1.4 1.4 0 1 0 2.8 0a1.4 1.4 0 1 0 -2.8 0M645.73 59.64a1.4 1.4 0 1 0 2.8 0a1.4 1.4 0 1 0 -2.8 0M647.84 59.01a1.4 1.4 0 1 0 2.8 0a1.4 1.4 0 1 0 -2.8 0M649.95 61.39a1.4 1.4 0 1 0 2.8 0a1.4 1.4 0 1 0 -2.8 0M652.06 63.2a1.4 1.4 0 1 0 2.8 0a1.4 1.4 0 1 0 -2.8 0M654.17 63.2a1.4 1.4 0 1 0 2.8 0a1.4 1.4 0 1 0 -2.8 0M656.28 63.2a1.4 1.4 0 1 0 2.8 0a1.4 1.4 0 1 0 -2.8 0M658.39 63.2a1.4 1.4 0 1 0 2.8 0a1.4 1.4 0 1 0 -2.8 0M660.5 63.2a1.4 1.4 0 1 0 2.8 0a1.4 1.4 0 1 0 -2.8 0M662.61 63.19a1.4 1.4 0 1 0 2.8 0a1.4 1.4 0 1 0 -2.8 0M664.72 63.18a1.4 1.4 0 1 0 2.8 0a1.4 1.4 0 1 0 -2.8 0M666.83 63.16a1.4 1.4 0 1 0 2.8 0a1.4 1.4 0 1 0 -2.8 0M668.94 63.15a1.4 1.4 0 1 0 2.8 0a1.4 1.4 0 1 0 -2.8 0M671.05 63.12a1.4 1.4 0 1 0 2.8 0a1.4 1.4 0 1 0 -2.8 0M673.16 63.09a1.4 1.4 0 1 0 2.8 0a1.4 1.4 0 1 0 -2.8 0M675.27 63.06a1.4 1.4 0 1 0 2.8 0a1.4 1.4 0 1 0 -2.8 0M677.38 63.02a1.4 1.4 0 1 0 2.8 0a1.4 1.4 0 1 0 -2.8 0M679.49 62.97a1.4 1.4 0 1 0 2.8 0a1.4 1.4 0 1 0 -2.8 0M681.6 62.91a1.4 1.4 0 1 0 2.8 0a1.4 1.4 0 1 0 -2.8 0" fill="#fff" stroke="#15cd6d" stroke-width="1.0"/></g><g clip-path="url(#ce)"><path d="M28.3 198.51a1.4 1.4 0 1 0 2.8 0a1.4 1.4 0 1 0 -2.8 0M30.41 198.38a1.4 1.4 0 1 0 2.8 0a1.4 1.4 0 1 0 -2.8 0M32.52 198.26a1.4 1.4 0 1 0 2.8 0a1.4 1.4 0 1 0 -2.8 0M34.63 198.13a1.4 1.4 0 1 0 2.8 0a1.4 1.4 0 1 0 -2.8 0M36.74 198.02a1.4 1.4 0 1 0 2.8 0a1.4 1.4 0 1 0 -2.8 0M38.85 197.91a1.4 1.4 0 1 0 2.8 0a1.4 1.4 0 1 0 -2.8 0M40.96 197.8a1.4 1.4 0 1 0 2.8 0a1.4 1.4 0 1 0 -2.8 0M43.07 197.7a1.4 1.4 0 1 0 2.8 0a1.4 1.4 0 1 0 -2.8 0M45.18 197.6a1.4 1.4 0 1 0 2.8 0a1.4 1.4 0 1 0 -2.8 0M47.29 197.5a1.4 1.4 0 1 0 2.8 0a1.4 1.4 0 1 0 -2.8 0M49.4 197.42a1.4 1.4 0 1 0 2.8 0a1.4 1.4 0 1 0 -2.8 0M51.51 197.33a1.4 1.4 0 1 0 2.8 0a1.4 1.4 0 1 0 -2.8 0M53.62 197.25a1.4 1.4 0 1 0 2.8 0a1.4 1.4 0 1 0 -2.8 0M55.73 197.17a1.4 1.4 0 1 0 2.8 0a1.4 1.4 0 1 0 -2.8 0M57.84 197.1a1.4 1.4 0 1 0 2.8 0a1.4 1.4 0 1 0 -2.8 0M59.95 197.04a1.4 1.4 0 1 0 2.8 0a1.4 1.4 0 1 0 -2.8 0M62.06 196.97a1.4 1.4 0 1 0 2.8 0a1.4 1.4 0 1 0 -2.8 0M64.17 196.92a1.4 1.4 0 1 0 2.8 0a1.4 1.4 0 1 0 -2.8 0M66.28 196.86a1.4 1.4 0 1 0 2.8 0a1.4 1.4 0 1 0 -2.8 0M68.39 196.81a1.4 1.4 0 1 0 2.8 0a1.4 1.4 0 1 0 -2.8 0M70.5 196.77a1.4 1.4 0 1 0 2.8 0a1.4 1.4 0 1 0 -2.8 0M72.61 196.73a1.4 1.4 0 1 0 2.8 0a1.4 1.4 0 1 0 -2.8 0M74.72 196.69a1.4 1.4 0 1 0 2.8 0a1.4 1.4 0 1 0 -2.8 0M76.83 196.66a1.4 1.4 0 1 0 2.8 0a1.4 1.4 0 1 0 -2.8 0M78.94 196.63a1.4 1.4 0 1 0 2.8 0a1.4 1.4 0 1 0 -2.8 0M81.05 196.61a1.4 1.4 0 1 0 2.8 0a1.4 1.4 0 1 0 -2.8 0M83.16 196.59a1.4 1.4 0 1 0 2.8 0a1.4 1.4 0 1 0 -2.8 0M85.27 196.58a1.4 1.4 0 1 0 2.8 0a1.4 1.4 0 1 0 -2.8 0M87.38 196.57a1.4 1.4 0 1 0 2.8 0a1.4 1.4 0 1 0 -2.8 0M89.49 196.56a1.4 1.4 0 1 0 2.8 0a1.4 1.4 0 1 0 -2.8 0M91.6 196.56a1.4 1.4 0 1 0 2.8 0a1.4 1.4 0 1 0 -2.8 0M93.71 196.56a1.4 1.4 0 1 0 2.8 0a1.4 1.4 0 1 0 -2.8 0M95.82 196.57a1.4 1.4 0 1 0 2.8 0a1.4 1.4 0 1 0 -2.8 0M97.93 196.58a1.4 1.4 0 1 0 2.8 0a1.4 1.4 0 1 0 -2.8 0M100.04 196.59a1.4 1.4 0 1 0 2.8 0a1.4 1.4 0 1 0 -2.8 0M102.15 196.62a1.4 1.4 0 1 0 2.8 0a1.4 1.4 0 1 0 -2.8 0M104.26 196.64a1.4 1.4 0 1 0 2.8 0a1.4 1.4 0 1 0 -2.8 0M106.37 196.67a1.4 1.4 0 1 0 2.8 0a1.4 1.4 0 1 0 -2.8 0M108.48 196.71a1.4 1.4 0 1 0 2.8 0a1.4 1.4 0 1 0 -2.8 0M110.59 196.75a1.4 1.4 0 1 0 2.8 0a1.4 1.4 0 1 0 -2.8 0M112.7 196.79a1.4 1.4 0 1 0 2.8 0a1.4 1.4 0 1 0 -2.8 0M114.81 196.84a1.4 1.4 0 1 0 2.8 0a1.4 1.4 0 1 0 -2.8 0M116.92 196.9a1.4 1.4 0 1 0 2.8 0a1.4 1.4 0 1 0 -2.8 0M119.03 196.96a1.4 1.4 0 1 0 2.8 0a1.4 1.4 0 1 0 -2.8 0M121.14 197.02a1.4 1.4 0 1 0 2.8 0a1.4 1.4 0 1 0 -2.8 0M123.25 197.09a1.4 1.4 0 1 0 2.8 0a1.4 1.4 0 1 0 -2.8 0M125.36 197.16a1.4 1.4 0 1 0 2.8 0a1.4 1.4 0 1 0 -2.8 0M127.47 197.24a1.4 1.4 0 1 0 2.8 0a1.4 1.4 0 1 0 -2.8 0M129.58 197.32a1.4 1.4 0 1 0 2.8 0a1.4 1.4 0 1 0 -2.8 0M131.69 197.41a1.4 1.4 0 1 0 2.8 0a1.4 1.4 0 1 0 -2.8 0M133.8 197.5a1.4 1.4 0 1 0 2.8 0a1.4 1.4 0 1 0 -2.8 0M135.91 197.59a1.4 1.4 0 1 0 2.8 0a1.4 1.4 0 1 0 -2.8 0M138.02 197.69a1.4 1.4 0 1 0 2.8 0a1.4 1.4 0 1 0 -2.8 0M140.13 197.8a1.4 1.4 0 1 0 2.8 0a1.4 1.4 0 1 0 -2.8 0M142.24 197.91a1.4 1.4 0 1 0 2.8 0a1.4 1.4 0 1 0 -2.8 0M144.35 198.02a1.4 1.4 0 1 0 2.8 0a1.4 1.4 0 1 0 -2.8 0M146.46 198.14a1.4 1.4 0 1 0 2.8 0a1.4 1.4 0 1 0 -2.8 0M148.57 198.26a1.4 1.4 0 1 0 2.8 0a1.4 1.4 0 1 0 -2.8 0M150.68 198.39a1.4 1.4 0 1 0 2.8 0a1.4 1.4 0 1 0 -2.8 0M152.79 198.52a1.4 1.4 0 1 0 2.8 0a1.4 1.4 0 1 0 -2.8 0M154.9 198.65a1.4 1.4 0 1 0 2.8 0a1.4 1.4 0 1 0 -2.8 0" fill="#fff" stroke="#ff0000" stroke-width="1.0"/><path d="M28.3 197.39a1.4 1.4 0 1 0 2.8 0a1.4 1.4 0 1 0 -2.8 0M30.41 197.28a1.4 1.4 0 1 0 2.8 0a1.4 1.4 0 1 0 -2.8 0M32.52 197.16a1.4 1.4 0 1 0 2.8 0a1.4 1.4 0 1 0 -2.8 0M34.63 197.05a1.4 1.4 0 1 0 2.8 0a1.4 1.4 0 1 0 -2.8 0M36.74 196.94a1.4 1.4 0 1 0 2.8 0a1.4 1.4 0 1 0 -2.8 0M38.85 196.84a1.4 1.4 0 1 0 2.8 0a1.4 1.4 0 1 0 -2.8 0M40.96 196.74a1.4 1.4 0 1 0 2.8 0a1.4 1.4 0 1 0 -2.8 0M43.07 196.65a1.4 1.4 0 1 0 2.8 0a1.4 1.4 0 1 0 -2.8 0M45.18 196.56a1.4 1.4 0 1 0 2.8 0a1.4 1.4 0 1 0 -2.8 0M47.29 196.47a1.4 1.4 0 1 0 2.8 0a1.4 1.4 0 1 0 -2.8 0M49.4 196.39a1.4 1.4 0 1 0 2.8 0a1.4 1.4 0 1 0 -2.8 0M51.51 196.31a1.4 1.4 0 1 0 2.8 0a1.4 1.4 0 1 0 -2.8 0M53.62 196.23a1.4 1.4 0 1 0 2.8 0a1.4 1.4 0 1 0 -2.8 0M55.73 196.16a1.4 1.4 0 1 0 2.8 0a1.4 1.4 0 1 0 -2.8 0M57.84 196.1a1.4 1.4 0 1 0 2.8 0a1.4 1.4 0 1 0 -2.8 0M59.95 196.03a1.4 1.4 0 1 0 2.8 0a1.4 1.4 0 1 0 -2.8 0M62.06 195.97a1.4 1.4 0 1 0 2.8 0a1.4 1.4 0 1 0 -2.8 0M64.17 195.92a1.4 1.4 0 1 0 2.8 0a1.4 1.4 0 1 0 -2.8 0M66.28 195.87a1.4 1.4 0 1 0 2.8 0a1.4 1.4 0 1 0 -2.8 0M68.39 195.82a1.4 1.4 0 1 0 2.8 0a1.4 1.4 0 1 0 -2.8 0M70.5 195.78a1.4 1.4 0 1 0 2.8 0a1.4 1.4 0 1 0 -2.8 0M72.61 195.74a1.4 1.4 0 1 0 2.8 0a1.4 1.4 0 1 0 -2.8 0M74.72 195.71a1.4 1.4 0 1 0 2.8 0a1.4 1.4 0 1 0 -2.8 0M76.83 195.68a1.4 1.4 0 1 0 2.8 0a1.4 1.4 0 1 0 -2.8 0M78.94 195.65a1.4 1.4 0 1 0 2.8 0a1.4 1.4 0 1 0 -2.8 0M81.05 195.63a1.4 1.4 0 1 0 2.8 0a1.4 1.4 0 1 0 -2.8 0M83.16 195.61a1.4 1.4 0 1 0 2.8 0a1.4 1.4 0 1 0 -2.8 0M85.27 195.6a1.4 1.4 0 1 0 2.8 0a1.4 1.4 0 1 0 -2.8 0M87.38 195.59a1.4 1.4 0 1 0 2.8 0a1.4 1.4 0 1 0 -2.8 0M89.49 195.58a1.4 1.4 0 1 0 2.8 0a1.4 1.4 0 1 0 -2.8 0M91.6 195.58a1.4 1.4 0 1 0 2.8 0a1.4 1.4 0 1 0 -2.8 0M93.71 195.58a1.4 1.4 0 1 0 2.8 0a1.4 1.4 0 1 0 -2.8 0M95.82 195.59a1.4 1.4 0 1 0 2.8 0a1.4 1.4 0 1 0 -2.8 0M97.93 195.6a1.4 1.4 0 1 0 2.8 0a1.4 1.4 0 1 0 -2.8 0M100.04 195.61a1.4 1.4 0 1 0 2.8 0a1.4 1.4 0 1 0 -2.8 0M102.15 195.63a1.4 1.4 0 1 0 2.8 0a1.4 1.4 0 1 0 -2.8 0M104.26 195.65a1.4 1.4 0 1 0 2.8 0a1.4 1.4 0 1 0 -2.8 0M106.37 195.68a1.4 1.4 0 1 0 2.8 0a1.4 1.4 0 1 0 -2.8 0M108.48 195.71a1.4 1.4 0 1 0 2.8 0a1.4 1.4 0 1 0 -2.8 0M110.59 195.74a1.4 1.4 0 1 0 2.8 0a1.4 1.4 0 1 0 -2.8 0M112.7 195.78a1.4 1.4 0 1 0 2.8 0a1.4 1.4 0 1 0 -2.8 0M114.81 195.82a1.4 1.4 0 1 0 2.8 0a1.4 1.4 0 1 0 -2.8 0M116.92 195.87a1.4 1.4 0 1 0 2.8 0a1.4 1.4 0 1 0 -2.8 0M119.03 195.92a1.4 1.4 0 1 0 2.8 0a1.4 1.4 0 1 0 -2.8 0M121.14 195.97a1.4 1.4 0 1 0 2.8 0a1.4 1.4 0 1 0 -2.8 0M123.25 196.03a1.4 1.4 0 1 0 2.8 0a1.4 1.4 0 1 0 -2.8 0M125.36 196.1a1.4 1.4 0 1 0 2.8 0a1.4 1.4 0 1 0 -2.8 0M127.47 196.16a1.4 1.4 0 1 0 2.8 0a1.4 1.4 0 1 0 -2.8 0M129.58 196.23a1.4 1.4 0 1 0 2.8 0a1.4 1.4 0 1 0 -2.8 0M131.69 196.31a1.4 1.4 0 1 0 2.8 0a1.4 1.4 0 1 0 -2.8 0M133.8 196.39a1.4 1.4 0 1 0 2.8 0a1.4 1.4 0 1 0 -2.8 0M135.91 196.47a1.4 1.4 0 1 0 2.8 0a1.4 1.4 0 1 0 -2.8 0M138.02 196.56a1.4 1.4 0 1 0 2.8 0a1.4 1.4 0 1 0 -2.8 0M140.13 196.65a1.4 1.4 0 1 0 2.8 0a1.4 1.4 0 1 0 -2.8 0M142.24 196.74a1.4 1.4 0 1 0 2.8 0a1.4 1.4 0 1 0 -2.8 0M144.35 196.84a1.4 1.4 0 1 0 2.8 0a1.4 1.4 0 1 0 -2.8 0M146.46 196.94a1.4 1.4 0 1 0 2.8 0a1.4 1.4 0 1 0 -2.8 0M148.57 197.05a1.4 1.4 0 1 0 2.8 0a1.4 1.4 0 1 0 -2.8 0M150.68 197.16a1.4 1.4 0 1 0 2.8 0a1.4 1.4 0 1 0 -2.8 0M152.79 197.28a1.4 1.4 0 1 0 2.8 0a1.4 1.4 0 1 0 -2.8 0M154.9 197.39a1.4 1.4 0 1 0 2.8 0a1.4 1.4 0 1 0 -2.8 0" fill="#fff" stroke="#0000ff" stroke-width="1.0"/><path d="M30.91 221.7 L33.29 221.27 L35.66 220.81 L38.03 220.32 L40.41 219.79 L42.78 219.22 L45.16 218.62 L47.53 217.98 L49.9 215.91 L52.28 215.02 L54.65 214.11 L57.02 213.13 L59.4 211.82 L61.77 209.37 L64.15 204.27 L66.52 189.71 L68.52 167.09 L70.9 167.27 L73.27 171.91 L75.65 176.01 L78.02 179.68 L80.39 182.99 L82.77 185.99 L85.14 188.73 L87.51 191.25 L89.89 193.57 L92.26 195.94 L94.64 198.18 L97.01 200.25 L99.38 202.16 L101.76 203.94 L104.13 205.59 L106.5 207.13 L108.88 208.57 L111.25 209.92 L113.63 211.19 L116 212.37 L118.37 213.49 L120.75 214.54 L123.12 215.52 L125.49 216.45 L127.87 217.33 L130.24 218.16 L132.62 218.94 L134.99 219.67 L137.36 220.37 L139.74 221.02 L142.11 221.64 L144.48 222.23 L146.86 222.78 L149.23 223.3 L151.61 223.79 L153.98 224.25 L156.35 224.69" fill="none" stroke="#15cd6d" stroke-width="0.7"/><path d="M29.41 221.7a1.5 1.5 0 1 0 3 0a1.5 1.5 0 1 0 -3 0M31.79 221.27a1.5 1.5 0 1 0 3 0a1.5 1.5 0 1 0 -3 0M34.16 220.81a1.5 1.5 0 1 0 3 0a1.5 1.5 0 1 0 -3 0M36.53 220.32a1.5 1.5 0 1 0 3 0a1.5 1.5 0 1 0 -3 0M38.91 219.79a1.5 1.5 0 1 0 3 0a1.5 1.5 0 1 0 -3 0M41.28 219.22a1.5 1.5 0 1 0 3 0a1.5 1.5 0 1 0 -3 0M43.66 218.62a1.5 1.5 0 1 0 3 0a1.5 1.5 0 1 0 -3 0M46.03 217.98a1.5 1.5 0 1 0 3 0a1.5 1.5 0 1 0 -3 0M48.4 215.91a1.5 1.5 0 1 0 3 0a1.5 1.5 0 1 0 -3 0M50.78 215.02a1.5 1.5 0 1 0 3 0a1.5 1.5 0 1 0 -3 0M53.15 214.11a1.5 1.5 0 1 0 3 0a1.5 1.5 0 1 0 -3 0M55.52 213.13a1.5 1.5 0 1 0 3 0a1.5 1.5 0 1 0 -3 0M57.9 211.82a1.5 1.5 0 1 0 3 0a1.5 1.5 0 1 0 -3 0M60.27 209.37a1.5 1.5 0 1 0 3 0a1.5 1.5 0 1 0 -3 0M62.65 204.27a1.5 1.5 0 1 0 3 0a1.5 1.5 0 1 0 -3 0M65.02 189.71a1.5 1.5 0 1 0 3 0a1.5 1.5 0 1 0 -3 0M67.02 167.09a1.5 1.5 0 1 0 3 0a1.5 1.5 0 1 0 -3 0M69.4 167.27a1.5 1.5 0 1 0 3 0a1.5 1.5 0 1 0 -3 0M71.77 171.91a1.5 1.5 0 1 0 3 0a1.5 1.5 0 1 0 -3 0M74.15 176.01a1.5 1.5 0 1 0 3 0a1.5 1.5 0 1 0 -3 0M76.52 179.68a1.5 1.5 0 1 0 3 0a1.5 1.5 0 1 0 -3 0M78.89 182.99a1.5 1.5 0 1 0 3 0a1.5 1.5 0 1 0 -3 0M81.27 185.99a1.5 1.5 0 1 0 3 0a1.5 1.5 0 1 0 -3 0M83.64 188.73a1.5 1.5 0 1 0 3 0a1.5 1.5 0 1 0 -3 0M86.01 191.25a1.5 1.5 0 1 0 3 0a1.5 1.5 0 1 0 -3 0M88.39 193.57a1.5 1.5 0 1 0 3 0a1.5 1.5 0 1 0 -3 0M90.76 195.94a1.5 1.5 0 1 0 3 0a1.5 1.5 0 1 0 -3 0M93.14 198.18a1.5 1.5 0 1 0 3 0a1.5 1.5 0 1 0 -3 0M95.51 200.25a1.5 1.5 0 1 0 3 0a1.5 1.5 0 1 0 -3 0M97.88 202.16a1.5 1.5 0 1 0 3 0a1.5 1.5 0 1 0 -3 0M100.26 203.94a1.5 1.5 0 1 0 3 0a1.5 1.5 0 1 0 -3 0M102.63 205.59a1.5 1.5 0 1 0 3 0a1.5 1.5 0 1 0 -3 0M105 207.13a1.5 1.5 0 1 0 3 0a1.5 1.5 0 1 0 -3 0M107.38 208.57a1.5 1.5 0 1 0 3 0a1.5 1.5 0 1 0 -3 0M109.75 209.92a1.5 1.5 0 1 0 3 0a1.5 1.5 0 1 0 -3 0M112.13 211.19a1.5 1.5 0 1 0 3 0a1.5 1.5 0 1 0 -3 0M114.5 212.37a1.5 1.5 0 1 0 3 0a1.5 1.5 0 1 0 -3 0M116.87 213.49a1.5 1.5 0 1 0 3 0a1.5 1.5 0 1 0 -3 0M119.25 214.54a1.5 1.5 0 1 0 3 0a1.5 1.5 0 1 0 -3 0M121.62 215.52a1.5 1.5 0 1 0 3 0a1.5 1.5 0 1 0 -3 0M123.99 216.45a1.5 1.5 0 1 0 3 0a1.5 1.5 0 1 0 -3 0M126.37 217.33a1.5 1.5 0 1 0 3 0a1.5 1.5 0 1 0 -3 0M128.74 218.16a1.5 1.5 0 1 0 3 0a1.5 1.5 0 1 0 -3 0M131.12 218.94a1.5 1.5 0 1 0 3 0a1.5 1.5 0 1 0 -3 0M133.49 219.67a1.5 1.5 0 1 0 3 0a1.5 1.5 0 1 0 -3 0M135.86 220.37a1.5 1.5 0 1 0 3 0a1.5 1.5 0 1 0 -3 0M138.24 221.02a1.5 1.5 0 1 0 3 0a1.5 1.5 0 1 0 -3 0M140.61 221.64a1.5 1.5 0 1 0 3 0a1.5 1.5 0 1 0 -3 0M142.98 222.23a1.5 1.5 0 1 0 3 0a1.5 1.5 0 1 0 -3 0M145.36 222.78a1.5 1.5 0 1 0 3 0a1.5 1.5 0 1 0 -3 0M147.73 223.3a1.5 1.5 0 1 0 3 0a1.5 1.5 0 1 0 -3 0M150.11 223.79a1.5 1.5 0 1 0 3 0a1.5 1.5 0 1 0 -3 0M152.48 224.25a1.5 1.5 0 1 0 3 0a1.5 1.5 0 1 0 -3 0M154.85 224.69a1.5 1.5 0 1 0 3 0a1.5 1.5 0 1 0 -3 0" fill="#fff" stroke="#15cd6d" stroke-width="0.75"/><path d="M28.91 222.04 L31.28 221.64 L33.66 221.2 L36.03 220.74 L38.4 220.24 L40.78 219.7 L43.15 219.13 L45.52 218.53 L47.9 217.88 L50.27 217.19 L52.65 216.45 L55.02 215.67 L57.39 214.85 L59.77 213.96 L62.14 213.03 L64.51 212.04 L66.89 210.98 L69.26 209.87 L71.64 208.68 L74.01 207.42 L76.38 206.08 L78.76 204.65 L81.13 203.14 L83.5 201.53 L85.88 199.81 L88.25 197.98 L90.63 197.42 L93 195.34 L95.37 193.48 L97.75 191.52 L100.12 189.44 L102.49 187.22 L104.87 184.87 L107.24 182.35 L109.62 179.67 L111.99 176.79 L114.36 173.7 L116.74 170.37 L118.43 171.56 L119.8 195.3 L122.17 202.39 L124.54 207.12 L126.92 210.27 L129.29 212.42 L131.67 214.07 L134.04 215.45 L136.41 216.7 L138.79 218.53 L141.16 219.16 L143.53 219.76 L145.91 220.33 L148.28 220.86 L150.66 221.36 L153.03 221.84 L155.4 222.28" fill="none" stroke="#15cd6d" stroke-width="0.7"/><path d="M27.41 222.04a1.5 1.5 0 1 0 3 0a1.5 1.5 0 1 0 -3 0M29.78 221.64a1.5 1.5 0 1 0 3 0a1.5 1.5 0 1 0 -3 0M32.16 221.2a1.5 1.5 0 1 0 3 0a1.5 1.5 0 1 0 -3 0M34.53 220.74a1.5 1.5 0 1 0 3 0a1.5 1.5 0 1 0 -3 0M36.9 220.24a1.5 1.5 0 1 0 3 0a1.5 1.5 0 1 0 -3 0M39.28 219.7a1.5 1.5 0 1 0 3 0a1.5 1.5 0 1 0 -3 0M41.65 219.13a1.5 1.5 0 1 0 3 0a1.5 1.5 0 1 0 -3 0M44.02 218.53a1.5 1.5 0 1 0 3 0a1.5 1.5 0 1 0 -3 0M46.4 217.88a1.5 1.5 0 1 0 3 0a1.5 1.5 0 1 0 -3 0M48.77 217.19a1.5 1.5 0 1 0 3 0a1.5 1.5 0 1 0 -3 0M51.15 216.45a1.5 1.5 0 1 0 3 0a1.5 1.5 0 1 0 -3 0M53.52 215.67a1.5 1.5 0 1 0 3 0a1.5 1.5 0 1 0 -3 0M55.89 214.85a1.5 1.5 0 1 0 3 0a1.5 1.5 0 1 0 -3 0M58.27 213.96a1.5 1.5 0 1 0 3 0a1.5 1.5 0 1 0 -3 0M60.64 213.03a1.5 1.5 0 1 0 3 0a1.5 1.5 0 1 0 -3 0M63.01 212.04a1.5 1.5 0 1 0 3 0a1.5 1.5 0 1 0 -3 0M65.39 210.98a1.5 1.5 0 1 0 3 0a1.5 1.5 0 1 0 -3 0M67.76 209.87a1.5 1.5 0 1 0 3 0a1.5 1.5 0 1 0 -3 0M70.14 208.68a1.5 1.5 0 1 0 3 0a1.5 1.5 0 1 0 -3 0M72.51 207.42a1.5 1.5 0 1 0 3 0a1.5 1.5 0 1 0 -3 0M74.88 206.08a1.5 1.5 0 1 0 3 0a1.5 1.5 0 1 0 -3 0M77.26 204.65a1.5 1.5 0 1 0 3 0a1.5 1.5 0 1 0 -3 0M79.63 203.14a1.5 1.5 0 1 0 3 0a1.5 1.5 0 1 0 -3 0M82 201.53a1.5 1.5 0 1 0 3 0a1.5 1.5 0 1 0 -3 0M84.38 199.81a1.5 1.5 0 1 0 3 0a1.5 1.5 0 1 0 -3 0M86.75 197.98a1.5 1.5 0 1 0 3 0a1.5 1.5 0 1 0 -3 0M89.13 197.42a1.5 1.5 0 1 0 3 0a1.5 1.5 0 1 0 -3 0M91.5 195.34a1.5 1.5 0 1 0 3 0a1.5 1.5 0 1 0 -3 0M93.87 193.48a1.5 1.5 0 1 0 3 0a1.5 1.5 0 1 0 -3 0M96.25 191.52a1.5 1.5 0 1 0 3 0a1.5 1.5 0 1 0 -3 0M98.62 189.44a1.5 1.5 0 1 0 3 0a1.5 1.5 0 1 0 -3 0M100.99 187.22a1.5 1.5 0 1 0 3 0a1.5 1.5 0 1 0 -3 0M103.37 184.87a1.5 1.5 0 1 0 3 0a1.5 1.5 0 1 0 -3 0M105.74 182.35a1.5 1.5 0 1 0 3 0a1.5 1.5 0 1 0 -3 0M108.12 179.67a1.5 1.5 0 1 0 3 0a1.5 1.5 0 1 0 -3 0M110.49 176.79a1.5 1.5 0 1 0 3 0a1.5 1.5 0 1 0 -3 0M112.86 173.7a1.5 1.5 0 1 0 3 0a1.5 1.5 0 1 0 -3 0M115.24 170.37a1.5 1.5 0 1 0 3 0a1.5 1.5 0 1 0 -3 0M116.93 171.56a1.5 1.5 0 1 0 3 0a1.5 1.5 0 1 0 -3 0M118.3 195.3a1.5 1.5 0 1 0 3 0a1.5 1.5 0 1 0 -3 0M120.67 202.39a1.5 1.5 0 1 0 3 0a1.5 1.5 0 1 0 -3 0M123.04 207.12a1.5 1.5 0 1 0 3 0a1.5 1.5 0 1 0 -3 0M125.42 210.27a1.5 1.5 0 1 0 3 0a1.5 1.5 0 1 0 -3 0M127.79 212.42a1.5 1.5 0 1 0 3 0a1.5 1.5 0 1 0 -3 0M130.17 214.07a1.5 1.5 0 1 0 3 0a1.5 1.5 0 1 0 -3 0M132.54 215.45a1.5 1.5 0 1 0 3 0a1.5 1.5 0 1 0 -3 0M134.91 216.7a1.5 1.5 0 1 0 3 0a1.5 1.5 0 1 0 -3 0M137.29 218.53a1.5 1.5 0 1 0 3 0a1.5 1.5 0 1 0 -3 0M139.66 219.16a1.5 1.5 0 1 0 3 0a1.5 1.5 0 1 0 -3 0M142.03 219.76a1.5 1.5 0 1 0 3 0a1.5 1.5 0 1 0 -3 0M144.41 220.33a1.5 1.5 0 1 0 3 0a1.5 1.5 0 1 0 -3 0M146.78 220.86a1.5 1.5 0 1 0 3 0a1.5 1.5 0 1 0 -3 0M149.16 221.36a1.5 1.5 0 1 0 3 0a1.5 1.5 0 1 0 -3 0M151.53 221.84a1.5 1.5 0 1 0 3 0a1.5 1.5 0 1 0 -3 0M153.9 222.28a1.5 1.5 0 1 0 3 0a1.5 1.5 0 1 0 -3 0" fill="#fff" stroke="#15cd6d" stroke-width="0.75"/><path d="M28.64 223.48 L29.41 223.35 L30.17 223.22 L30.93 223.09 L31.69 222.96 L32.46 222.82 L33.22 222.68 L33.98 222.54 L34.74 222.39 L35.51 222.24 L36.27 222.08 L37.03 221.93 L37.79 221.76 L38.56 221.6 L39.32 221.43 L40.08 221.26 L40.84 221.08 L41.61 220.91 L42.37 220.72 L43.13 220.53 L43.89 220.34 L44.66 220.15 L45.42 219.95 L46.18 219.75 L46.94 219.54 L47.71 219.33 L48.47 219.11 L49.23 218.89 L49.99 218.67 L50.76 218.44 L51.52 218.21 L52.28 217.97 L53.04 217.72 L53.81 217.48 L54.57 217.22 L55.33 216.97 L56.09 216.7 L56.86 216.43 L57.62 216.16 L58.38 215.88 L59.14 215.6 L59.9 215.31 L60.67 215.01 L61.43 214.71 L62.19 214.41 L62.95 214.09 L63.72 213.77 L64.48 213.45 L65.24 213.12 L66 212.78 L66.77 212.44 L67.53 212.09 L68.29 211.73 L69.05 211.36 L69.82 210.99 L70.58 210.61 L71.34 210.23 L72.1 209.83 L72.87 209.43 L73.63 209.02 L74.39 208.6 L75.15 208.18 L75.92 207.74 L76.68 207.3 L77.44 206.85 L78.2 206.39 L78.97 205.92 L79.73 205.44 L80.49 204.95 L81.25 204.46 L82.02 203.95 L82.78 203.43 L83.54 202.9 L84.3 202.36 L85.07 201.81 L85.83 201.25 L86.59 200.67 L87.35 200.09 L88.12 199.49 L88.88 198.88 L89.64 198.25 L90.4 197.61 L91.16 196.96 L91.93 196.3 L92.69 195.62 L93.45 194.92 L94.21 194.21 L94.98 193.48 L95.74 192.74 L96.5 191.98 L97.26 191.2 L98.03 190.41 L98.79 189.59 L99.55 188.76 L100.31 187.91 L101.08 187.03 L101.84 186.14 L102.6 185.22 L103.36 184.28 L104.13 183.32 L104.89 182.33 L105.65 181.31 L106.41 180.27 L107.18 179.2 L107.94 178.1 L108.7 176.98 L109.46 175.82 L110.23 174.62 L110.99 173.4 L111.75 172.13 L112.51 170.83 L113.28 169.49 L114.04 168.11 L114.8 166.69 L115.56 165.22 L116.33 163.7 L117.09 162.13 L117.85 160.51 L118.61 158.83 L119.38 157.09" fill="none" stroke="#000" stroke-width="2.0"/><path d="M68.73 153.43 L69.48 155.83 L70.22 158.1 L70.97 160.23 L71.71 162.25 L72.46 164.17 L73.2 165.99 L73.95 167.72 L74.69 169.38 L75.44 170.96 L76.18 172.48 L76.93 173.93 L77.67 175.32 L78.42 176.66 L79.16 177.95 L79.91 179.2 L80.65 180.39 L81.39 181.55 L82.14 182.66 L82.88 183.74 L83.63 184.79 L84.37 185.8 L85.12 186.77 L85.86 187.72 L86.61 188.64 L87.35 189.54 L88.1 190.4 L88.84 191.24 L89.59 192.06 L90.33 192.86 L91.08 193.63 L91.82 194.39 L92.57 195.12 L93.31 195.84 L94.05 196.53 L94.8 197.21 L95.54 197.88 L96.29 198.52 L97.03 199.15 L97.78 199.77 L98.52 200.37 L99.27 200.96 L100.01 201.53 L100.76 202.09 L101.5 202.64 L102.25 203.17 L102.99 203.7 L103.74 204.21 L104.48 204.71 L105.23 205.2 L105.97 205.68 L106.72 206.15 L107.46 206.61 L108.2 207.06 L108.95 207.5 L109.69 207.93 L110.44 208.35 L111.18 208.77 L111.93 209.17 L112.67 209.57 L113.42 209.96 L114.16 210.34 L114.91 210.72 L115.65 211.09 L116.4 211.45 L117.14 211.8 L117.89 212.15 L118.63 212.49 L119.38 212.82 L120.12 213.15 L120.86 213.47 L121.61 213.78 L122.35 214.09 L123.1 214.4 L123.84 214.69 L124.59 214.99 L125.33 215.27 L126.08 215.56 L126.82 215.83 L127.57 216.1 L128.31 216.37 L129.06 216.63 L129.8 216.89 L130.55 217.14 L131.29 217.39 L132.03 217.63 L132.78 217.87 L133.52 218.11 L134.27 218.34 L135.01 218.56 L135.76 218.78 L136.5 219 L137.25 219.22 L137.99 219.43 L138.74 219.63 L139.48 219.84 L140.23 220.04 L140.97 220.23 L141.72 220.42 L142.46 220.61 L143.21 220.8 L143.95 220.98 L144.69 221.16 L145.44 221.33 L146.18 221.51 L146.93 221.68 L147.67 221.84 L148.42 222.01 L149.16 222.17 L149.91 222.32 L150.65 222.48 L151.4 222.63 L152.14 222.78 L152.89 222.93 L153.63 223.07 L154.38 223.21 L155.12 223.35 L155.87 223.48 L156.61 223.62 L157.35 223.75" fill="none" stroke="#ff3ee0" stroke-width="2.0"/><path d="M69.63 160.94 L69.63 211.08" fill="none" stroke="#ff3ee0" stroke-width="1.6" stroke-dasharray="4.5 1.9"/><path d="M117.69 160.94 L117.69 212.05" fill="none" stroke="#000" stroke-width="1.6" stroke-dasharray="4.5 1.9"/></g><g clip-path="url(#cf)"><path d="M203.55 221.84a1.85 1.85 0 1 0 3.7 0a1.85 1.85 0 1 0 -3.7 0M206.3 220.54a1.85 1.85 0 1 0 3.7 0a1.85 1.85 0 1 0 -3.7 0M209.05 219.28a1.85 1.85 0 1 0 3.7 0a1.85 1.85 0 1 0 -3.7 0M211.81 218.05a1.85 1.85 0 1 0 3.7 0a1.85 1.85 0 1 0 -3.7 0M214.56 216.91a1.85 1.85 0 1 0 3.7 0a1.85 1.85 0 1 0 -3.7 0M217.31 215.78a1.85 1.85 0 1 0 3.7 0a1.85 1.85 0 1 0 -3.7 0M220.06 214.52a1.85 1.85 0 1 0 3.7 0a1.85 1.85 0 1 0 -3.7 0M222.82 213.15a1.85 1.85 0 1 0 3.7 0a1.85 1.85 0 1 0 -3.7 0M225.57 211.67a1.85 1.85 0 1 0 3.7 0a1.85 1.85 0 1 0 -3.7 0M228.32 210.03a1.85 1.85 0 1 0 3.7 0a1.85 1.85 0 1 0 -3.7 0M231.07 208.22a1.85 1.85 0 1 0 3.7 0a1.85 1.85 0 1 0 -3.7 0M233.82 206.2a1.85 1.85 0 1 0 3.7 0a1.85 1.85 0 1 0 -3.7 0M236.58 203.58a1.85 1.85 0 1 0 3.7 0a1.85 1.85 0 1 0 -3.7 0M239.33 199.09a1.85 1.85 0 1 0 3.7 0a1.85 1.85 0 1 0 -3.7 0M242.08 194.55a1.85 1.85 0 1 0 3.7 0a1.85 1.85 0 1 0 -3.7 0M244.83 189.19a1.85 1.85 0 1 0 3.7 0a1.85 1.85 0 1 0 -3.7 0M247.58 188.71a1.85 1.85 0 1 0 3.7 0a1.85 1.85 0 1 0 -3.7 0M250.34 188.89a1.85 1.85 0 1 0 3.7 0a1.85 1.85 0 1 0 -3.7 0M253.09 189.8a1.85 1.85 0 1 0 3.7 0a1.85 1.85 0 1 0 -3.7 0M255.84 190.95a1.85 1.85 0 1 0 3.7 0a1.85 1.85 0 1 0 -3.7 0M258.59 192.08a1.85 1.85 0 1 0 3.7 0a1.85 1.85 0 1 0 -3.7 0M261.35 193.16a1.85 1.85 0 1 0 3.7 0a1.85 1.85 0 1 0 -3.7 0M264.1 194.22a1.85 1.85 0 1 0 3.7 0a1.85 1.85 0 1 0 -3.7 0M266.85 195.3a1.85 1.85 0 1 0 3.7 0a1.85 1.85 0 1 0 -3.7 0M269.6 196.4a1.85 1.85 0 1 0 3.7 0a1.85 1.85 0 1 0 -3.7 0M272.35 197.5a1.85 1.85 0 1 0 3.7 0a1.85 1.85 0 1 0 -3.7 0M275.11 198.61a1.85 1.85 0 1 0 3.7 0a1.85 1.85 0 1 0 -3.7 0M277.86 199.73a1.85 1.85 0 1 0 3.7 0a1.85 1.85 0 1 0 -3.7 0M280.61 200.85a1.85 1.85 0 1 0 3.7 0a1.85 1.85 0 1 0 -3.7 0M283.36 201.97a1.85 1.85 0 1 0 3.7 0a1.85 1.85 0 1 0 -3.7 0M286.12 203.1a1.85 1.85 0 1 0 3.7 0a1.85 1.85 0 1 0 -3.7 0M288.87 204.22a1.85 1.85 0 1 0 3.7 0a1.85 1.85 0 1 0 -3.7 0M291.62 205.35a1.85 1.85 0 1 0 3.7 0a1.85 1.85 0 1 0 -3.7 0M294.37 206.47a1.85 1.85 0 1 0 3.7 0a1.85 1.85 0 1 0 -3.7 0M297.12 207.59a1.85 1.85 0 1 0 3.7 0a1.85 1.85 0 1 0 -3.7 0M299.88 208.71a1.85 1.85 0 1 0 3.7 0a1.85 1.85 0 1 0 -3.7 0M302.63 209.83a1.85 1.85 0 1 0 3.7 0a1.85 1.85 0 1 0 -3.7 0M305.38 210.94a1.85 1.85 0 1 0 3.7 0a1.85 1.85 0 1 0 -3.7 0M308.13 212.06a1.85 1.85 0 1 0 3.7 0a1.85 1.85 0 1 0 -3.7 0M310.88 213.18a1.85 1.85 0 1 0 3.7 0a1.85 1.85 0 1 0 -3.7 0M313.64 214.29a1.85 1.85 0 1 0 3.7 0a1.85 1.85 0 1 0 -3.7 0M316.39 215.41a1.85 1.85 0 1 0 3.7 0a1.85 1.85 0 1 0 -3.7 0M319.14 216.53a1.85 1.85 0 1 0 3.7 0a1.85 1.85 0 1 0 -3.7 0M321.89 217.65a1.85 1.85 0 1 0 3.7 0a1.85 1.85 0 1 0 -3.7 0M324.65 218.76a1.85 1.85 0 1 0 3.7 0a1.85 1.85 0 1 0 -3.7 0M327.4 219.88a1.85 1.85 0 1 0 3.7 0a1.85 1.85 0 1 0 -3.7 0M330.15 221a1.85 1.85 0 1 0 3.7 0a1.85 1.85 0 1 0 -3.7 0" fill="#fff" stroke="#15cd6d" stroke-width="0.95"/><path d="M204 196.42a1.4 1.4 0 1 0 2.8 0a1.4 1.4 0 1 0 -2.8 0M206.11 196.36a1.4 1.4 0 1 0 2.8 0a1.4 1.4 0 1 0 -2.8 0M208.22 196.3a1.4 1.4 0 1 0 2.8 0a1.4 1.4 0 1 0 -2.8 0M210.33 196.25a1.4 1.4 0 1 0 2.8 0a1.4 1.4 0 1 0 -2.8 0M212.44 196.19a1.4 1.4 0 1 0 2.8 0a1.4 1.4 0 1 0 -2.8 0M214.55 196.14a1.4 1.4 0 1 0 2.8 0a1.4 1.4 0 1 0 -2.8 0M216.66 196.1a1.4 1.4 0 1 0 2.8 0a1.4 1.4 0 1 0 -2.8 0M218.77 196.05a1.4 1.4 0 1 0 2.8 0a1.4 1.4 0 1 0 -2.8 0M220.88 196.01a1.4 1.4 0 1 0 2.8 0a1.4 1.4 0 1 0 -2.8 0M222.99 195.97a1.4 1.4 0 1 0 2.8 0a1.4 1.4 0 1 0 -2.8 0M225.1 195.93a1.4 1.4 0 1 0 2.8 0a1.4 1.4 0 1 0 -2.8 0M227.21 195.89a1.4 1.4 0 1 0 2.8 0a1.4 1.4 0 1 0 -2.8 0M229.32 195.86a1.4 1.4 0 1 0 2.8 0a1.4 1.4 0 1 0 -2.8 0M231.43 195.83a1.4 1.4 0 1 0 2.8 0a1.4 1.4 0 1 0 -2.8 0M233.54 195.8a1.4 1.4 0 1 0 2.8 0a1.4 1.4 0 1 0 -2.8 0M235.65 195.77a1.4 1.4 0 1 0 2.8 0a1.4 1.4 0 1 0 -2.8 0M237.76 195.75a1.4 1.4 0 1 0 2.8 0a1.4 1.4 0 1 0 -2.8 0M239.87 195.72a1.4 1.4 0 1 0 2.8 0a1.4 1.4 0 1 0 -2.8 0M241.98 195.7a1.4 1.4 0 1 0 2.8 0a1.4 1.4 0 1 0 -2.8 0M244.09 195.68a1.4 1.4 0 1 0 2.8 0a1.4 1.4 0 1 0 -2.8 0M246.2 195.66a1.4 1.4 0 1 0 2.8 0a1.4 1.4 0 1 0 -2.8 0M248.31 195.65a1.4 1.4 0 1 0 2.8 0a1.4 1.4 0 1 0 -2.8 0M250.42 195.63a1.4 1.4 0 1 0 2.8 0a1.4 1.4 0 1 0 -2.8 0M252.53 195.62a1.4 1.4 0 1 0 2.8 0a1.4 1.4 0 1 0 -2.8 0M254.64 195.61a1.4 1.4 0 1 0 2.8 0a1.4 1.4 0 1 0 -2.8 0M256.75 195.6a1.4 1.4 0 1 0 2.8 0a1.4 1.4 0 1 0 -2.8 0M258.86 195.59a1.4 1.4 0 1 0 2.8 0a1.4 1.4 0 1 0 -2.8 0M260.97 195.59a1.4 1.4 0 1 0 2.8 0a1.4 1.4 0 1 0 -2.8 0M263.08 195.58a1.4 1.4 0 1 0 2.8 0a1.4 1.4 0 1 0 -2.8 0M265.19 195.58a1.4 1.4 0 1 0 2.8 0a1.4 1.4 0 1 0 -2.8 0M267.3 195.58a1.4 1.4 0 1 0 2.8 0a1.4 1.4 0 1 0 -2.8 0M269.41 195.58a1.4 1.4 0 1 0 2.8 0a1.4 1.4 0 1 0 -2.8 0M271.52 195.58a1.4 1.4 0 1 0 2.8 0a1.4 1.4 0 1 0 -2.8 0M273.63 195.59a1.4 1.4 0 1 0 2.8 0a1.4 1.4 0 1 0 -2.8 0M275.74 195.6a1.4 1.4 0 1 0 2.8 0a1.4 1.4 0 1 0 -2.8 0M277.85 195.61a1.4 1.4 0 1 0 2.8 0a1.4 1.4 0 1 0 -2.8 0M279.96 195.63a1.4 1.4 0 1 0 2.8 0a1.4 1.4 0 1 0 -2.8 0M282.07 195.65a1.4 1.4 0 1 0 2.8 0a1.4 1.4 0 1 0 -2.8 0M284.18 195.67a1.4 1.4 0 1 0 2.8 0a1.4 1.4 0 1 0 -2.8 0M286.29 195.69a1.4 1.4 0 1 0 2.8 0a1.4 1.4 0 1 0 -2.8 0M288.4 195.71a1.4 1.4 0 1 0 2.8 0a1.4 1.4 0 1 0 -2.8 0M290.51 195.74a1.4 1.4 0 1 0 2.8 0a1.4 1.4 0 1 0 -2.8 0M292.62 195.77a1.4 1.4 0 1 0 2.8 0a1.4 1.4 0 1 0 -2.8 0M294.73 195.8a1.4 1.4 0 1 0 2.8 0a1.4 1.4 0 1 0 -2.8 0M296.84 195.84a1.4 1.4 0 1 0 2.8 0a1.4 1.4 0 1 0 -2.8 0M298.95 195.88a1.4 1.4 0 1 0 2.8 0a1.4 1.4 0 1 0 -2.8 0M301.06 195.92a1.4 1.4 0 1 0 2.8 0a1.4 1.4 0 1 0 -2.8 0M303.17 195.96a1.4 1.4 0 1 0 2.8 0a1.4 1.4 0 1 0 -2.8 0M305.28 196a1.4 1.4 0 1 0 2.8 0a1.4 1.4 0 1 0 -2.8 0M307.39 196.05a1.4 1.4 0 1 0 2.8 0a1.4 1.4 0 1 0 -2.8 0M309.5 196.1a1.4 1.4 0 1 0 2.8 0a1.4 1.4 0 1 0 -2.8 0M311.61 196.15a1.4 1.4 0 1 0 2.8 0a1.4 1.4 0 1 0 -2.8 0M313.72 196.2a1.4 1.4 0 1 0 2.8 0a1.4 1.4 0 1 0 -2.8 0M315.83 196.25a1.4 1.4 0 1 0 2.8 0a1.4 1.4 0 1 0 -2.8 0M317.94 196.31a1.4 1.4 0 1 0 2.8 0a1.4 1.4 0 1 0 -2.8 0M320.05 196.37a1.4 1.4 0 1 0 2.8 0a1.4 1.4 0 1 0 -2.8 0M322.16 196.43a1.4 1.4 0 1 0 2.8 0a1.4 1.4 0 1 0 -2.8 0M324.27 196.5a1.4 1.4 0 1 0 2.8 0a1.4 1.4 0 1 0 -2.8 0M326.38 196.56a1.4 1.4 0 1 0 2.8 0a1.4 1.4 0 1 0 -2.8 0M328.49 196.63a1.4 1.4 0 1 0 2.8 0a1.4 1.4 0 1 0 -2.8 0M330.6 196.7a1.4 1.4 0 1 0 2.8 0a1.4 1.4 0 1 0 -2.8 0" fill="#fff" stroke="#ff0000" stroke-width="1.0"/><path d="M204 198.09a1.4 1.4 0 1 0 2.8 0a1.4 1.4 0 1 0 -2.8 0M206.11 197.9a1.4 1.4 0 1 0 2.8 0a1.4 1.4 0 1 0 -2.8 0M208.22 197.71a1.4 1.4 0 1 0 2.8 0a1.4 1.4 0 1 0 -2.8 0M210.33 197.54a1.4 1.4 0 1 0 2.8 0a1.4 1.4 0 1 0 -2.8 0M212.44 197.36a1.4 1.4 0 1 0 2.8 0a1.4 1.4 0 1 0 -2.8 0M214.55 197.2a1.4 1.4 0 1 0 2.8 0a1.4 1.4 0 1 0 -2.8 0M216.66 197.04a1.4 1.4 0 1 0 2.8 0a1.4 1.4 0 1 0 -2.8 0M218.77 196.88a1.4 1.4 0 1 0 2.8 0a1.4 1.4 0 1 0 -2.8 0M220.88 196.74a1.4 1.4 0 1 0 2.8 0a1.4 1.4 0 1 0 -2.8 0M222.99 196.6a1.4 1.4 0 1 0 2.8 0a1.4 1.4 0 1 0 -2.8 0M225.1 196.46a1.4 1.4 0 1 0 2.8 0a1.4 1.4 0 1 0 -2.8 0M227.21 196.34a1.4 1.4 0 1 0 2.8 0a1.4 1.4 0 1 0 -2.8 0M229.32 196.22a1.4 1.4 0 1 0 2.8 0a1.4 1.4 0 1 0 -2.8 0M231.43 196.1a1.4 1.4 0 1 0 2.8 0a1.4 1.4 0 1 0 -2.8 0M233.54 195.99a1.4 1.4 0 1 0 2.8 0a1.4 1.4 0 1 0 -2.8 0M235.65 195.89a1.4 1.4 0 1 0 2.8 0a1.4 1.4 0 1 0 -2.8 0M237.76 195.8a1.4 1.4 0 1 0 2.8 0a1.4 1.4 0 1 0 -2.8 0M239.87 195.71a1.4 1.4 0 1 0 2.8 0a1.4 1.4 0 1 0 -2.8 0M241.98 195.63a1.4 1.4 0 1 0 2.8 0a1.4 1.4 0 1 0 -2.8 0M244.09 195.55a1.4 1.4 0 1 0 2.8 0a1.4 1.4 0 1 0 -2.8 0M246.2 195.49a1.4 1.4 0 1 0 2.8 0a1.4 1.4 0 1 0 -2.8 0M248.31 195.42a1.4 1.4 0 1 0 2.8 0a1.4 1.4 0 1 0 -2.8 0M250.42 195.37a1.4 1.4 0 1 0 2.8 0a1.4 1.4 0 1 0 -2.8 0M252.53 195.32a1.4 1.4 0 1 0 2.8 0a1.4 1.4 0 1 0 -2.8 0M254.64 195.28a1.4 1.4 0 1 0 2.8 0a1.4 1.4 0 1 0 -2.8 0M256.75 195.24a1.4 1.4 0 1 0 2.8 0a1.4 1.4 0 1 0 -2.8 0M258.86 195.21a1.4 1.4 0 1 0 2.8 0a1.4 1.4 0 1 0 -2.8 0M260.97 195.19a1.4 1.4 0 1 0 2.8 0a1.4 1.4 0 1 0 -2.8 0M263.08 195.17a1.4 1.4 0 1 0 2.8 0a1.4 1.4 0 1 0 -2.8 0M265.19 195.16a1.4 1.4 0 1 0 2.8 0a1.4 1.4 0 1 0 -2.8 0M267.3 195.16a1.4 1.4 0 1 0 2.8 0a1.4 1.4 0 1 0 -2.8 0M269.41 195.16a1.4 1.4 0 1 0 2.8 0a1.4 1.4 0 1 0 -2.8 0M271.52 195.17a1.4 1.4 0 1 0 2.8 0a1.4 1.4 0 1 0 -2.8 0M273.63 195.19a1.4 1.4 0 1 0 2.8 0a1.4 1.4 0 1 0 -2.8 0M275.74 195.21a1.4 1.4 0 1 0 2.8 0a1.4 1.4 0 1 0 -2.8 0M277.85 195.24a1.4 1.4 0 1 0 2.8 0a1.4 1.4 0 1 0 -2.8 0M279.96 195.28a1.4 1.4 0 1 0 2.8 0a1.4 1.4 0 1 0 -2.8 0M282.07 195.32a1.4 1.4 0 1 0 2.8 0a1.4 1.4 0 1 0 -2.8 0M284.18 195.37a1.4 1.4 0 1 0 2.8 0a1.4 1.4 0 1 0 -2.8 0M286.29 195.42a1.4 1.4 0 1 0 2.8 0a1.4 1.4 0 1 0 -2.8 0M288.4 195.49a1.4 1.4 0 1 0 2.8 0a1.4 1.4 0 1 0 -2.8 0M290.51 195.55a1.4 1.4 0 1 0 2.8 0a1.4 1.4 0 1 0 -2.8 0M292.62 195.63a1.4 1.4 0 1 0 2.8 0a1.4 1.4 0 1 0 -2.8 0M294.73 195.71a1.4 1.4 0 1 0 2.8 0a1.4 1.4 0 1 0 -2.8 0M296.84 195.8a1.4 1.4 0 1 0 2.8 0a1.4 1.4 0 1 0 -2.8 0M298.95 195.89a1.4 1.4 0 1 0 2.8 0a1.4 1.4 0 1 0 -2.8 0M301.06 195.99a1.4 1.4 0 1 0 2.8 0a1.4 1.4 0 1 0 -2.8 0M303.17 196.1a1.4 1.4 0 1 0 2.8 0a1.4 1.4 0 1 0 -2.8 0M305.28 196.22a1.4 1.4 0 1 0 2.8 0a1.4 1.4 0 1 0 -2.8 0M307.39 196.34a1.4 1.4 0 1 0 2.8 0a1.4 1.4 0 1 0 -2.8 0M309.5 196.46a1.4 1.4 0 1 0 2.8 0a1.4 1.4 0 1 0 -2.8 0M311.61 196.6a1.4 1.4 0 1 0 2.8 0a1.4 1.4 0 1 0 -2.8 0M313.72 196.74a1.4 1.4 0 1 0 2.8 0a1.4 1.4 0 1 0 -2.8 0M315.83 196.88a1.4 1.4 0 1 0 2.8 0a1.4 1.4 0 1 0 -2.8 0M317.94 197.04a1.4 1.4 0 1 0 2.8 0a1.4 1.4 0 1 0 -2.8 0M320.05 197.2a1.4 1.4 0 1 0 2.8 0a1.4 1.4 0 1 0 -2.8 0M322.16 197.36a1.4 1.4 0 1 0 2.8 0a1.4 1.4 0 1 0 -2.8 0M324.27 197.54a1.4 1.4 0 1 0 2.8 0a1.4 1.4 0 1 0 -2.8 0M326.38 197.71a1.4 1.4 0 1 0 2.8 0a1.4 1.4 0 1 0 -2.8 0M328.49 197.9a1.4 1.4 0 1 0 2.8 0a1.4 1.4 0 1 0 -2.8 0M330.6 198.09a1.4 1.4 0 1 0 2.8 0a1.4 1.4 0 1 0 -2.8 0" fill="#fff" stroke="#0000ff" stroke-width="1.0"/><path d="M203.55 223.51a1.85 1.85 0 1 0 3.7 0a1.85 1.85 0 1 0 -3.7 0M206.3 222.27a1.85 1.85 0 1 0 3.7 0a1.85 1.85 0 1 0 -3.7 0M209.05 221.03a1.85 1.85 0 1 0 3.7 0a1.85 1.85 0 1 0 -3.7 0M211.81 219.8a1.85 1.85 0 1 0 3.7 0a1.85 1.85 0 1 0 -3.7 0M214.56 218.56a1.85 1.85 0 1 0 3.7 0a1.85 1.85 0 1 0 -3.7 0M217.31 217.32a1.85 1.85 0 1 0 3.7 0a1.85 1.85 0 1 0 -3.7 0M220.06 216.08a1.85 1.85 0 1 0 3.7 0a1.85 1.85 0 1 0 -3.7 0M222.82 214.84a1.85 1.85 0 1 0 3.7 0a1.85 1.85 0 1 0 -3.7 0M225.57 213.6a1.85 1.85 0 1 0 3.7 0a1.85 1.85 0 1 0 -3.7 0M228.32 212.36a1.85 1.85 0 1 0 3.7 0a1.85 1.85 0 1 0 -3.7 0M231.07 211.12a1.85 1.85 0 1 0 3.7 0a1.85 1.85 0 1 0 -3.7 0M233.82 209.89a1.85 1.85 0 1 0 3.7 0a1.85 1.85 0 1 0 -3.7 0M236.58 208.65a1.85 1.85 0 1 0 3.7 0a1.85 1.85 0 1 0 -3.7 0M239.33 207.41a1.85 1.85 0 1 0 3.7 0a1.85 1.85 0 1 0 -3.7 0M242.08 206.18a1.85 1.85 0 1 0 3.7 0a1.85 1.85 0 1 0 -3.7 0M244.83 204.95a1.85 1.85 0 1 0 3.7 0a1.85 1.85 0 1 0 -3.7 0M247.58 203.72a1.85 1.85 0 1 0 3.7 0a1.85 1.85 0 1 0 -3.7 0M250.34 202.49a1.85 1.85 0 1 0 3.7 0a1.85 1.85 0 1 0 -3.7 0M253.09 201.26a1.85 1.85 0 1 0 3.7 0a1.85 1.85 0 1 0 -3.7 0M255.84 200.03a1.85 1.85 0 1 0 3.7 0a1.85 1.85 0 1 0 -3.7 0M258.59 198.78a1.85 1.85 0 1 0 3.7 0a1.85 1.85 0 1 0 -3.7 0M261.35 197.54a1.85 1.85 0 1 0 3.7 0a1.85 1.85 0 1 0 -3.7 0M264.1 196.28a1.85 1.85 0 1 0 3.7 0a1.85 1.85 0 1 0 -3.7 0M266.85 195.02a1.85 1.85 0 1 0 3.7 0a1.85 1.85 0 1 0 -3.7 0M269.6 193.71a1.85 1.85 0 1 0 3.7 0a1.85 1.85 0 1 0 -3.7 0M272.35 192.36a1.85 1.85 0 1 0 3.7 0a1.85 1.85 0 1 0 -3.7 0M275.11 191.05a1.85 1.85 0 1 0 3.7 0a1.85 1.85 0 1 0 -3.7 0M277.86 189.86a1.85 1.85 0 1 0 3.7 0a1.85 1.85 0 1 0 -3.7 0M280.61 188.83a1.85 1.85 0 1 0 3.7 0a1.85 1.85 0 1 0 -3.7 0M283.36 188.15a1.85 1.85 0 1 0 3.7 0a1.85 1.85 0 1 0 -3.7 0M286.12 187.8a1.85 1.85 0 1 0 3.7 0a1.85 1.85 0 1 0 -3.7 0M288.87 189.23a1.85 1.85 0 1 0 3.7 0a1.85 1.85 0 1 0 -3.7 0M291.62 194.94a1.85 1.85 0 1 0 3.7 0a1.85 1.85 0 1 0 -3.7 0M294.37 200.55a1.85 1.85 0 1 0 3.7 0a1.85 1.85 0 1 0 -3.7 0M297.12 204.07a1.85 1.85 0 1 0 3.7 0a1.85 1.85 0 1 0 -3.7 0M299.88 206.76a1.85 1.85 0 1 0 3.7 0a1.85 1.85 0 1 0 -3.7 0M302.63 208.9a1.85 1.85 0 1 0 3.7 0a1.85 1.85 0 1 0 -3.7 0M305.38 210.64a1.85 1.85 0 1 0 3.7 0a1.85 1.85 0 1 0 -3.7 0M308.13 212.12a1.85 1.85 0 1 0 3.7 0a1.85 1.85 0 1 0 -3.7 0M310.88 213.39a1.85 1.85 0 1 0 3.7 0a1.85 1.85 0 1 0 -3.7 0M313.64 214.48a1.85 1.85 0 1 0 3.7 0a1.85 1.85 0 1 0 -3.7 0M316.39 215.37a1.85 1.85 0 1 0 3.7 0a1.85 1.85 0 1 0 -3.7 0M319.14 216.23a1.85 1.85 0 1 0 3.7 0a1.85 1.85 0 1 0 -3.7 0M321.89 217.22a1.85 1.85 0 1 0 3.7 0a1.85 1.85 0 1 0 -3.7 0M324.65 218.38a1.85 1.85 0 1 0 3.7 0a1.85 1.85 0 1 0 -3.7 0M327.4 219.64a1.85 1.85 0 1 0 3.7 0a1.85 1.85 0 1 0 -3.7 0M330.15 221a1.85 1.85 0 1 0 3.7 0a1.85 1.85 0 1 0 -3.7 0" fill="#fff" stroke="#15cd6d" stroke-width="0.95"/><path d="M266.2 191.3L258.57 187.15" stroke="#111" stroke-width="0.9"/><path d="M252.6 183.9L259.77 184.95L257.38 189.35Z" fill="#111"/><path d="M224.1 221.5L248.66 210.9" stroke="#111" stroke-width="0.9"/><path d="M254.9 208.2L249.65 213.19L247.67 208.6Z" fill="#111"/><path d="M290.7 178.3L294.16 185.22" stroke="#111" stroke-width="0.9"/><path d="M297.2 191.3L291.92 186.34L296.4 184.1Z" fill="#111"/><path d="M325.3 224.5L308.21 218.46" stroke="#111" stroke-width="0.9"/><path d="M301.8 216.2L309.04 216.11L307.38 220.82Z" fill="#111"/><text font-family="Liberation Sans, sans-serif" font-size="11.6" fill="#111" stroke="#111" stroke-width="0.25" x="257.6" y="183.4">1</text><text font-family="Liberation Sans, sans-serif" font-size="11.6" fill="#111" stroke="#111" stroke-width="0.25" x="239.1" y="224.7">2</text><text font-family="Liberation Sans, sans-serif" font-size="11.6" fill="#111" stroke="#111" stroke-width="0.25" x="296.9" y="183.2">3</text><text font-family="Liberation Sans, sans-serif" font-size="11.6" fill="#111" stroke="#111" stroke-width="0.25" x="319.9" y="216.4">4</text></g><g clip-path="url(#cg)"><path d="M379.1 195.56a1.4 1.4 0 1 0 2.8 0a1.4 1.4 0 1 0 -2.8 0M381.21 195.49a1.4 1.4 0 1 0 2.8 0a1.4 1.4 0 1 0 -2.8 0M383.32 195.43a1.4 1.4 0 1 0 2.8 0a1.4 1.4 0 1 0 -2.8 0M385.43 195.36a1.4 1.4 0 1 0 2.8 0a1.4 1.4 0 1 0 -2.8 0M387.54 195.29a1.4 1.4 0 1 0 2.8 0a1.4 1.4 0 1 0 -2.8 0M389.65 195.21a1.4 1.4 0 1 0 2.8 0a1.4 1.4 0 1 0 -2.8 0M391.76 195.14a1.4 1.4 0 1 0 2.8 0a1.4 1.4 0 1 0 -2.8 0M393.87 195.07a1.4 1.4 0 1 0 2.8 0a1.4 1.4 0 1 0 -2.8 0M395.98 195a1.4 1.4 0 1 0 2.8 0a1.4 1.4 0 1 0 -2.8 0M398.09 194.92a1.4 1.4 0 1 0 2.8 0a1.4 1.4 0 1 0 -2.8 0M400.2 194.85a1.4 1.4 0 1 0 2.8 0a1.4 1.4 0 1 0 -2.8 0M402.31 194.77a1.4 1.4 0 1 0 2.8 0a1.4 1.4 0 1 0 -2.8 0M404.42 194.7a1.4 1.4 0 1 0 2.8 0a1.4 1.4 0 1 0 -2.8 0M406.53 194.62a1.4 1.4 0 1 0 2.8 0a1.4 1.4 0 1 0 -2.8 0M408.64 194.54a1.4 1.4 0 1 0 2.8 0a1.4 1.4 0 1 0 -2.8 0M410.75 194.45a1.4 1.4 0 1 0 2.8 0a1.4 1.4 0 1 0 -2.8 0M412.86 194.35a1.4 1.4 0 1 0 2.8 0a1.4 1.4 0 1 0 -2.8 0M414.97 194.25a1.4 1.4 0 1 0 2.8 0a1.4 1.4 0 1 0 -2.8 0M417.08 194.14a1.4 1.4 0 1 0 2.8 0a1.4 1.4 0 1 0 -2.8 0M419.19 194.03a1.4 1.4 0 1 0 2.8 0a1.4 1.4 0 1 0 -2.8 0M421.3 193.92a1.4 1.4 0 1 0 2.8 0a1.4 1.4 0 1 0 -2.8 0M423.41 193.81a1.4 1.4 0 1 0 2.8 0a1.4 1.4 0 1 0 -2.8 0M425.52 193.7a1.4 1.4 0 1 0 2.8 0a1.4 1.4 0 1 0 -2.8 0M427.63 193.6a1.4 1.4 0 1 0 2.8 0a1.4 1.4 0 1 0 -2.8 0M429.74 193.51a1.4 1.4 0 1 0 2.8 0a1.4 1.4 0 1 0 -2.8 0M431.85 193.42a1.4 1.4 0 1 0 2.8 0a1.4 1.4 0 1 0 -2.8 0M433.96 193.35a1.4 1.4 0 1 0 2.8 0a1.4 1.4 0 1 0 -2.8 0M436.07 193.29a1.4 1.4 0 1 0 2.8 0a1.4 1.4 0 1 0 -2.8 0M438.18 193.24a1.4 1.4 0 1 0 2.8 0a1.4 1.4 0 1 0 -2.8 0M440.29 193.21a1.4 1.4 0 1 0 2.8 0a1.4 1.4 0 1 0 -2.8 0M442.4 193.2a1.4 1.4 0 1 0 2.8 0a1.4 1.4 0 1 0 -2.8 0M444.51 193.21a1.4 1.4 0 1 0 2.8 0a1.4 1.4 0 1 0 -2.8 0M446.62 193.24a1.4 1.4 0 1 0 2.8 0a1.4 1.4 0 1 0 -2.8 0M448.73 193.29a1.4 1.4 0 1 0 2.8 0a1.4 1.4 0 1 0 -2.8 0M450.84 193.35a1.4 1.4 0 1 0 2.8 0a1.4 1.4 0 1 0 -2.8 0M452.95 193.42a1.4 1.4 0 1 0 2.8 0a1.4 1.4 0 1 0 -2.8 0M455.06 193.51a1.4 1.4 0 1 0 2.8 0a1.4 1.4 0 1 0 -2.8 0M457.17 193.6a1.4 1.4 0 1 0 2.8 0a1.4 1.4 0 1 0 -2.8 0M459.28 193.7a1.4 1.4 0 1 0 2.8 0a1.4 1.4 0 1 0 -2.8 0M461.39 193.81a1.4 1.4 0 1 0 2.8 0a1.4 1.4 0 1 0 -2.8 0M463.5 193.92a1.4 1.4 0 1 0 2.8 0a1.4 1.4 0 1 0 -2.8 0M465.61 194.03a1.4 1.4 0 1 0 2.8 0a1.4 1.4 0 1 0 -2.8 0M467.72 194.14a1.4 1.4 0 1 0 2.8 0a1.4 1.4 0 1 0 -2.8 0M469.83 194.25a1.4 1.4 0 1 0 2.8 0a1.4 1.4 0 1 0 -2.8 0M471.94 194.35a1.4 1.4 0 1 0 2.8 0a1.4 1.4 0 1 0 -2.8 0M474.05 194.45a1.4 1.4 0 1 0 2.8 0a1.4 1.4 0 1 0 -2.8 0M476.16 194.54a1.4 1.4 0 1 0 2.8 0a1.4 1.4 0 1 0 -2.8 0M478.27 194.62a1.4 1.4 0 1 0 2.8 0a1.4 1.4 0 1 0 -2.8 0M480.38 194.7a1.4 1.4 0 1 0 2.8 0a1.4 1.4 0 1 0 -2.8 0M482.49 194.77a1.4 1.4 0 1 0 2.8 0a1.4 1.4 0 1 0 -2.8 0M484.6 194.85a1.4 1.4 0 1 0 2.8 0a1.4 1.4 0 1 0 -2.8 0M486.71 194.92a1.4 1.4 0 1 0 2.8 0a1.4 1.4 0 1 0 -2.8 0M488.82 195a1.4 1.4 0 1 0 2.8 0a1.4 1.4 0 1 0 -2.8 0M490.93 195.07a1.4 1.4 0 1 0 2.8 0a1.4 1.4 0 1 0 -2.8 0M493.04 195.14a1.4 1.4 0 1 0 2.8 0a1.4 1.4 0 1 0 -2.8 0M495.15 195.21a1.4 1.4 0 1 0 2.8 0a1.4 1.4 0 1 0 -2.8 0M497.26 195.29a1.4 1.4 0 1 0 2.8 0a1.4 1.4 0 1 0 -2.8 0M499.37 195.36a1.4 1.4 0 1 0 2.8 0a1.4 1.4 0 1 0 -2.8 0M501.48 195.43a1.4 1.4 0 1 0 2.8 0a1.4 1.4 0 1 0 -2.8 0M503.59 195.49a1.4 1.4 0 1 0 2.8 0a1.4 1.4 0 1 0 -2.8 0M505.7 195.56a1.4 1.4 0 1 0 2.8 0a1.4 1.4 0 1 0 -2.8 0" fill="#fff" stroke="#ff0000" stroke-width="1.0"/><path d="M379.1 196.26a1.4 1.4 0 1 0 2.8 0a1.4 1.4 0 1 0 -2.8 0M381.21 196.19a1.4 1.4 0 1 0 2.8 0a1.4 1.4 0 1 0 -2.8 0M383.32 196.12a1.4 1.4 0 1 0 2.8 0a1.4 1.4 0 1 0 -2.8 0M385.43 196.05a1.4 1.4 0 1 0 2.8 0a1.4 1.4 0 1 0 -2.8 0M387.54 195.98a1.4 1.4 0 1 0 2.8 0a1.4 1.4 0 1 0 -2.8 0M389.65 195.91a1.4 1.4 0 1 0 2.8 0a1.4 1.4 0 1 0 -2.8 0M391.76 195.84a1.4 1.4 0 1 0 2.8 0a1.4 1.4 0 1 0 -2.8 0M393.87 195.77a1.4 1.4 0 1 0 2.8 0a1.4 1.4 0 1 0 -2.8 0M395.98 195.7a1.4 1.4 0 1 0 2.8 0a1.4 1.4 0 1 0 -2.8 0M398.09 195.62a1.4 1.4 0 1 0 2.8 0a1.4 1.4 0 1 0 -2.8 0M400.2 195.55a1.4 1.4 0 1 0 2.8 0a1.4 1.4 0 1 0 -2.8 0M402.31 195.47a1.4 1.4 0 1 0 2.8 0a1.4 1.4 0 1 0 -2.8 0M404.42 195.4a1.4 1.4 0 1 0 2.8 0a1.4 1.4 0 1 0 -2.8 0M406.53 195.32a1.4 1.4 0 1 0 2.8 0a1.4 1.4 0 1 0 -2.8 0M408.64 195.24a1.4 1.4 0 1 0 2.8 0a1.4 1.4 0 1 0 -2.8 0M410.75 195.15a1.4 1.4 0 1 0 2.8 0a1.4 1.4 0 1 0 -2.8 0M412.86 195.05a1.4 1.4 0 1 0 2.8 0a1.4 1.4 0 1 0 -2.8 0M414.97 194.95a1.4 1.4 0 1 0 2.8 0a1.4 1.4 0 1 0 -2.8 0M417.08 194.84a1.4 1.4 0 1 0 2.8 0a1.4 1.4 0 1 0 -2.8 0M419.19 194.73a1.4 1.4 0 1 0 2.8 0a1.4 1.4 0 1 0 -2.8 0M421.3 194.62a1.4 1.4 0 1 0 2.8 0a1.4 1.4 0 1 0 -2.8 0M423.41 194.51a1.4 1.4 0 1 0 2.8 0a1.4 1.4 0 1 0 -2.8 0M425.52 194.4a1.4 1.4 0 1 0 2.8 0a1.4 1.4 0 1 0 -2.8 0M427.63 194.3a1.4 1.4 0 1 0 2.8 0a1.4 1.4 0 1 0 -2.8 0M429.74 194.21a1.4 1.4 0 1 0 2.8 0a1.4 1.4 0 1 0 -2.8 0M431.85 194.12a1.4 1.4 0 1 0 2.8 0a1.4 1.4 0 1 0 -2.8 0M433.96 194.05a1.4 1.4 0 1 0 2.8 0a1.4 1.4 0 1 0 -2.8 0M436.07 193.99a1.4 1.4 0 1 0 2.8 0a1.4 1.4 0 1 0 -2.8 0M438.18 193.94a1.4 1.4 0 1 0 2.8 0a1.4 1.4 0 1 0 -2.8 0M440.29 193.91a1.4 1.4 0 1 0 2.8 0a1.4 1.4 0 1 0 -2.8 0M442.4 193.9a1.4 1.4 0 1 0 2.8 0a1.4 1.4 0 1 0 -2.8 0M444.51 193.91a1.4 1.4 0 1 0 2.8 0a1.4 1.4 0 1 0 -2.8 0M446.62 193.94a1.4 1.4 0 1 0 2.8 0a1.4 1.4 0 1 0 -2.8 0M448.73 193.99a1.4 1.4 0 1 0 2.8 0a1.4 1.4 0 1 0 -2.8 0M450.84 194.05a1.4 1.4 0 1 0 2.8 0a1.4 1.4 0 1 0 -2.8 0M452.95 194.12a1.4 1.4 0 1 0 2.8 0a1.4 1.4 0 1 0 -2.8 0M455.06 194.21a1.4 1.4 0 1 0 2.8 0a1.4 1.4 0 1 0 -2.8 0M457.17 194.3a1.4 1.4 0 1 0 2.8 0a1.4 1.4 0 1 0 -2.8 0M459.28 194.4a1.4 1.4 0 1 0 2.8 0a1.4 1.4 0 1 0 -2.8 0M461.39 194.51a1.4 1.4 0 1 0 2.8 0a1.4 1.4 0 1 0 -2.8 0M463.5 194.62a1.4 1.4 0 1 0 2.8 0a1.4 1.4 0 1 0 -2.8 0M465.61 194.73a1.4 1.4 0 1 0 2.8 0a1.4 1.4 0 1 0 -2.8 0M467.72 194.84a1.4 1.4 0 1 0 2.8 0a1.4 1.4 0 1 0 -2.8 0M469.83 194.95a1.4 1.4 0 1 0 2.8 0a1.4 1.4 0 1 0 -2.8 0M471.94 195.05a1.4 1.4 0 1 0 2.8 0a1.4 1.4 0 1 0 -2.8 0M474.05 195.15a1.4 1.4 0 1 0 2.8 0a1.4 1.4 0 1 0 -2.8 0M476.16 195.24a1.4 1.4 0 1 0 2.8 0a1.4 1.4 0 1 0 -2.8 0M478.27 195.32a1.4 1.4 0 1 0 2.8 0a1.4 1.4 0 1 0 -2.8 0M480.38 195.4a1.4 1.4 0 1 0 2.8 0a1.4 1.4 0 1 0 -2.8 0M482.49 195.47a1.4 1.4 0 1 0 2.8 0a1.4 1.4 0 1 0 -2.8 0M484.6 195.55a1.4 1.4 0 1 0 2.8 0a1.4 1.4 0 1 0 -2.8 0M486.71 195.62a1.4 1.4 0 1 0 2.8 0a1.4 1.4 0 1 0 -2.8 0M488.82 195.7a1.4 1.4 0 1 0 2.8 0a1.4 1.4 0 1 0 -2.8 0M490.93 195.77a1.4 1.4 0 1 0 2.8 0a1.4 1.4 0 1 0 -2.8 0M493.04 195.84a1.4 1.4 0 1 0 2.8 0a1.4 1.4 0 1 0 -2.8 0M495.15 195.91a1.4 1.4 0 1 0 2.8 0a1.4 1.4 0 1 0 -2.8 0M497.26 195.98a1.4 1.4 0 1 0 2.8 0a1.4 1.4 0 1 0 -2.8 0M499.37 196.05a1.4 1.4 0 1 0 2.8 0a1.4 1.4 0 1 0 -2.8 0M501.48 196.12a1.4 1.4 0 1 0 2.8 0a1.4 1.4 0 1 0 -2.8 0M503.59 196.19a1.4 1.4 0 1 0 2.8 0a1.4 1.4 0 1 0 -2.8 0M505.7 196.26a1.4 1.4 0 1 0 2.8 0a1.4 1.4 0 1 0 -2.8 0" fill="#fff" stroke="#0000ff" stroke-width="1.0"/><path d="M379.1 197.52a1.4 1.4 0 1 0 2.8 0a1.4 1.4 0 1 0 -2.8 0M381.21 197.45a1.4 1.4 0 1 0 2.8 0a1.4 1.4 0 1 0 -2.8 0M383.32 197.38a1.4 1.4 0 1 0 2.8 0a1.4 1.4 0 1 0 -2.8 0M385.43 197.31a1.4 1.4 0 1 0 2.8 0a1.4 1.4 0 1 0 -2.8 0M387.54 197.24a1.4 1.4 0 1 0 2.8 0a1.4 1.4 0 1 0 -2.8 0M389.65 197.17a1.4 1.4 0 1 0 2.8 0a1.4 1.4 0 1 0 -2.8 0M391.76 197.1a1.4 1.4 0 1 0 2.8 0a1.4 1.4 0 1 0 -2.8 0M393.87 197.03a1.4 1.4 0 1 0 2.8 0a1.4 1.4 0 1 0 -2.8 0M395.98 196.95a1.4 1.4 0 1 0 2.8 0a1.4 1.4 0 1 0 -2.8 0M398.09 196.88a1.4 1.4 0 1 0 2.8 0a1.4 1.4 0 1 0 -2.8 0M400.2 196.8a1.4 1.4 0 1 0 2.8 0a1.4 1.4 0 1 0 -2.8 0M402.31 196.73a1.4 1.4 0 1 0 2.8 0a1.4 1.4 0 1 0 -2.8 0M404.42 196.65a1.4 1.4 0 1 0 2.8 0a1.4 1.4 0 1 0 -2.8 0M406.53 196.58a1.4 1.4 0 1 0 2.8 0a1.4 1.4 0 1 0 -2.8 0M408.64 196.5a1.4 1.4 0 1 0 2.8 0a1.4 1.4 0 1 0 -2.8 0M410.75 196.41a1.4 1.4 0 1 0 2.8 0a1.4 1.4 0 1 0 -2.8 0M412.86 196.31a1.4 1.4 0 1 0 2.8 0a1.4 1.4 0 1 0 -2.8 0M414.97 196.2a1.4 1.4 0 1 0 2.8 0a1.4 1.4 0 1 0 -2.8 0M417.08 196.09a1.4 1.4 0 1 0 2.8 0a1.4 1.4 0 1 0 -2.8 0M419.19 195.98a1.4 1.4 0 1 0 2.8 0a1.4 1.4 0 1 0 -2.8 0M421.3 195.87a1.4 1.4 0 1 0 2.8 0a1.4 1.4 0 1 0 -2.8 0M423.41 195.76a1.4 1.4 0 1 0 2.8 0a1.4 1.4 0 1 0 -2.8 0M425.52 195.66a1.4 1.4 0 1 0 2.8 0a1.4 1.4 0 1 0 -2.8 0M427.63 195.56a1.4 1.4 0 1 0 2.8 0a1.4 1.4 0 1 0 -2.8 0M429.74 195.46a1.4 1.4 0 1 0 2.8 0a1.4 1.4 0 1 0 -2.8 0M431.85 195.38a1.4 1.4 0 1 0 2.8 0a1.4 1.4 0 1 0 -2.8 0M433.96 195.3a1.4 1.4 0 1 0 2.8 0a1.4 1.4 0 1 0 -2.8 0M436.07 195.24a1.4 1.4 0 1 0 2.8 0a1.4 1.4 0 1 0 -2.8 0M438.18 195.2a1.4 1.4 0 1 0 2.8 0a1.4 1.4 0 1 0 -2.8 0M440.29 195.17a1.4 1.4 0 1 0 2.8 0a1.4 1.4 0 1 0 -2.8 0M442.4 195.16a1.4 1.4 0 1 0 2.8 0a1.4 1.4 0 1 0 -2.8 0M444.51 195.17a1.4 1.4 0 1 0 2.8 0a1.4 1.4 0 1 0 -2.8 0M446.62 195.2a1.4 1.4 0 1 0 2.8 0a1.4 1.4 0 1 0 -2.8 0M448.73 195.24a1.4 1.4 0 1 0 2.8 0a1.4 1.4 0 1 0 -2.8 0M450.84 195.3a1.4 1.4 0 1 0 2.8 0a1.4 1.4 0 1 0 -2.8 0M452.95 195.38a1.4 1.4 0 1 0 2.8 0a1.4 1.4 0 1 0 -2.8 0M455.06 195.46a1.4 1.4 0 1 0 2.8 0a1.4 1.4 0 1 0 -2.8 0M457.17 195.56a1.4 1.4 0 1 0 2.8 0a1.4 1.4 0 1 0 -2.8 0M459.28 195.66a1.4 1.4 0 1 0 2.8 0a1.4 1.4 0 1 0 -2.8 0M461.39 195.76a1.4 1.4 0 1 0 2.8 0a1.4 1.4 0 1 0 -2.8 0M463.5 195.87a1.4 1.4 0 1 0 2.8 0a1.4 1.4 0 1 0 -2.8 0M465.61 195.98a1.4 1.4 0 1 0 2.8 0a1.4 1.4 0 1 0 -2.8 0M467.72 196.09a1.4 1.4 0 1 0 2.8 0a1.4 1.4 0 1 0 -2.8 0M469.83 196.2a1.4 1.4 0 1 0 2.8 0a1.4 1.4 0 1 0 -2.8 0M471.94 196.31a1.4 1.4 0 1 0 2.8 0a1.4 1.4 0 1 0 -2.8 0M474.05 196.41a1.4 1.4 0 1 0 2.8 0a1.4 1.4 0 1 0 -2.8 0M476.16 196.5a1.4 1.4 0 1 0 2.8 0a1.4 1.4 0 1 0 -2.8 0M478.27 196.58a1.4 1.4 0 1 0 2.8 0a1.4 1.4 0 1 0 -2.8 0M480.38 196.65a1.4 1.4 0 1 0 2.8 0a1.4 1.4 0 1 0 -2.8 0M482.49 196.73a1.4 1.4 0 1 0 2.8 0a1.4 1.4 0 1 0 -2.8 0M484.6 196.8a1.4 1.4 0 1 0 2.8 0a1.4 1.4 0 1 0 -2.8 0M486.71 196.88a1.4 1.4 0 1 0 2.8 0a1.4 1.4 0 1 0 -2.8 0M488.82 196.95a1.4 1.4 0 1 0 2.8 0a1.4 1.4 0 1 0 -2.8 0M490.93 197.03a1.4 1.4 0 1 0 2.8 0a1.4 1.4 0 1 0 -2.8 0M493.04 197.1a1.4 1.4 0 1 0 2.8 0a1.4 1.4 0 1 0 -2.8 0M495.15 197.17a1.4 1.4 0 1 0 2.8 0a1.4 1.4 0 1 0 -2.8 0M497.26 197.24a1.4 1.4 0 1 0 2.8 0a1.4 1.4 0 1 0 -2.8 0M499.37 197.31a1.4 1.4 0 1 0 2.8 0a1.4 1.4 0 1 0 -2.8 0M501.48 197.38a1.4 1.4 0 1 0 2.8 0a1.4 1.4 0 1 0 -2.8 0M503.59 197.45a1.4 1.4 0 1 0 2.8 0a1.4 1.4 0 1 0 -2.8 0M505.7 197.52a1.4 1.4 0 1 0 2.8 0a1.4 1.4 0 1 0 -2.8 0" fill="#fff" stroke="#12dc2a" stroke-width="1.0"/></g><g clip-path="url(#ch)"><path d="M555 195.63a1.4 1.4 0 1 0 2.8 0a1.4 1.4 0 1 0 -2.8 0M557.11 195.63a1.4 1.4 0 1 0 2.8 0a1.4 1.4 0 1 0 -2.8 0M559.22 195.63a1.4 1.4 0 1 0 2.8 0a1.4 1.4 0 1 0 -2.8 0M561.33 195.63a1.4 1.4 0 1 0 2.8 0a1.4 1.4 0 1 0 -2.8 0M563.44 195.63a1.4 1.4 0 1 0 2.8 0a1.4 1.4 0 1 0 -2.8 0M565.55 195.63a1.4 1.4 0 1 0 2.8 0a1.4 1.4 0 1 0 -2.8 0M567.66 195.63a1.4 1.4 0 1 0 2.8 0a1.4 1.4 0 1 0 -2.8 0M569.77 195.63a1.4 1.4 0 1 0 2.8 0a1.4 1.4 0 1 0 -2.8 0M571.88 195.63a1.4 1.4 0 1 0 2.8 0a1.4 1.4 0 1 0 -2.8 0M573.99 195.63a1.4 1.4 0 1 0 2.8 0a1.4 1.4 0 1 0 -2.8 0M576.1 195.63a1.4 1.4 0 1 0 2.8 0a1.4 1.4 0 1 0 -2.8 0M578.21 195.63a1.4 1.4 0 1 0 2.8 0a1.4 1.4 0 1 0 -2.8 0M580.32 195.63a1.4 1.4 0 1 0 2.8 0a1.4 1.4 0 1 0 -2.8 0M582.43 195.63a1.4 1.4 0 1 0 2.8 0a1.4 1.4 0 1 0 -2.8 0M584.54 195.63a1.4 1.4 0 1 0 2.8 0a1.4 1.4 0 1 0 -2.8 0M586.65 195.63a1.4 1.4 0 1 0 2.8 0a1.4 1.4 0 1 0 -2.8 0M588.76 195.63a1.4 1.4 0 1 0 2.8 0a1.4 1.4 0 1 0 -2.8 0M590.87 195.63a1.4 1.4 0 1 0 2.8 0a1.4 1.4 0 1 0 -2.8 0M592.98 195.63a1.4 1.4 0 1 0 2.8 0a1.4 1.4 0 1 0 -2.8 0M595.09 195.63a1.4 1.4 0 1 0 2.8 0a1.4 1.4 0 1 0 -2.8 0M597.2 195.63a1.4 1.4 0 1 0 2.8 0a1.4 1.4 0 1 0 -2.8 0M599.31 195.63a1.4 1.4 0 1 0 2.8 0a1.4 1.4 0 1 0 -2.8 0M601.42 195.63a1.4 1.4 0 1 0 2.8 0a1.4 1.4 0 1 0 -2.8 0M603.53 195.63a1.4 1.4 0 1 0 2.8 0a1.4 1.4 0 1 0 -2.8 0M605.64 195.63a1.4 1.4 0 1 0 2.8 0a1.4 1.4 0 1 0 -2.8 0M607.75 195.63a1.4 1.4 0 1 0 2.8 0a1.4 1.4 0 1 0 -2.8 0M609.86 195.63a1.4 1.4 0 1 0 2.8 0a1.4 1.4 0 1 0 -2.8 0M611.97 195.63a1.4 1.4 0 1 0 2.8 0a1.4 1.4 0 1 0 -2.8 0M614.08 195.63a1.4 1.4 0 1 0 2.8 0a1.4 1.4 0 1 0 -2.8 0M616.19 195.63a1.4 1.4 0 1 0 2.8 0a1.4 1.4 0 1 0 -2.8 0M618.3 195.63a1.4 1.4 0 1 0 2.8 0a1.4 1.4 0 1 0 -2.8 0M620.41 195.63a1.4 1.4 0 1 0 2.8 0a1.4 1.4 0 1 0 -2.8 0M622.52 195.63a1.4 1.4 0 1 0 2.8 0a1.4 1.4 0 1 0 -2.8 0M624.63 195.63a1.4 1.4 0 1 0 2.8 0a1.4 1.4 0 1 0 -2.8 0M626.74 195.63a1.4 1.4 0 1 0 2.8 0a1.4 1.4 0 1 0 -2.8 0M628.85 195.63a1.4 1.4 0 1 0 2.8 0a1.4 1.4 0 1 0 -2.8 0M630.96 195.63a1.4 1.4 0 1 0 2.8 0a1.4 1.4 0 1 0 -2.8 0M633.07 195.63a1.4 1.4 0 1 0 2.8 0a1.4 1.4 0 1 0 -2.8 0M635.18 195.63a1.4 1.4 0 1 0 2.8 0a1.4 1.4 0 1 0 -2.8 0M637.29 195.63a1.4 1.4 0 1 0 2.8 0a1.4 1.4 0 1 0 -2.8 0M639.4 195.63a1.4 1.4 0 1 0 2.8 0a1.4 1.4 0 1 0 -2.8 0M641.51 195.63a1.4 1.4 0 1 0 2.8 0a1.4 1.4 0 1 0 -2.8 0M643.62 195.63a1.4 1.4 0 1 0 2.8 0a1.4 1.4 0 1 0 -2.8 0M645.73 195.63a1.4 1.4 0 1 0 2.8 0a1.4 1.4 0 1 0 -2.8 0M647.84 195.63a1.4 1.4 0 1 0 2.8 0a1.4 1.4 0 1 0 -2.8 0M649.95 195.63a1.4 1.4 0 1 0 2.8 0a1.4 1.4 0 1 0 -2.8 0M652.06 195.63a1.4 1.4 0 1 0 2.8 0a1.4 1.4 0 1 0 -2.8 0M654.17 195.63a1.4 1.4 0 1 0 2.8 0a1.4 1.4 0 1 0 -2.8 0M656.28 195.63a1.4 1.4 0 1 0 2.8 0a1.4 1.4 0 1 0 -2.8 0M658.39 195.63a1.4 1.4 0 1 0 2.8 0a1.4 1.4 0 1 0 -2.8 0M660.5 195.63a1.4 1.4 0 1 0 2.8 0a1.4 1.4 0 1 0 -2.8 0M662.61 195.63a1.4 1.4 0 1 0 2.8 0a1.4 1.4 0 1 0 -2.8 0M664.72 195.63a1.4 1.4 0 1 0 2.8 0a1.4 1.4 0 1 0 -2.8 0M666.83 195.63a1.4 1.4 0 1 0 2.8 0a1.4 1.4 0 1 0 -2.8 0M668.94 195.63a1.4 1.4 0 1 0 2.8 0a1.4 1.4 0 1 0 -2.8 0M671.05 195.63a1.4 1.4 0 1 0 2.8 0a1.4 1.4 0 1 0 -2.8 0M673.16 195.63a1.4 1.4 0 1 0 2.8 0a1.4 1.4 0 1 0 -2.8 0M675.27 195.63a1.4 1.4 0 1 0 2.8 0a1.4 1.4 0 1 0 -2.8 0M677.38 195.63a1.4 1.4 0 1 0 2.8 0a1.4 1.4 0 1 0 -2.8 0M679.49 195.63a1.4 1.4 0 1 0 2.8 0a1.4 1.4 0 1 0 -2.8 0M681.6 195.63a1.4 1.4 0 1 0 2.8 0a1.4 1.4 0 1 0 -2.8 0" fill="#fff" stroke="#ff0000" stroke-width="1.0"/><path d="M555 195.86a1.4 1.4 0 1 0 2.8 0a1.4 1.4 0 1 0 -2.8 0M557.11 195.86a1.4 1.4 0 1 0 2.8 0a1.4 1.4 0 1 0 -2.8 0M559.22 195.86a1.4 1.4 0 1 0 2.8 0a1.4 1.4 0 1 0 -2.8 0M561.33 195.86a1.4 1.4 0 1 0 2.8 0a1.4 1.4 0 1 0 -2.8 0M563.44 195.86a1.4 1.4 0 1 0 2.8 0a1.4 1.4 0 1 0 -2.8 0M565.55 195.86a1.4 1.4 0 1 0 2.8 0a1.4 1.4 0 1 0 -2.8 0M567.66 195.86a1.4 1.4 0 1 0 2.8 0a1.4 1.4 0 1 0 -2.8 0M569.77 195.86a1.4 1.4 0 1 0 2.8 0a1.4 1.4 0 1 0 -2.8 0M571.88 195.86a1.4 1.4 0 1 0 2.8 0a1.4 1.4 0 1 0 -2.8 0M573.99 195.86a1.4 1.4 0 1 0 2.8 0a1.4 1.4 0 1 0 -2.8 0M576.1 195.86a1.4 1.4 0 1 0 2.8 0a1.4 1.4 0 1 0 -2.8 0M578.21 195.86a1.4 1.4 0 1 0 2.8 0a1.4 1.4 0 1 0 -2.8 0M580.32 195.86a1.4 1.4 0 1 0 2.8 0a1.4 1.4 0 1 0 -2.8 0M582.43 195.86a1.4 1.4 0 1 0 2.8 0a1.4 1.4 0 1 0 -2.8 0M584.54 195.86a1.4 1.4 0 1 0 2.8 0a1.4 1.4 0 1 0 -2.8 0M586.65 195.86a1.4 1.4 0 1 0 2.8 0a1.4 1.4 0 1 0 -2.8 0M588.76 195.86a1.4 1.4 0 1 0 2.8 0a1.4 1.4 0 1 0 -2.8 0M590.87 195.86a1.4 1.4 0 1 0 2.8 0a1.4 1.4 0 1 0 -2.8 0M592.98 195.86a1.4 1.4 0 1 0 2.8 0a1.4 1.4 0 1 0 -2.8 0M595.09 195.86a1.4 1.4 0 1 0 2.8 0a1.4 1.4 0 1 0 -2.8 0M597.2 195.86a1.4 1.4 0 1 0 2.8 0a1.4 1.4 0 1 0 -2.8 0M599.31 195.86a1.4 1.4 0 1 0 2.8 0a1.4 1.4 0 1 0 -2.8 0M601.42 195.86a1.4 1.4 0 1 0 2.8 0a1.4 1.4 0 1 0 -2.8 0M603.53 195.86a1.4 1.4 0 1 0 2.8 0a1.4 1.4 0 1 0 -2.8 0M605.64 195.86a1.4 1.4 0 1 0 2.8 0a1.4 1.4 0 1 0 -2.8 0M607.75 195.86a1.4 1.4 0 1 0 2.8 0a1.4 1.4 0 1 0 -2.8 0M609.86 195.86a1.4 1.4 0 1 0 2.8 0a1.4 1.4 0 1 0 -2.8 0M611.97 195.86a1.4 1.4 0 1 0 2.8 0a1.4 1.4 0 1 0 -2.8 0M614.08 195.86a1.4 1.4 0 1 0 2.8 0a1.4 1.4 0 1 0 -2.8 0M616.19 195.86a1.4 1.4 0 1 0 2.8 0a1.4 1.4 0 1 0 -2.8 0M618.3 195.86a1.4 1.4 0 1 0 2.8 0a1.4 1.4 0 1 0 -2.8 0M620.41 195.86a1.4 1.4 0 1 0 2.8 0a1.4 1.4 0 1 0 -2.8 0M622.52 195.86a1.4 1.4 0 1 0 2.8 0a1.4 1.4 0 1 0 -2.8 0M624.63 195.86a1.4 1.4 0 1 0 2.8 0a1.4 1.4 0 1 0 -2.8 0M626.74 195.86a1.4 1.4 0 1 0 2.8 0a1.4 1.4 0 1 0 -2.8 0M628.85 195.86a1.4 1.4 0 1 0 2.8 0a1.4 1.4 0 1 0 -2.8 0M630.96 195.86a1.4 1.4 0 1 0 2.8 0a1.4 1.4 0 1 0 -2.8 0M633.07 195.86a1.4 1.4 0 1 0 2.8 0a1.4 1.4 0 1 0 -2.8 0M635.18 195.86a1.4 1.4 0 1 0 2.8 0a1.4 1.4 0 1 0 -2.8 0M637.29 195.86a1.4 1.4 0 1 0 2.8 0a1.4 1.4 0 1 0 -2.8 0M639.4 195.86a1.4 1.4 0 1 0 2.8 0a1.4 1.4 0 1 0 -2.8 0M641.51 195.86a1.4 1.4 0 1 0 2.8 0a1.4 1.4 0 1 0 -2.8 0M643.62 195.86a1.4 1.4 0 1 0 2.8 0a1.4 1.4 0 1 0 -2.8 0M645.73 195.86a1.4 1.4 0 1 0 2.8 0a1.4 1.4 0 1 0 -2.8 0M647.84 195.86a1.4 1.4 0 1 0 2.8 0a1.4 1.4 0 1 0 -2.8 0M649.95 195.86a1.4 1.4 0 1 0 2.8 0a1.4 1.4 0 1 0 -2.8 0M652.06 195.86a1.4 1.4 0 1 0 2.8 0a1.4 1.4 0 1 0 -2.8 0M654.17 195.86a1.4 1.4 0 1 0 2.8 0a1.4 1.4 0 1 0 -2.8 0M656.28 195.86a1.4 1.4 0 1 0 2.8 0a1.4 1.4 0 1 0 -2.8 0M658.39 195.86a1.4 1.4 0 1 0 2.8 0a1.4 1.4 0 1 0 -2.8 0M660.5 195.86a1.4 1.4 0 1 0 2.8 0a1.4 1.4 0 1 0 -2.8 0M662.61 195.86a1.4 1.4 0 1 0 2.8 0a1.4 1.4 0 1 0 -2.8 0M664.72 195.86a1.4 1.4 0 1 0 2.8 0a1.4 1.4 0 1 0 -2.8 0M666.83 195.86a1.4 1.4 0 1 0 2.8 0a1.4 1.4 0 1 0 -2.8 0M668.94 195.86a1.4 1.4 0 1 0 2.8 0a1.4 1.4 0 1 0 -2.8 0M671.05 195.86a1.4 1.4 0 1 0 2.8 0a1.4 1.4 0 1 0 -2.8 0M673.16 195.86a1.4 1.4 0 1 0 2.8 0a1.4 1.4 0 1 0 -2.8 0M675.27 195.86a1.4 1.4 0 1 0 2.8 0a1.4 1.4 0 1 0 -2.8 0M677.38 195.86a1.4 1.4 0 1 0 2.8 0a1.4 1.4 0 1 0 -2.8 0M679.49 195.86a1.4 1.4 0 1 0 2.8 0a1.4 1.4 0 1 0 -2.8 0M681.6 195.86a1.4 1.4 0 1 0 2.8 0a1.4 1.4 0 1 0 -2.8 0" fill="#fff" stroke="#0000ff" stroke-width="1.0"/><path d="M555 196.56a1.4 1.4 0 1 0 2.8 0a1.4 1.4 0 1 0 -2.8 0M557.11 196.55a1.4 1.4 0 1 0 2.8 0a1.4 1.4 0 1 0 -2.8 0M559.22 196.55a1.4 1.4 0 1 0 2.8 0a1.4 1.4 0 1 0 -2.8 0M561.33 196.54a1.4 1.4 0 1 0 2.8 0a1.4 1.4 0 1 0 -2.8 0M563.44 196.54a1.4 1.4 0 1 0 2.8 0a1.4 1.4 0 1 0 -2.8 0M565.55 196.53a1.4 1.4 0 1 0 2.8 0a1.4 1.4 0 1 0 -2.8 0M567.66 196.53a1.4 1.4 0 1 0 2.8 0a1.4 1.4 0 1 0 -2.8 0M569.77 196.52a1.4 1.4 0 1 0 2.8 0a1.4 1.4 0 1 0 -2.8 0M571.88 196.52a1.4 1.4 0 1 0 2.8 0a1.4 1.4 0 1 0 -2.8 0M573.99 196.51a1.4 1.4 0 1 0 2.8 0a1.4 1.4 0 1 0 -2.8 0M576.1 196.51a1.4 1.4 0 1 0 2.8 0a1.4 1.4 0 1 0 -2.8 0M578.21 196.51a1.4 1.4 0 1 0 2.8 0a1.4 1.4 0 1 0 -2.8 0M580.32 196.5a1.4 1.4 0 1 0 2.8 0a1.4 1.4 0 1 0 -2.8 0M582.43 196.5a1.4 1.4 0 1 0 2.8 0a1.4 1.4 0 1 0 -2.8 0M584.54 196.5a1.4 1.4 0 1 0 2.8 0a1.4 1.4 0 1 0 -2.8 0M586.65 196.49a1.4 1.4 0 1 0 2.8 0a1.4 1.4 0 1 0 -2.8 0M588.76 196.49a1.4 1.4 0 1 0 2.8 0a1.4 1.4 0 1 0 -2.8 0M590.87 196.49a1.4 1.4 0 1 0 2.8 0a1.4 1.4 0 1 0 -2.8 0M592.98 196.49a1.4 1.4 0 1 0 2.8 0a1.4 1.4 0 1 0 -2.8 0M595.09 196.48a1.4 1.4 0 1 0 2.8 0a1.4 1.4 0 1 0 -2.8 0M597.2 196.48a1.4 1.4 0 1 0 2.8 0a1.4 1.4 0 1 0 -2.8 0M599.31 196.48a1.4 1.4 0 1 0 2.8 0a1.4 1.4 0 1 0 -2.8 0M601.42 196.48a1.4 1.4 0 1 0 2.8 0a1.4 1.4 0 1 0 -2.8 0M603.53 196.48a1.4 1.4 0 1 0 2.8 0a1.4 1.4 0 1 0 -2.8 0M605.64 196.48a1.4 1.4 0 1 0 2.8 0a1.4 1.4 0 1 0 -2.8 0M607.75 196.48a1.4 1.4 0 1 0 2.8 0a1.4 1.4 0 1 0 -2.8 0M609.86 196.47a1.4 1.4 0 1 0 2.8 0a1.4 1.4 0 1 0 -2.8 0M611.97 196.47a1.4 1.4 0 1 0 2.8 0a1.4 1.4 0 1 0 -2.8 0M614.08 196.47a1.4 1.4 0 1 0 2.8 0a1.4 1.4 0 1 0 -2.8 0M616.19 196.47a1.4 1.4 0 1 0 2.8 0a1.4 1.4 0 1 0 -2.8 0M618.3 196.47a1.4 1.4 0 1 0 2.8 0a1.4 1.4 0 1 0 -2.8 0M620.41 196.47a1.4 1.4 0 1 0 2.8 0a1.4 1.4 0 1 0 -2.8 0M622.52 196.47a1.4 1.4 0 1 0 2.8 0a1.4 1.4 0 1 0 -2.8 0M624.63 196.47a1.4 1.4 0 1 0 2.8 0a1.4 1.4 0 1 0 -2.8 0M626.74 196.47a1.4 1.4 0 1 0 2.8 0a1.4 1.4 0 1 0 -2.8 0M628.85 196.48a1.4 1.4 0 1 0 2.8 0a1.4 1.4 0 1 0 -2.8 0M630.96 196.48a1.4 1.4 0 1 0 2.8 0a1.4 1.4 0 1 0 -2.8 0M633.07 196.48a1.4 1.4 0 1 0 2.8 0a1.4 1.4 0 1 0 -2.8 0M635.18 196.48a1.4 1.4 0 1 0 2.8 0a1.4 1.4 0 1 0 -2.8 0M637.29 196.48a1.4 1.4 0 1 0 2.8 0a1.4 1.4 0 1 0 -2.8 0M639.4 196.48a1.4 1.4 0 1 0 2.8 0a1.4 1.4 0 1 0 -2.8 0M641.51 196.48a1.4 1.4 0 1 0 2.8 0a1.4 1.4 0 1 0 -2.8 0M643.62 196.49a1.4 1.4 0 1 0 2.8 0a1.4 1.4 0 1 0 -2.8 0M645.73 196.49a1.4 1.4 0 1 0 2.8 0a1.4 1.4 0 1 0 -2.8 0M647.84 196.49a1.4 1.4 0 1 0 2.8 0a1.4 1.4 0 1 0 -2.8 0M649.95 196.49a1.4 1.4 0 1 0 2.8 0a1.4 1.4 0 1 0 -2.8 0M652.06 196.5a1.4 1.4 0 1 0 2.8 0a1.4 1.4 0 1 0 -2.8 0M654.17 196.5a1.4 1.4 0 1 0 2.8 0a1.4 1.4 0 1 0 -2.8 0M656.28 196.5a1.4 1.4 0 1 0 2.8 0a1.4 1.4 0 1 0 -2.8 0M658.39 196.51a1.4 1.4 0 1 0 2.8 0a1.4 1.4 0 1 0 -2.8 0M660.5 196.51a1.4 1.4 0 1 0 2.8 0a1.4 1.4 0 1 0 -2.8 0M662.61 196.51a1.4 1.4 0 1 0 2.8 0a1.4 1.4 0 1 0 -2.8 0M664.72 196.52a1.4 1.4 0 1 0 2.8 0a1.4 1.4 0 1 0 -2.8 0M666.83 196.52a1.4 1.4 0 1 0 2.8 0a1.4 1.4 0 1 0 -2.8 0M668.94 196.53a1.4 1.4 0 1 0 2.8 0a1.4 1.4 0 1 0 -2.8 0M671.05 196.53a1.4 1.4 0 1 0 2.8 0a1.4 1.4 0 1 0 -2.8 0M673.16 196.54a1.4 1.4 0 1 0 2.8 0a1.4 1.4 0 1 0 -2.8 0M675.27 196.54a1.4 1.4 0 1 0 2.8 0a1.4 1.4 0 1 0 -2.8 0M677.38 196.55a1.4 1.4 0 1 0 2.8 0a1.4 1.4 0 1 0 -2.8 0M679.49 196.55a1.4 1.4 0 1 0 2.8 0a1.4 1.4 0 1 0 -2.8 0M681.6 196.56a1.4 1.4 0 1 0 2.8 0a1.4 1.4 0 1 0 -2.8 0" fill="#fff" stroke="#15cd6d" stroke-width="1.0"/></g></g>
<rect x="49.5" y="0" width="85" height="36" fill="#fff"/><text font-family="Liberation Serif, serif" font-weight="bold" font-style="italic" font-size="15" fill="#1fcf74" stroke="#1fcf74" stroke-width="0.45" x="44.6" y="8.2">z</text><text font-family="Liberation Serif, serif" font-weight="bold" font-style="italic" font-size="15" fill="#ff1a1a" stroke="#ff1a1a" stroke-width="0.45" x="83.4" y="17">x</text><text font-family="Liberation Serif, serif" font-weight="bold" font-style="italic" font-size="15.5" fill="#1a1aff" stroke="#1a1aff" stroke-width="0.45" x="64.8" y="36.8">y</text><circle cx="57.7" cy="13.4" r="5.4" fill="#fff" stroke="#000" stroke-width="2.1"/><circle cx="57.7" cy="13.5" r="1.6" fill="#000"/><path d="M63 13.3H72" stroke="#000" stroke-width="1.9"/><path d="M81.2 13.3L70.6 10.3L72 13.3L70.6 16.3Z" fill="#000"/><path d="M57.8 18.5V28" stroke="#000" stroke-width="1.9"/><path d="M57.8 37.5L54.6 26.9L57.8 28.4L61 26.9Z" fill="#000"/><path d="M97.4 10L108.8 10L107.9 33L96.8 32.6Z" fill="#f6b487"/><path d="M120.6 9.5L130.2 9L129.6 29.3L120.3 29.7Z" fill="#f6b487"/><path d="M102.6 22L106.5 16.5L108.6 15.5L108.3 24.5L102.8 24Z" fill="#eb9e6c" opacity="0.75"/><path d="M120.5 15.2L124.8 13.2L123.6 20.5L120.4 22.5Z" fill="#eb9e6c" opacity="0.75"/><path d="M108.7 15.4H120.4V21.6Q120.4 24.4 117.6 24.4H111.5Q108.7 24.4 108.7 21.6Z" fill="#ee7d84" stroke="#e2606c" stroke-width="0.5"/><path d="M110.9 10H113.1L112.4 34.7H110.3Z" fill="#f6b487"/><path d="M115.8 10H118L117.3 34.7H114.9Z" fill="#f6b487"/><path d="M111.3 34.6L111.7 37.9 M116.2 34.6L115.8 37.9" stroke="#000" stroke-width="1.2"/><path d="M107.3 5H103.6V12.8 M119.3 4.4H124.5V12.2" stroke="#000" stroke-width="1.4" fill="none"/><circle cx="110.4" cy="4.5" r="3.05" fill="none" stroke="#000" stroke-width="1.35"/><circle cx="116" cy="4.5" r="3.05" fill="none" stroke="#000" stroke-width="1.35"/><circle cx="113.7" cy="42.3" r="4.65" fill="#fff" stroke="#000" stroke-width="1.2"/><text font-family="Liberation Sans, sans-serif" font-size="8.2" fill="#000" stroke="#000" stroke-width="0.35" x="113.5" y="45.5" text-anchor="middle">V</text>
</svg></body></html>
